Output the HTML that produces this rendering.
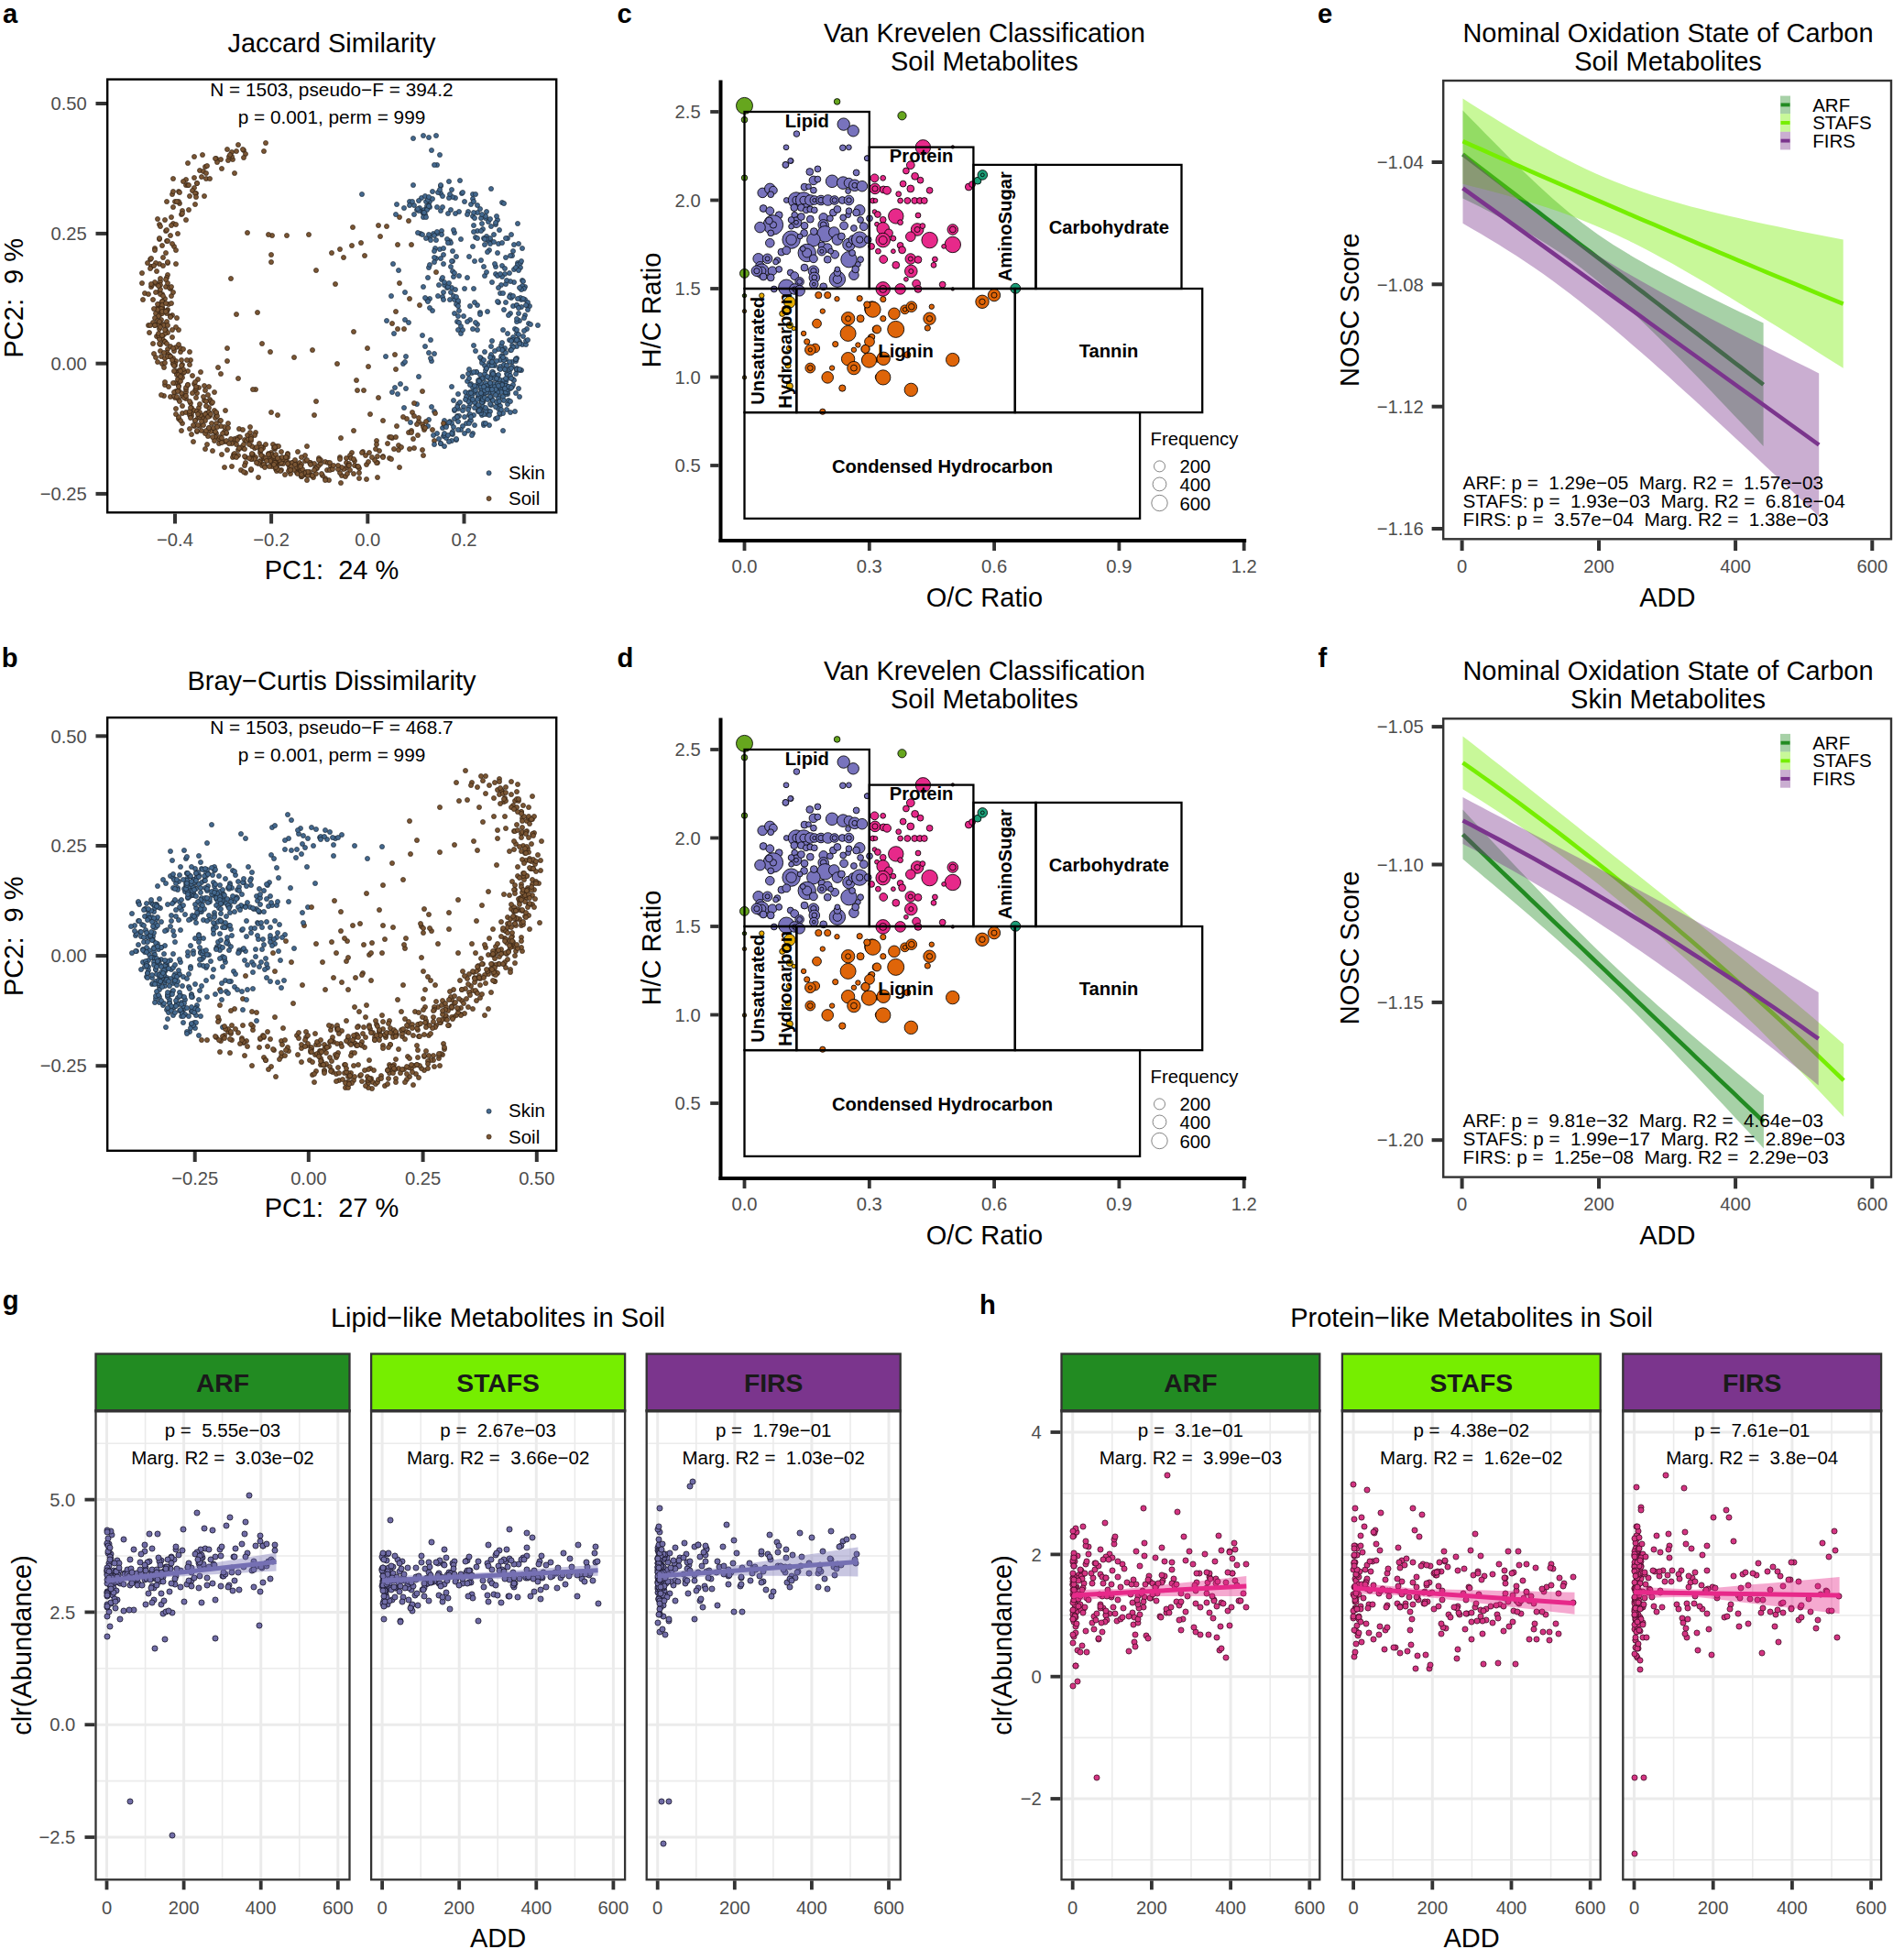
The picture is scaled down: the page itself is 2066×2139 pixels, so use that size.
<!DOCTYPE html>
<html><head><meta charset="utf-8"><title>Figure</title>
<style>
html,body{margin:0;padding:0;background:#fff;}
svg{display:block;}
text{font-family:"Liberation Sans", Arial, Helvetica, sans-serif;white-space:pre;}
.pc circle{r:2.55px;stroke-width:.6px}
.s{fill:#44698f;stroke:#14202c}
.o{fill:#7a5634;stroke:#2a1a0c}
.fg circle{r:3.05px;stroke-width:.85px}
</style></head>
<body>
<svg xmlns="http://www.w3.org/2000/svg" width="2066" height="2139" viewBox="0 0 2066 2139">
<rect x="0" y="0" width="2066" height="2139" fill="#fff"/>
<text x="362.0" y="56.5" font-size="29" text-anchor="middle" fill="#000">Jaccard Similarity</text>
<g class="pc"><circle class="s" cx="505" cy="465"/><circle class="s" cx="559" cy="422"/><circle class="o" cx="261" cy="477"/><circle class="o" cx="375" cy="281"/><circle class="o" cx="400" cy="507"/><circle class="o" cx="308" cy="505"/><circle class="s" cx="500" cy="360"/><circle class="s" cx="479" cy="311"/><circle class="s" cx="560" cy="274"/><circle class="s" cx="538" cy="390"/><circle class="s" cx="524" cy="341"/><circle class="o" cx="241" cy="408"/><circle class="o" cx="296" cy="494"/><circle class="s" cx="462" cy="233"/><circle class="s" cx="540" cy="423"/><circle class="o" cx="377" cy="511"/><circle class="o" cx="284" cy="494"/><circle class="s" cx="496" cy="448"/><circle class="s" cx="527" cy="439"/><circle class="o" cx="267" cy="480"/><circle class="s" cx="469" cy="220"/><circle class="o" cx="312" cy="502"/><circle class="o" cx="199" cy="398"/><circle class="o" cx="288" cy="500"/><circle class="o" cx="373" cy="519"/><circle class="o" cx="212" cy="171"/><circle class="o" cx="229" cy="436"/><circle class="o" cx="205" cy="405"/><circle class="o" cx="192" cy="406"/><circle class="o" cx="223" cy="437"/><circle class="o" cx="230" cy="438"/><circle class="s" cx="535" cy="418"/><circle class="o" cx="215" cy="200"/><circle class="o" cx="215" cy="200"/><circle class="s" cx="550" cy="426"/><circle class="s" cx="496" cy="254"/><circle class="s" cx="548" cy="388"/><circle class="s" cx="477" cy="255"/><circle class="o" cx="179" cy="432"/><circle class="o" cx="249" cy="175"/><circle class="s" cx="567" cy="373"/><circle class="o" cx="342" cy="521"/><circle class="o" cx="275" cy="501"/><circle class="s" cx="565" cy="370"/><circle class="s" cx="512" cy="453"/><circle class="o" cx="309" cy="506"/><circle class="s" cx="551" cy="380"/><circle class="s" cx="500" cy="330"/><circle class="o" cx="412" cy="505"/><circle class="s" cx="564" cy="364"/><circle class="s" cx="554" cy="441"/><circle class="o" cx="199" cy="230"/><circle class="s" cx="550" cy="338"/><circle class="s" cx="500" cy="446"/><circle class="o" cx="172" cy="339"/><circle class="s" cx="521" cy="252"/><circle class="s" cx="553" cy="408"/><circle class="o" cx="422" cy="247"/><circle class="s" cx="544" cy="442"/><circle class="s" cx="525" cy="425"/><circle class="o" cx="338" cy="515"/><circle class="s" cx="556" cy="406"/><circle class="s" cx="442" cy="319"/><circle class="o" cx="208" cy="393"/><circle class="o" cx="191" cy="434"/><circle class="s" cx="527" cy="250"/><circle class="s" cx="549" cy="360"/><circle class="s" cx="525" cy="284"/><circle class="s" cx="566" cy="372"/><circle class="s" cx="519" cy="259"/><circle class="o" cx="301" cy="512"/><circle class="s" cx="549" cy="382"/><circle class="o" cx="191" cy="399"/><circle class="o" cx="361" cy="509"/><circle class="o" cx="236" cy="462"/><circle class="o" cx="325" cy="512"/><circle class="o" cx="199" cy="432"/><circle class="s" cx="538" cy="421"/><circle class="o" cx="195" cy="416"/><circle class="s" cx="520" cy="442"/><circle class="s" cx="546" cy="452"/><circle class="o" cx="278" cy="489"/><circle class="o" cx="346" cy="511"/><circle class="s" cx="442" cy="349"/><circle class="o" cx="359" cy="524"/><circle class="s" cx="455" cy="229"/><circle class="o" cx="313" cy="257"/><circle class="o" cx="170" cy="342"/><circle class="s" cx="564" cy="391"/><circle class="s" cx="568" cy="292"/><circle class="s" cx="545" cy="433"/><circle class="o" cx="224" cy="490"/><circle class="o" cx="340" cy="519"/><circle class="o" cx="296" cy="278"/><circle class="s" cx="545" cy="402"/><circle class="o" cx="432" cy="403"/><circle class="s" cx="528" cy="260"/><circle class="o" cx="181" cy="360"/><circle class="o" cx="386" cy="362"/><circle class="o" cx="185" cy="388"/><circle class="o" cx="435" cy="491"/><circle class="o" cx="256" cy="482"/><circle class="o" cx="178" cy="366"/><circle class="s" cx="497" cy="216"/><circle class="s" cx="536" cy="247"/><circle class="o" cx="180" cy="420"/><circle class="o" cx="345" cy="438"/><circle class="s" cx="578" cy="334"/><circle class="s" cx="481" cy="484"/><circle class="o" cx="413" cy="246"/><circle class="o" cx="375" cy="512"/><circle class="s" cx="530" cy="418"/><circle class="o" cx="167" cy="375"/><circle class="s" cx="537" cy="436"/><circle class="s" cx="558" cy="256"/><circle class="o" cx="186" cy="433"/><circle class="s" cx="484" cy="476"/><circle class="o" cx="302" cy="514"/><circle class="o" cx="178" cy="354"/><circle class="s" cx="528" cy="429"/><circle class="s" cx="459" cy="255"/><circle class="o" cx="174" cy="318"/><circle class="o" cx="188" cy="212"/><circle class="s" cx="542" cy="425"/><circle class="s" cx="541" cy="299"/><circle class="o" cx="236" cy="454"/><circle class="s" cx="540" cy="399"/><circle class="s" cx="559" cy="395"/><circle class="o" cx="183" cy="381"/><circle class="o" cx="301" cy="501"/><circle class="o" cx="203" cy="240"/><circle class="o" cx="284" cy="491"/><circle class="s" cx="548" cy="416"/><circle class="s" cx="440" cy="397"/><circle class="o" cx="182" cy="220"/><circle class="s" cx="469" cy="226"/><circle class="o" cx="231" cy="462"/><circle class="s" cx="487" cy="478"/><circle class="o" cx="288" cy="500"/><circle class="o" cx="418" cy="498"/><circle class="o" cx="255" cy="496"/><circle class="s" cx="535" cy="434"/><circle class="s" cx="498" cy="332"/><circle class="o" cx="461" cy="463"/><circle class="s" cx="505" cy="411"/><circle class="o" cx="174" cy="359"/><circle class="o" cx="272" cy="480"/><circle class="o" cx="298" cy="485"/><circle class="o" cx="425" cy="500"/><circle class="o" cx="389" cy="415"/><circle class="o" cx="174" cy="288"/><circle class="s" cx="547" cy="389"/><circle class="s" cx="496" cy="342"/><circle class="o" cx="174" cy="245"/><circle class="o" cx="297" cy="509"/><circle class="o" cx="178" cy="371"/><circle class="o" cx="209" cy="445"/><circle class="o" cx="246" cy="482"/><circle class="o" cx="335" cy="524"/><circle class="o" cx="335" cy="487"/><circle class="o" cx="344" cy="511"/><circle class="s" cx="541" cy="428"/><circle class="o" cx="195" cy="457"/><circle class="s" cx="518" cy="285"/><circle class="s" cx="501" cy="231"/><circle class="o" cx="297" cy="257"/><circle class="s" cx="565" cy="244"/><circle class="s" cx="472" cy="217"/><circle class="o" cx="200" cy="407"/><circle class="o" cx="212" cy="205"/><circle class="o" cx="343" cy="453"/><circle class="s" cx="537" cy="308"/><circle class="o" cx="248" cy="163"/><circle class="s" cx="566" cy="266"/><circle class="o" cx="311" cy="518"/><circle class="s" cx="560" cy="368"/><circle class="s" cx="431" cy="423"/><circle class="o" cx="279" cy="499"/><circle class="o" cx="231" cy="470"/><circle class="o" cx="182" cy="351"/><circle class="s" cx="529" cy="301"/><circle class="o" cx="180" cy="373"/><circle class="o" cx="198" cy="234"/><circle class="o" cx="436" cy="237"/><circle class="o" cx="258" cy="165"/><circle class="o" cx="215" cy="429"/><circle class="o" cx="323" cy="506"/><circle class="o" cx="197" cy="384"/><circle class="o" cx="241" cy="174"/><circle class="s" cx="526" cy="438"/><circle class="s" cx="559" cy="377"/><circle class="s" cx="573" cy="327"/><circle class="s" cx="535" cy="262"/><circle class="s" cx="529" cy="399"/><circle class="s" cx="527" cy="438"/><circle class="o" cx="457" cy="460"/><circle class="o" cx="300" cy="490"/><circle class="o" cx="183" cy="363"/><circle class="s" cx="512" cy="444"/><circle class="o" cx="233" cy="468"/><circle class="o" cx="413" cy="434"/><circle class="s" cx="569" cy="335"/><circle class="s" cx="531" cy="452"/><circle class="o" cx="446" cy="472"/><circle class="o" cx="176" cy="349"/><circle class="o" cx="236" cy="451"/><circle class="s" cx="560" cy="334"/><circle class="s" cx="528" cy="464"/><circle class="o" cx="378" cy="505"/><circle class="s" cx="516" cy="217"/><circle class="o" cx="247" cy="473"/><circle class="s" cx="487" cy="464"/><circle class="o" cx="171" cy="310"/><circle class="o" cx="192" cy="446"/><circle class="o" cx="183" cy="338"/><circle class="o" cx="198" cy="429"/><circle class="s" cx="561" cy="294"/><circle class="s" cx="529" cy="408"/><circle class="s" cx="575" cy="359"/><circle class="o" cx="302" cy="507"/><circle class="s" cx="500" cy="441"/><circle class="o" cx="274" cy="513"/><circle class="s" cx="533" cy="263"/><circle class="o" cx="209" cy="454"/><circle class="o" cx="213" cy="426"/><circle class="o" cx="203" cy="202"/><circle class="s" cx="545" cy="443"/><circle class="s" cx="526" cy="425"/><circle class="s" cx="504" cy="211"/><circle class="s" cx="530" cy="238"/><circle class="o" cx="243" cy="482"/><circle class="o" cx="165" cy="291"/><circle class="s" cx="427" cy="323"/><circle class="s" cx="557" cy="342"/><circle class="s" cx="537" cy="408"/><circle class="o" cx="199" cy="451"/><circle class="o" cx="180" cy="326"/><circle class="s" cx="471" cy="164"/><circle class="s" cx="482" cy="305"/><circle class="s" cx="460" cy="230"/><circle class="o" cx="181" cy="313"/><circle class="o" cx="156" cy="327"/><circle class="o" cx="191" cy="220"/><circle class="s" cx="535" cy="266"/><circle class="o" cx="212" cy="448"/><circle class="o" cx="287" cy="488"/><circle class="s" cx="481" cy="211"/><circle class="s" cx="503" cy="261"/><circle class="s" cx="513" cy="349"/><circle class="o" cx="362" cy="512"/><circle class="s" cx="543" cy="414"/><circle class="o" cx="386" cy="470"/><circle class="s" cx="509" cy="462"/><circle class="s" cx="548" cy="427"/><circle class="s" cx="430" cy="364"/><circle class="s" cx="478" cy="210"/><circle class="o" cx="192" cy="394"/><circle class="o" cx="261" cy="468"/><circle class="s" cx="518" cy="439"/><circle class="o" cx="330" cy="517"/><circle class="s" cx="534" cy="421"/><circle class="o" cx="381" cy="506"/><circle class="s" cx="517" cy="429"/><circle class="o" cx="392" cy="522"/><circle class="o" cx="458" cy="333"/><circle class="o" cx="215" cy="471"/><circle class="s" cx="499" cy="454"/><circle class="s" cx="546" cy="443"/><circle class="o" cx="295" cy="500"/><circle class="s" cx="537" cy="411"/><circle class="s" cx="554" cy="409"/><circle class="o" cx="190" cy="269"/><circle class="o" cx="172" cy="336"/><circle class="s" cx="481" cy="203"/><circle class="s" cx="532" cy="340"/><circle class="o" cx="224" cy="182"/><circle class="o" cx="196" cy="222"/><circle class="s" cx="451" cy="202"/><circle class="o" cx="411" cy="481"/><circle class="o" cx="220" cy="470"/><circle class="s" cx="544" cy="266"/><circle class="o" cx="357" cy="513"/><circle class="s" cx="544" cy="446"/><circle class="o" cx="345" cy="511"/><circle class="s" cx="521" cy="354"/><circle class="s" cx="564" cy="402"/><circle class="o" cx="245" cy="471"/><circle class="o" cx="386" cy="517"/><circle class="o" cx="183" cy="287"/><circle class="o" cx="180" cy="373"/><circle class="o" cx="203" cy="435"/><circle class="o" cx="214" cy="211"/><circle class="s" cx="564" cy="333"/><circle class="o" cx="355" cy="522"/><circle class="s" cx="495" cy="302"/><circle class="s" cx="527" cy="444"/><circle class="s" cx="494" cy="274"/><circle class="o" cx="182" cy="385"/><circle class="o" cx="177" cy="397"/><circle class="o" cx="177" cy="336"/><circle class="o" cx="266" cy="164"/><circle class="o" cx="302" cy="503"/><circle class="o" cx="211" cy="482"/><circle class="o" cx="192" cy="379"/><circle class="s" cx="516" cy="473"/><circle class="o" cx="227" cy="476"/><circle class="s" cx="477" cy="180"/><circle class="s" cx="552" cy="310"/><circle class="s" cx="554" cy="430"/><circle class="o" cx="177" cy="329"/><circle class="s" cx="552" cy="417"/><circle class="o" cx="423" cy="484"/><circle class="o" cx="449" cy="470"/><circle class="o" cx="265" cy="469"/><circle class="s" cx="531" cy="402"/><circle class="o" cx="329" cy="520"/><circle class="o" cx="167" cy="352"/><circle class="s" cx="521" cy="360"/><circle class="s" cx="544" cy="330"/><circle class="o" cx="402" cy="504"/><circle class="s" cx="506" cy="444"/><circle class="s" cx="468" cy="224"/><circle class="o" cx="287" cy="489"/><circle class="s" cx="537" cy="419"/><circle class="o" cx="348" cy="508"/><circle class="o" cx="240" cy="459"/><circle class="s" cx="552" cy="430"/><circle class="o" cx="450" cy="450"/><circle class="o" cx="245" cy="466"/><circle class="o" cx="339" cy="505"/><circle class="o" cx="387" cy="503"/><circle class="s" cx="551" cy="403"/><circle class="s" cx="534" cy="434"/><circle class="s" cx="525" cy="391"/><circle class="o" cx="400" cy="523"/><circle class="s" cx="422" cy="350"/><circle class="s" cx="517" cy="377"/><circle class="s" cx="513" cy="428"/><circle class="s" cx="503" cy="364"/><circle class="s" cx="468" cy="458"/><circle class="s" cx="541" cy="457"/><circle class="o" cx="372" cy="527"/><circle class="o" cx="192" cy="427"/><circle class="o" cx="392" cy="516"/><circle class="o" cx="268" cy="505"/><circle class="o" cx="219" cy="406"/><circle class="s" cx="555" cy="344"/><circle class="o" cx="223" cy="453"/><circle class="o" cx="238" cy="401"/><circle class="s" cx="455" cy="441"/><circle class="s" cx="549" cy="415"/><circle class="s" cx="558" cy="325"/><circle class="o" cx="307" cy="513"/><circle class="s" cx="565" cy="350"/><circle class="o" cx="177" cy="329"/><circle class="s" cx="542" cy="410"/><circle class="o" cx="224" cy="426"/><circle class="s" cx="498" cy="480"/><circle class="o" cx="228" cy="445"/><circle class="o" cx="175" cy="343"/><circle class="o" cx="212" cy="465"/><circle class="s" cx="532" cy="448"/><circle class="s" cx="528" cy="291"/><circle class="o" cx="216" cy="414"/><circle class="s" cx="511" cy="470"/><circle class="o" cx="373" cy="510"/><circle class="o" cx="207" cy="468"/><circle class="o" cx="427" cy="501"/><circle class="s" cx="556" cy="403"/><circle class="o" cx="399" cy="497"/><circle class="s" cx="573" cy="344"/><circle class="o" cx="279" cy="425"/><circle class="o" cx="269" cy="481"/><circle class="o" cx="276" cy="496"/><circle class="o" cx="275" cy="487"/><circle class="s" cx="452" cy="234"/><circle class="s" cx="522" cy="433"/><circle class="s" cx="467" cy="465"/><circle class="s" cx="493" cy="314"/><circle class="s" cx="531" cy="258"/><circle class="o" cx="279" cy="472"/><circle class="o" cx="306" cy="514"/><circle class="s" cx="505" cy="448"/><circle class="s" cx="549" cy="391"/><circle class="o" cx="212" cy="419"/><circle class="o" cx="333" cy="518"/><circle class="s" cx="557" cy="322"/><circle class="o" cx="203" cy="450"/><circle class="s" cx="546" cy="393"/><circle class="s" cx="395" cy="212"/><circle class="s" cx="524" cy="414"/><circle class="o" cx="184" cy="332"/><circle class="o" cx="263" cy="513"/><circle class="o" cx="368" cy="397"/><circle class="o" cx="425" cy="477"/><circle class="o" cx="182" cy="339"/><circle class="s" cx="519" cy="422"/><circle class="o" cx="428" cy="478"/><circle class="s" cx="570" cy="376"/><circle class="s" cx="492" cy="291"/><circle class="s" cx="478" cy="323"/><circle class="s" cx="534" cy="413"/><circle class="o" cx="271" cy="479"/><circle class="o" cx="169" cy="308"/><circle class="s" cx="549" cy="422"/><circle class="o" cx="209" cy="451"/><circle class="s" cx="468" cy="150"/><circle class="o" cx="173" cy="345"/><circle class="s" cx="483" cy="324"/><circle class="s" cx="494" cy="285"/><circle class="o" cx="412" cy="498"/><circle class="s" cx="472" cy="339"/><circle class="s" cx="494" cy="215"/><circle class="o" cx="190" cy="432"/><circle class="o" cx="176" cy="389"/><circle class="s" cx="513" cy="459"/><circle class="s" cx="507" cy="315"/><circle class="o" cx="228" cy="450"/><circle class="s" cx="531" cy="231"/><circle class="o" cx="414" cy="492"/><circle class="s" cx="546" cy="320"/><circle class="o" cx="235" cy="456"/><circle class="s" cx="493" cy="481"/><circle class="s" cx="554" cy="428"/><circle class="o" cx="333" cy="517"/><circle class="o" cx="319" cy="505"/><circle class="o" cx="180" cy="240"/><circle class="o" cx="221" cy="456"/><circle class="s" cx="473" cy="255"/><circle class="s" cx="539" cy="419"/><circle class="o" cx="394" cy="265"/><circle class="o" cx="254" cy="499"/><circle class="s" cx="543" cy="427"/><circle class="o" cx="192" cy="405"/><circle class="o" cx="329" cy="520"/><circle class="o" cx="183" cy="300"/><circle class="s" cx="515" cy="433"/><circle class="s" cx="517" cy="253"/><circle class="o" cx="265" cy="489"/><circle class="s" cx="497" cy="316"/><circle class="o" cx="177" cy="340"/><circle class="s" cx="529" cy="384"/><circle class="o" cx="306" cy="500"/><circle class="o" cx="170" cy="319"/><circle class="o" cx="194" cy="407"/><circle class="s" cx="516" cy="423"/><circle class="s" cx="447" cy="220"/><circle class="s" cx="514" cy="223"/><circle class="o" cx="184" cy="387"/><circle class="s" cx="534" cy="396"/><circle class="o" cx="333" cy="497"/><circle class="o" cx="398" cy="279"/><circle class="s" cx="474" cy="386"/><circle class="o" cx="210" cy="208"/><circle class="s" cx="547" cy="377"/><circle class="o" cx="461" cy="427"/><circle class="o" cx="256" cy="495"/><circle class="s" cx="521" cy="333"/><circle class="o" cx="296" cy="496"/><circle class="s" cx="526" cy="438"/><circle class="o" cx="278" cy="501"/><circle class="o" cx="290" cy="485"/><circle class="s" cx="536" cy="422"/><circle class="o" cx="195" cy="220"/><circle class="s" cx="557" cy="410"/><circle class="o" cx="270" cy="475"/><circle class="s" cx="552" cy="330"/><circle class="o" cx="191" cy="418"/><circle class="s" cx="475" cy="271"/><circle class="s" cx="520" cy="406"/><circle class="o" cx="284" cy="503"/><circle class="s" cx="485" cy="311"/><circle class="s" cx="464" cy="234"/><circle class="s" cx="463" cy="229"/><circle class="s" cx="525" cy="431"/><circle class="s" cx="512" cy="403"/><circle class="o" cx="325" cy="493"/><circle class="s" cx="536" cy="433"/><circle class="s" cx="435" cy="295"/><circle class="o" cx="328" cy="514"/><circle class="o" cx="188" cy="266"/><circle class="s" cx="516" cy="236"/><circle class="s" cx="448" cy="461"/><circle class="s" cx="575" cy="333"/><circle class="o" cx="216" cy="456"/><circle class="s" cx="500" cy="430"/><circle class="s" cx="488" cy="314"/><circle class="o" cx="208" cy="440"/><circle class="o" cx="295" cy="384"/><circle class="s" cx="566" cy="365"/><circle class="o" cx="404" cy="452"/><circle class="s" cx="559" cy="279"/><circle class="s" cx="466" cy="225"/><circle class="s" cx="565" cy="287"/><circle class="o" cx="195" cy="360"/><circle class="s" cx="564" cy="333"/><circle class="o" cx="256" cy="479"/><circle class="s" cx="538" cy="437"/><circle class="o" cx="164" cy="283"/><circle class="s" cx="458" cy="227"/><circle class="o" cx="248" cy="380"/><circle class="s" cx="570" cy="306"/><circle class="o" cx="236" cy="473"/><circle class="s" cx="535" cy="260"/><circle class="o" cx="260" cy="491"/><circle class="o" cx="427" cy="477"/><circle class="o" cx="431" cy="387"/><circle class="o" cx="201" cy="406"/><circle class="s" cx="552" cy="421"/><circle class="o" cx="278" cy="475"/><circle class="s" cx="441" cy="445"/><circle class="s" cx="546" cy="400"/><circle class="o" cx="240" cy="483"/><circle class="o" cx="316" cy="508"/><circle class="s" cx="526" cy="439"/><circle class="s" cx="536" cy="397"/><circle class="s" cx="561" cy="267"/><circle class="s" cx="551" cy="299"/><circle class="o" cx="274" cy="481"/><circle class="s" cx="474" cy="449"/><circle class="s" cx="492" cy="319"/><circle class="o" cx="306" cy="506"/><circle class="s" cx="548" cy="290"/><circle class="o" cx="298" cy="506"/><circle class="o" cx="194" cy="414"/><circle class="o" cx="189" cy="244"/><circle class="s" cx="587" cy="355"/><circle class="s" cx="522" cy="448"/><circle class="o" cx="249" cy="467"/><circle class="s" cx="538" cy="406"/><circle class="o" cx="235" cy="477"/><circle class="o" cx="245" cy="510"/><circle class="o" cx="302" cy="487"/><circle class="o" cx="270" cy="254"/><circle class="o" cx="402" cy="400"/><circle class="o" cx="180" cy="391"/><circle class="o" cx="248" cy="394"/><circle class="s" cx="562" cy="449"/><circle class="o" cx="315" cy="505"/><circle class="s" cx="552" cy="281"/><circle class="o" cx="254" cy="174"/><circle class="o" cx="173" cy="353"/><circle class="o" cx="293" cy="495"/><circle class="o" cx="231" cy="440"/><circle class="s" cx="524" cy="434"/><circle class="o" cx="197" cy="380"/><circle class="s" cx="570" cy="271"/><circle class="s" cx="512" cy="435"/><circle class="o" cx="175" cy="334"/><circle class="o" cx="205" cy="178"/><circle class="s" cx="505" cy="360"/><circle class="s" cx="483" cy="214"/><circle class="o" cx="382" cy="513"/><circle class="s" cx="528" cy="413"/><circle class="s" cx="534" cy="399"/><circle class="o" cx="213" cy="211"/><circle class="s" cx="527" cy="436"/><circle class="s" cx="531" cy="261"/><circle class="o" cx="171" cy="367"/><circle class="o" cx="179" cy="355"/><circle class="s" cx="561" cy="308"/><circle class="o" cx="193" cy="409"/><circle class="o" cx="224" cy="453"/><circle class="o" cx="195" cy="409"/><circle class="o" cx="296" cy="502"/><circle class="s" cx="565" cy="289"/><circle class="o" cx="302" cy="510"/><circle class="o" cx="239" cy="479"/><circle class="s" cx="564" cy="378"/><circle class="s" cx="515" cy="407"/><circle class="s" cx="533" cy="424"/><circle class="o" cx="195" cy="436"/><circle class="o" cx="165" cy="291"/><circle class="s" cx="552" cy="392"/><circle class="s" cx="542" cy="414"/><circle class="o" cx="303" cy="512"/><circle class="o" cx="173" cy="332"/><circle class="o" cx="294" cy="509"/><circle class="o" cx="172" cy="395"/><circle class="o" cx="352" cy="519"/><circle class="s" cx="562" cy="359"/><circle class="o" cx="457" cy="456"/><circle class="s" cx="485" cy="459"/><circle class="o" cx="401" cy="380"/><circle class="o" cx="201" cy="434"/><circle class="s" cx="502" cy="197"/><circle class="o" cx="317" cy="512"/><circle class="s" cx="564" cy="404"/><circle class="o" cx="189" cy="397"/><circle class="s" cx="550" cy="393"/><circle class="o" cx="263" cy="488"/><circle class="o" cx="177" cy="336"/><circle class="o" cx="299" cy="498"/><circle class="s" cx="511" cy="231"/><circle class="o" cx="433" cy="465"/><circle class="s" cx="469" cy="336"/><circle class="o" cx="351" cy="517"/><circle class="o" cx="258" cy="485"/><circle class="s" cx="530" cy="429"/><circle class="o" cx="186" cy="257"/><circle class="o" cx="165" cy="282"/><circle class="s" cx="496" cy="457"/><circle class="o" cx="214" cy="434"/><circle class="o" cx="247" cy="481"/><circle class="o" cx="265" cy="163"/><circle class="s" cx="548" cy="374"/><circle class="s" cx="505" cy="210"/><circle class="o" cx="268" cy="516"/><circle class="o" cx="256" cy="189"/><circle class="s" cx="536" cy="378"/><circle class="s" cx="484" cy="278"/><circle class="s" cx="464" cy="378"/><circle class="s" cx="534" cy="428"/><circle class="o" cx="203" cy="196"/><circle class="s" cx="476" cy="282"/><circle class="o" cx="321" cy="513"/><circle class="o" cx="287" cy="498"/><circle class="o" cx="180" cy="396"/><circle class="o" cx="223" cy="214"/><circle class="s" cx="542" cy="422"/><circle class="o" cx="213" cy="417"/><circle class="o" cx="207" cy="384"/><circle class="o" cx="218" cy="186"/><circle class="o" cx="314" cy="499"/><circle class="o" cx="162" cy="355"/><circle class="o" cx="180" cy="417"/><circle class="o" cx="362" cy="276"/><circle class="s" cx="577" cy="353"/><circle class="s" cx="556" cy="371"/><circle class="s" cx="543" cy="456"/><circle class="o" cx="336" cy="519"/><circle class="o" cx="303" cy="453"/><circle class="o" cx="177" cy="268"/><circle class="o" cx="286" cy="375"/><circle class="o" cx="171" cy="296"/><circle class="s" cx="535" cy="418"/><circle class="s" cx="536" cy="411"/><circle class="s" cx="566" cy="342"/><circle class="o" cx="350" cy="506"/><circle class="o" cx="285" cy="488"/><circle class="s" cx="442" cy="395"/><circle class="o" cx="169" cy="271"/><circle class="s" cx="483" cy="467"/><circle class="o" cx="185" cy="389"/><circle class="s" cx="500" cy="334"/><circle class="s" cx="421" cy="389"/><circle class="s" cx="502" cy="439"/><circle class="o" cx="384" cy="494"/><circle class="s" cx="543" cy="240"/><circle class="o" cx="189" cy="418"/><circle class="s" cx="551" cy="428"/><circle class="o" cx="207" cy="398"/><circle class="o" cx="240" cy="477"/><circle class="s" cx="528" cy="462"/><circle class="s" cx="547" cy="311"/><circle class="s" cx="503" cy="469"/><circle class="o" cx="218" cy="465"/><circle class="o" cx="334" cy="515"/><circle class="s" cx="539" cy="264"/><circle class="s" cx="469" cy="326"/><circle class="o" cx="203" cy="428"/><circle class="s" cx="477" cy="473"/><circle class="o" cx="397" cy="426"/><circle class="o" cx="446" cy="241"/><circle class="o" cx="225" cy="195"/><circle class="o" cx="327" cy="516"/><circle class="s" cx="521" cy="232"/><circle class="o" cx="275" cy="496"/><circle class="o" cx="229" cy="195"/><circle class="o" cx="304" cy="503"/><circle class="o" cx="252" cy="304"/><circle class="o" cx="155" cy="309"/><circle class="o" cx="355" cy="504"/><circle class="o" cx="189" cy="209"/><circle class="o" cx="301" cy="505"/><circle class="s" cx="549" cy="433"/><circle class="o" cx="372" cy="478"/><circle class="o" cx="175" cy="376"/><circle class="o" cx="179" cy="401"/><circle class="s" cx="524" cy="228"/><circle class="o" cx="169" cy="355"/><circle class="o" cx="360" cy="513"/><circle class="o" cx="475" cy="451"/><circle class="o" cx="222" cy="464"/><circle class="o" cx="336" cy="515"/><circle class="o" cx="333" cy="503"/><circle class="o" cx="430" cy="490"/><circle class="o" cx="188" cy="368"/><circle class="o" cx="217" cy="445"/><circle class="s" cx="503" cy="356"/><circle class="o" cx="253" cy="484"/><circle class="o" cx="186" cy="378"/><circle class="o" cx="217" cy="423"/><circle class="o" cx="232" cy="439"/><circle class="s" cx="531" cy="421"/><circle class="o" cx="296" cy="286"/><circle class="o" cx="199" cy="443"/><circle class="o" cx="192" cy="288"/><circle class="s" cx="507" cy="220"/><circle class="s" cx="496" cy="327"/><circle class="o" cx="428" cy="353"/><circle class="o" cx="174" cy="369"/><circle class="o" cx="246" cy="448"/><circle class="s" cx="466" cy="327"/><circle class="o" cx="222" cy="187"/><circle class="s" cx="531" cy="297"/><circle class="s" cx="563" cy="429"/><circle class="s" cx="466" cy="228"/><circle class="o" cx="411" cy="505"/><circle class="o" cx="216" cy="464"/><circle class="o" cx="203" cy="425"/><circle class="o" cx="274" cy="501"/><circle class="o" cx="206" cy="229"/><circle class="s" cx="563" cy="394"/><circle class="s" cx="539" cy="413"/><circle class="o" cx="330" cy="519"/><circle class="s" cx="548" cy="419"/><circle class="o" cx="239" cy="484"/><circle class="o" cx="192" cy="357"/><circle class="s" cx="545" cy="414"/><circle class="o" cx="188" cy="344"/><circle class="s" cx="557" cy="307"/><circle class="o" cx="241" cy="459"/><circle class="o" cx="307" cy="505"/><circle class="s" cx="482" cy="252"/><circle class="o" cx="184" cy="422"/><circle class="o" cx="260" cy="413"/><circle class="o" cx="324" cy="516"/><circle class="s" cx="506" cy="345"/><circle class="s" cx="474" cy="286"/><circle class="o" cx="266" cy="515"/><circle class="s" cx="485" cy="464"/><circle class="o" cx="203" cy="432"/><circle class="o" cx="341" cy="519"/><circle class="o" cx="449" cy="472"/><circle class="o" cx="289" cy="508"/><circle class="o" cx="273" cy="472"/><circle class="s" cx="530" cy="236"/><circle class="s" cx="537" cy="391"/><circle class="s" cx="543" cy="301"/><circle class="o" cx="285" cy="497"/><circle class="s" cx="526" cy="393"/><circle class="o" cx="274" cy="477"/><circle class="s" cx="484" cy="288"/><circle class="o" cx="182" cy="375"/><circle class="s" cx="520" cy="406"/><circle class="o" cx="463" cy="469"/><circle class="s" cx="554" cy="260"/><circle class="o" cx="345" cy="517"/><circle class="s" cx="556" cy="395"/><circle class="s" cx="548" cy="265"/><circle class="s" cx="546" cy="403"/><circle class="o" cx="232" cy="492"/><circle class="o" cx="241" cy="465"/><circle class="s" cx="433" cy="223"/><circle class="o" cx="173" cy="355"/><circle class="o" cx="175" cy="357"/><circle class="s" cx="513" cy="440"/><circle class="s" cx="549" cy="470"/><circle class="s" cx="522" cy="434"/><circle class="o" cx="197" cy="416"/><circle class="s" cx="542" cy="429"/><circle class="o" cx="305" cy="502"/><circle class="o" cx="296" cy="504"/><circle class="s" cx="535" cy="433"/><circle class="o" cx="441" cy="359"/><circle class="s" cx="447" cy="224"/><circle class="o" cx="418" cy="499"/><circle class="s" cx="480" cy="207"/><circle class="o" cx="295" cy="503"/><circle class="s" cx="529" cy="267"/><circle class="s" cx="494" cy="471"/><circle class="o" cx="200" cy="198"/><circle class="o" cx="371" cy="516"/><circle class="s" cx="542" cy="236"/><circle class="o" cx="225" cy="451"/><circle class="o" cx="343" cy="506"/><circle class="s" cx="541" cy="291"/><circle class="s" cx="474" cy="281"/><circle class="s" cx="539" cy="398"/><circle class="s" cx="543" cy="276"/><circle class="s" cx="546" cy="424"/><circle class="o" cx="175" cy="307"/><circle class="s" cx="514" cy="419"/><circle class="o" cx="261" cy="489"/><circle class="o" cx="444" cy="457"/><circle class="s" cx="564" cy="360"/><circle class="s" cx="481" cy="230"/><circle class="o" cx="214" cy="424"/><circle class="s" cx="443" cy="424"/><circle class="s" cx="482" cy="256"/><circle class="s" cx="552" cy="385"/><circle class="s" cx="563" cy="392"/><circle class="s" cx="499" cy="351"/><circle class="s" cx="477" cy="226"/><circle class="s" cx="556" cy="298"/><circle class="o" cx="237" cy="454"/><circle class="s" cx="540" cy="410"/><circle class="s" cx="510" cy="234"/><circle class="s" cx="467" cy="329"/><circle class="o" cx="199" cy="412"/><circle class="o" cx="189" cy="226"/><circle class="s" cx="549" cy="320"/><circle class="s" cx="529" cy="434"/><circle class="s" cx="568" cy="287"/><circle class="o" cx="177" cy="342"/><circle class="o" cx="189" cy="195"/><circle class="o" cx="461" cy="491"/><circle class="o" cx="158" cy="320"/><circle class="s" cx="525" cy="252"/><circle class="s" cx="548" cy="382"/><circle class="o" cx="276" cy="425"/><circle class="s" cx="526" cy="413"/><circle class="o" cx="195" cy="421"/><circle class="o" cx="182" cy="342"/><circle class="o" cx="192" cy="245"/><circle class="s" cx="567" cy="375"/><circle class="s" cx="547" cy="428"/><circle class="o" cx="181" cy="276"/><circle class="o" cx="436" cy="309"/><circle class="o" cx="177" cy="337"/><circle class="s" cx="560" cy="371"/><circle class="o" cx="285" cy="505"/><circle class="o" cx="371" cy="499"/><circle class="s" cx="491" cy="263"/><circle class="o" cx="242" cy="483"/><circle class="s" cx="522" cy="418"/><circle class="s" cx="485" cy="475"/><circle class="s" cx="429" cy="288"/><circle class="o" cx="385" cy="248"/><circle class="s" cx="521" cy="260"/><circle class="o" cx="195" cy="209"/><circle class="s" cx="574" cy="376"/><circle class="s" cx="517" cy="315"/><circle class="o" cx="338" cy="505"/><circle class="o" cx="409" cy="502"/><circle class="o" cx="229" cy="454"/><circle class="o" cx="226" cy="181"/><circle class="o" cx="411" cy="485"/><circle class="s" cx="495" cy="251"/><circle class="o" cx="435" cy="486"/><circle class="o" cx="224" cy="459"/><circle class="s" cx="537" cy="399"/><circle class="o" cx="242" cy="184"/><circle class="s" cx="489" cy="313"/><circle class="o" cx="228" cy="422"/><circle class="o" cx="434" cy="267"/><circle class="o" cx="234" cy="481"/><circle class="s" cx="557" cy="382"/><circle class="s" cx="517" cy="453"/><circle class="s" cx="554" cy="364"/><circle class="s" cx="471" cy="444"/><circle class="s" cx="500" cy="328"/><circle class="s" cx="513" cy="452"/><circle class="s" cx="452" cy="224"/><circle class="o" cx="387" cy="508"/><circle class="s" cx="492" cy="229"/><circle class="s" cx="466" cy="229"/><circle class="s" cx="548" cy="302"/><circle class="o" cx="234" cy="471"/><circle class="s" cx="495" cy="323"/><circle class="s" cx="470" cy="371"/><circle class="o" cx="329" cy="499"/><circle class="o" cx="259" cy="478"/><circle class="s" cx="524" cy="420"/><circle class="o" cx="180" cy="364"/><circle class="o" cx="286" cy="508"/><circle class="o" cx="236" cy="173"/><circle class="s" cx="533" cy="242"/><circle class="s" cx="540" cy="422"/><circle class="s" cx="534" cy="464"/><circle class="s" cx="471" cy="394"/><circle class="s" cx="457" cy="230"/><circle class="o" cx="358" cy="505"/><circle class="s" cx="516" cy="212"/><circle class="s" cx="511" cy="408"/><circle class="s" cx="532" cy="436"/><circle class="o" cx="324" cy="510"/><circle class="s" cx="518" cy="445"/><circle class="s" cx="462" cy="232"/><circle class="s" cx="537" cy="395"/><circle class="o" cx="196" cy="404"/><circle class="o" cx="230" cy="471"/><circle class="o" cx="177" cy="333"/><circle class="o" cx="169" cy="347"/><circle class="o" cx="235" cy="471"/><circle class="o" cx="315" cy="507"/><circle class="o" cx="205" cy="420"/><circle class="o" cx="432" cy="340"/><circle class="s" cx="573" cy="313"/><circle class="o" cx="213" cy="459"/><circle class="s" cx="559" cy="400"/><circle class="s" cx="576" cy="338"/><circle class="s" cx="523" cy="415"/><circle class="o" cx="155" cy="298"/><circle class="s" cx="530" cy="404"/><circle class="o" cx="163" cy="363"/><circle class="s" cx="526" cy="453"/><circle class="s" cx="518" cy="238"/><circle class="s" cx="546" cy="299"/><circle class="s" cx="470" cy="391"/><circle class="s" cx="552" cy="260"/><circle class="s" cx="534" cy="273"/><circle class="s" cx="526" cy="244"/><circle class="s" cx="543" cy="411"/><circle class="s" cx="517" cy="427"/><circle class="o" cx="203" cy="423"/><circle class="s" cx="544" cy="381"/><circle class="o" cx="190" cy="383"/><circle class="s" cx="483" cy="303"/><circle class="s" cx="535" cy="425"/><circle class="s" cx="530" cy="449"/><circle class="s" cx="451" cy="151"/><circle class="s" cx="530" cy="445"/><circle class="o" cx="260" cy="158"/><circle class="o" cx="275" cy="495"/><circle class="s" cx="564" cy="403"/><circle class="o" cx="396" cy="493"/><circle class="s" cx="541" cy="444"/><circle class="o" cx="225" cy="443"/><circle class="s" cx="525" cy="238"/><circle class="s" cx="569" cy="327"/><circle class="s" cx="576" cy="330"/><circle class="o" cx="317" cy="517"/><circle class="o" cx="228" cy="450"/><circle class="o" cx="207" cy="438"/><circle class="o" cx="214" cy="215"/><circle class="s" cx="510" cy="416"/><circle class="s" cx="521" cy="224"/><circle class="o" cx="472" cy="469"/><circle class="o" cx="225" cy="189"/><circle class="s" cx="514" cy="459"/><circle class="s" cx="518" cy="464"/><circle class="o" cx="247" cy="472"/><circle class="o" cx="174" cy="370"/><circle class="o" cx="438" cy="488"/><circle class="o" cx="213" cy="223"/><circle class="o" cx="390" cy="426"/><circle class="o" cx="220" cy="460"/><circle class="o" cx="191" cy="397"/><circle class="o" cx="250" cy="484"/><circle class="s" cx="428" cy="428"/><circle class="s" cx="560" cy="420"/><circle class="o" cx="209" cy="474"/><circle class="o" cx="173" cy="366"/><circle class="s" cx="490" cy="216"/><circle class="s" cx="525" cy="422"/><circle class="s" cx="552" cy="428"/><circle class="o" cx="390" cy="509"/><circle class="s" cx="531" cy="428"/><circle class="o" cx="339" cy="507"/><circle class="s" cx="499" cy="444"/><circle class="s" cx="553" cy="414"/><circle class="s" cx="468" cy="292"/><circle class="o" cx="169" cy="273"/><circle class="o" cx="164" cy="355"/><circle class="s" cx="543" cy="428"/><circle class="s" cx="530" cy="462"/><circle class="o" cx="174" cy="261"/><circle class="o" cx="183" cy="309"/><circle class="s" cx="544" cy="314"/><circle class="s" cx="569" cy="285"/><circle class="o" cx="290" cy="500"/><circle class="o" cx="182" cy="263"/><circle class="s" cx="491" cy="460"/><circle class="o" cx="183" cy="286"/><circle class="o" cx="227" cy="470"/><circle class="s" cx="516" cy="269"/><circle class="o" cx="187" cy="323"/><circle class="s" cx="560" cy="379"/><circle class="o" cx="432" cy="477"/><circle class="o" cx="207" cy="453"/><circle class="s" cx="520" cy="422"/><circle class="o" cx="218" cy="455"/><circle class="s" cx="570" cy="312"/><circle class="o" cx="177" cy="321"/><circle class="o" cx="288" cy="507"/><circle class="s" cx="554" cy="425"/><circle class="o" cx="182" cy="303"/><circle class="s" cx="567" cy="433"/><circle class="s" cx="465" cy="220"/><circle class="s" cx="536" cy="387"/><circle class="o" cx="289" cy="510"/><circle class="o" cx="314" cy="495"/><circle class="s" cx="524" cy="390"/><circle class="s" cx="558" cy="382"/><circle class="s" cx="528" cy="452"/><circle class="o" cx="316" cy="511"/><circle class="s" cx="549" cy="451"/><circle class="s" cx="501" cy="352"/><circle class="o" cx="283" cy="504"/><circle class="s" cx="507" cy="455"/><circle class="s" cx="569" cy="404"/><circle class="s" cx="572" cy="315"/><circle class="o" cx="451" cy="479"/><circle class="s" cx="567" cy="350"/><circle class="s" cx="460" cy="216"/><circle class="s" cx="461" cy="366"/><circle class="o" cx="211" cy="464"/><circle class="s" cx="532" cy="275"/><circle class="s" cx="535" cy="449"/><circle class="s" cx="446" cy="352"/><circle class="s" cx="468" cy="225"/><circle class="o" cx="434" cy="359"/><circle class="s" cx="517" cy="220"/><circle class="s" cx="490" cy="198"/><circle class="s" cx="558" cy="402"/><circle class="o" cx="325" cy="517"/><circle class="s" cx="544" cy="409"/><circle class="s" cx="530" cy="424"/><circle class="o" cx="196" cy="210"/><circle class="s" cx="501" cy="339"/><circle class="o" cx="436" cy="510"/><circle class="s" cx="574" cy="333"/><circle class="o" cx="327" cy="505"/><circle class="s" cx="542" cy="394"/><circle class="o" cx="172" cy="350"/><circle class="o" cx="392" cy="511"/><circle class="o" cx="329" cy="507"/><circle class="s" cx="480" cy="272"/><circle class="s" cx="500" cy="345"/><circle class="o" cx="299" cy="489"/><circle class="s" cx="571" cy="367"/><circle class="s" cx="542" cy="413"/><circle class="s" cx="538" cy="428"/><circle class="s" cx="511" cy="438"/><circle class="s" cx="476" cy="262"/><circle class="o" cx="170" cy="287"/><circle class="s" cx="510" cy="351"/><circle class="o" cx="440" cy="455"/><circle class="o" cx="378" cy="500"/><circle class="o" cx="187" cy="331"/><circle class="o" cx="170" cy="390"/><circle class="o" cx="260" cy="497"/><circle class="s" cx="500" cy="469"/><circle class="s" cx="566" cy="336"/><circle class="o" cx="288" cy="165"/><circle class="s" cx="472" cy="209"/><circle class="o" cx="369" cy="512"/><circle class="o" cx="176" cy="431"/><circle class="o" cx="173" cy="364"/><circle class="s" cx="571" cy="307"/><circle class="s" cx="493" cy="462"/><circle class="o" cx="319" cy="505"/><circle class="o" cx="237" cy="177"/><circle class="o" cx="233" cy="467"/><circle class="s" cx="540" cy="288"/><circle class="s" cx="544" cy="435"/><circle class="s" cx="557" cy="279"/><circle class="o" cx="456" cy="475"/><circle class="o" cx="213" cy="459"/><circle class="s" cx="552" cy="413"/><circle class="s" cx="563" cy="392"/><circle class="s" cx="469" cy="259"/><circle class="o" cx="249" cy="462"/><circle class="s" cx="525" cy="451"/><circle class="s" cx="456" cy="254"/><circle class="s" cx="551" cy="293"/><circle class="o" cx="175" cy="247"/><circle class="s" cx="470" cy="262"/><circle class="s" cx="519" cy="352"/><circle class="s" cx="556" cy="324"/><circle class="o" cx="186" cy="389"/><circle class="o" cx="348" cy="500"/><circle class="o" cx="380" cy="508"/><circle class="o" cx="172" cy="332"/><circle class="s" cx="443" cy="389"/><circle class="s" cx="558" cy="372"/><circle class="s" cx="548" cy="221"/><circle class="s" cx="563" cy="292"/><circle class="s" cx="550" cy="398"/><circle class="s" cx="560" cy="414"/><circle class="s" cx="568" cy="325"/><circle class="o" cx="314" cy="496"/><circle class="o" cx="452" cy="454"/><circle class="s" cx="524" cy="343"/><circle class="s" cx="468" cy="385"/><circle class="o" cx="285" cy="491"/><circle class="o" cx="343" cy="513"/><circle class="s" cx="555" cy="437"/><circle class="s" cx="498" cy="280"/><circle class="s" cx="494" cy="474"/><circle class="o" cx="282" cy="506"/><circle class="o" cx="193" cy="433"/><circle class="o" cx="205" cy="202"/><circle class="o" cx="293" cy="256"/><circle class="s" cx="495" cy="466"/><circle class="o" cx="462" cy="497"/><circle class="o" cx="327" cy="510"/><circle class="o" cx="350" cy="502"/><circle class="o" cx="253" cy="171"/><circle class="o" cx="328" cy="514"/><circle class="o" cx="224" cy="473"/><circle class="o" cx="406" cy="499"/><circle class="o" cx="175" cy="321"/><circle class="o" cx="253" cy="509"/><circle class="o" cx="186" cy="345"/><circle class="s" cx="463" cy="232"/><circle class="s" cx="541" cy="425"/><circle class="s" cx="529" cy="261"/><circle class="o" cx="212" cy="194"/><circle class="s" cx="519" cy="426"/><circle class="s" cx="480" cy="169"/><circle class="s" cx="481" cy="202"/><circle class="o" cx="200" cy="403"/><circle class="o" cx="226" cy="485"/><circle class="o" cx="332" cy="516"/><circle class="o" cx="181" cy="252"/><circle class="s" cx="563" cy="372"/><circle class="o" cx="418" cy="459"/><circle class="s" cx="524" cy="446"/><circle class="s" cx="462" cy="313"/><circle class="o" cx="273" cy="466"/><circle class="s" cx="508" cy="428"/><circle class="s" cx="509" cy="433"/><circle class="s" cx="492" cy="265"/><circle class="s" cx="462" cy="237"/><circle class="s" cx="465" cy="260"/><circle class="o" cx="228" cy="467"/><circle class="o" cx="195" cy="426"/><circle class="o" cx="186" cy="346"/><circle class="o" cx="274" cy="512"/><circle class="s" cx="498" cy="479"/><circle class="s" cx="481" cy="282"/><circle class="s" cx="536" cy="442"/><circle class="o" cx="382" cy="497"/><circle class="o" cx="309" cy="501"/><circle class="o" cx="307" cy="493"/><circle class="o" cx="162" cy="321"/><circle class="s" cx="519" cy="383"/><circle class="o" cx="186" cy="315"/><circle class="o" cx="175" cy="383"/><circle class="o" cx="266" cy="485"/><circle class="s" cx="465" cy="237"/><circle class="o" cx="224" cy="452"/><circle class="s" cx="474" cy="257"/><circle class="s" cx="536" cy="206"/><circle class="o" cx="183" cy="263"/><circle class="s" cx="545" cy="451"/><circle class="o" cx="204" cy="393"/><circle class="s" cx="469" cy="289"/><circle class="s" cx="441" cy="227"/><circle class="o" cx="335" cy="502"/><circle class="s" cx="474" cy="274"/><circle class="s" cx="507" cy="473"/><circle class="o" cx="218" cy="441"/><circle class="s" cx="501" cy="454"/><circle class="s" cx="493" cy="422"/><circle class="s" cx="432" cy="234"/><circle class="o" cx="282" cy="521"/><circle class="s" cx="525" cy="448"/><circle class="o" cx="242" cy="478"/><circle class="s" cx="485" cy="473"/><circle class="s" cx="517" cy="406"/><circle class="s" cx="522" cy="415"/><circle class="o" cx="189" cy="391"/><circle class="o" cx="301" cy="496"/><circle class="o" cx="462" cy="466"/><circle class="o" cx="198" cy="393"/><circle class="o" cx="189" cy="380"/><circle class="o" cx="189" cy="397"/><circle class="o" cx="207" cy="451"/><circle class="o" cx="174" cy="375"/><circle class="o" cx="252" cy="479"/><circle class="o" cx="198" cy="399"/><circle class="s" cx="495" cy="437"/><circle class="s" cx="484" cy="327"/><circle class="o" cx="258" cy="343"/><circle class="o" cx="227" cy="455"/><circle class="o" cx="165" cy="313"/><circle class="o" cx="355" cy="524"/><circle class="o" cx="268" cy="499"/><circle class="o" cx="315" cy="514"/><circle class="o" cx="268" cy="168"/><circle class="o" cx="308" cy="499"/><circle class="s" cx="488" cy="261"/><circle class="o" cx="281" cy="341"/><circle class="o" cx="195" cy="376"/><circle class="o" cx="452" cy="489"/><circle class="o" cx="291" cy="503"/><circle class="o" cx="296" cy="450"/><circle class="s" cx="467" cy="303"/><circle class="o" cx="215" cy="449"/><circle class="o" cx="256" cy="498"/><circle class="o" cx="465" cy="460"/><circle class="o" cx="322" cy="502"/><circle class="o" cx="391" cy="509"/><circle class="o" cx="318" cy="509"/><circle class="s" cx="468" cy="256"/><circle class="o" cx="272" cy="500"/><circle class="s" cx="493" cy="473"/><circle class="o" cx="215" cy="470"/><circle class="o" cx="223" cy="421"/><circle class="o" cx="258" cy="499"/><circle class="o" cx="280" cy="505"/><circle class="s" cx="521" cy="436"/><circle class="s" cx="526" cy="234"/><circle class="o" cx="337" cy="256"/><circle class="o" cx="178" cy="290"/><circle class="o" cx="474" cy="481"/><circle class="o" cx="174" cy="260"/><circle class="o" cx="410" cy="490"/><circle class="s" cx="491" cy="327"/><circle class="o" cx="219" cy="453"/><circle class="s" cx="555" cy="422"/><circle class="o" cx="176" cy="337"/><circle class="o" cx="172" cy="239"/><circle class="s" cx="462" cy="148"/><circle class="o" cx="383" cy="500"/><circle class="s" cx="545" cy="422"/><circle class="s" cx="557" cy="424"/><circle class="o" cx="412" cy="521"/><circle class="o" cx="447" cy="326"/><circle class="o" cx="329" cy="515"/><circle class="o" cx="175" cy="316"/><circle class="o" cx="172" cy="338"/><circle class="o" cx="195" cy="422"/><circle class="s" cx="569" cy="316"/><circle class="o" cx="303" cy="500"/><circle class="s" cx="499" cy="455"/><circle class="o" cx="183" cy="389"/><circle class="s" cx="522" cy="430"/><circle class="s" cx="512" cy="429"/><circle class="s" cx="566" cy="295"/><circle class="s" cx="494" cy="296"/><circle class="s" cx="564" cy="351"/><circle class="o" cx="366" cy="310"/><circle class="s" cx="548" cy="420"/><circle class="o" cx="267" cy="498"/><circle class="s" cx="571" cy="326"/><circle class="s" cx="549" cy="390"/><circle class="s" cx="525" cy="429"/><circle class="o" cx="415" cy="258"/><circle class="o" cx="197" cy="405"/><circle class="o" cx="190" cy="405"/><circle class="s" cx="543" cy="419"/><circle class="s" cx="550" cy="437"/><circle class="s" cx="574" cy="372"/><circle class="s" cx="563" cy="408"/><circle class="o" cx="177" cy="340"/><circle class="s" cx="508" cy="436"/><circle class="o" cx="301" cy="510"/><circle class="o" cx="312" cy="499"/><circle class="o" cx="190" cy="428"/><circle class="s" cx="561" cy="415"/><circle class="o" cx="274" cy="479"/><circle class="s" cx="560" cy="323"/><circle class="s" cx="500" cy="460"/><circle class="o" cx="190" cy="399"/><circle class="o" cx="253" cy="166"/><circle class="s" cx="537" cy="406"/><circle class="o" cx="321" cy="390"/><circle class="o" cx="304" cy="487"/><circle class="s" cx="493" cy="285"/><circle class="o" cx="300" cy="505"/><circle class="o" cx="168" cy="337"/><circle class="o" cx="221" cy="169"/><circle class="o" cx="200" cy="381"/><circle class="s" cx="567" cy="404"/><circle class="o" cx="317" cy="513"/><circle class="o" cx="192" cy="273"/><circle class="o" cx="484" cy="462"/><circle class="o" cx="188" cy="360"/><circle class="o" cx="167" cy="327"/><circle class="o" cx="363" cy="512"/><circle class="o" cx="183" cy="355"/><circle class="s" cx="522" cy="442"/><circle class="o" cx="166" cy="311"/><circle class="s" cx="537" cy="372"/><circle class="s" cx="487" cy="466"/><circle class="o" cx="161" cy="287"/><circle class="o" cx="168" cy="290"/><circle class="o" cx="360" cy="505"/><circle class="s" cx="483" cy="226"/><circle class="o" cx="180" cy="360"/><circle class="s" cx="529" cy="426"/><circle class="o" cx="187" cy="246"/><circle class="s" cx="473" cy="475"/><circle class="s" cx="555" cy="422"/><circle class="o" cx="214" cy="422"/><circle class="s" cx="538" cy="408"/><circle class="o" cx="300" cy="488"/><circle class="o" cx="377" cy="520"/><circle class="o" cx="234" cy="428"/><circle class="s" cx="491" cy="212"/><circle class="o" cx="193" cy="220"/><circle class="o" cx="262" cy="477"/><circle class="s" cx="519" cy="212"/><circle class="o" cx="371" cy="272"/><circle class="o" cx="199" cy="462"/><circle class="o" cx="250" cy="171"/><circle class="o" cx="178" cy="323"/><circle class="s" cx="531" cy="402"/><circle class="o" cx="267" cy="490"/><circle class="s" cx="541" cy="245"/><circle class="s" cx="526" cy="396"/><circle class="s" cx="437" cy="419"/><circle class="o" cx="207" cy="449"/><circle class="o" cx="293" cy="496"/><circle class="s" cx="547" cy="447"/><circle class="o" cx="330" cy="512"/><circle class="o" cx="181" cy="305"/><circle class="s" cx="484" cy="319"/><circle class="s" cx="501" cy="301"/><circle class="o" cx="210" cy="429"/><circle class="o" cx="328" cy="509"/><circle class="s" cx="511" cy="447"/><circle class="s" cx="535" cy="390"/><circle class="o" cx="243" cy="473"/><circle class="s" cx="490" cy="309"/><circle class="o" cx="251" cy="169"/><circle class="o" cx="210" cy="410"/><circle class="o" cx="174" cy="351"/><circle class="s" cx="537" cy="425"/><circle class="o" cx="208" cy="445"/><circle class="o" cx="234" cy="448"/><circle class="s" cx="477" cy="253"/><circle class="s" cx="479" cy="479"/><circle class="o" cx="272" cy="485"/><circle class="s" cx="564" cy="371"/><circle class="s" cx="510" cy="303"/><circle class="o" cx="169" cy="355"/><circle class="o" cx="225" cy="470"/><circle class="s" cx="567" cy="403"/><circle class="s" cx="517" cy="246"/><circle class="o" cx="236" cy="450"/><circle class="o" cx="381" cy="508"/><circle class="s" cx="489" cy="265"/><circle class="o" cx="205" cy="420"/><circle class="s" cx="461" cy="256"/><circle class="s" cx="525" cy="418"/><circle class="s" cx="434" cy="430"/><circle class="o" cx="197" cy="459"/><circle class="s" cx="553" cy="306"/><circle class="o" cx="182" cy="251"/><circle class="s" cx="564" cy="348"/><circle class="o" cx="345" cy="295"/><circle class="o" cx="283" cy="484"/><circle class="o" cx="314" cy="506"/><circle class="o" cx="178" cy="281"/><circle class="s" cx="532" cy="425"/><circle class="o" cx="227" cy="431"/><circle class="o" cx="329" cy="518"/><circle class="s" cx="518" cy="421"/><circle class="s" cx="545" cy="251"/><circle class="o" cx="386" cy="501"/><circle class="o" cx="242" cy="496"/><circle class="o" cx="371" cy="501"/><circle class="s" cx="550" cy="222"/><circle class="s" cx="572" cy="361"/><circle class="s" cx="542" cy="439"/><circle class="o" cx="299" cy="507"/><circle class="s" cx="490" cy="461"/><circle class="s" cx="485" cy="308"/><circle class="o" cx="196" cy="438"/><circle class="s" cx="567" cy="314"/><circle class="s" cx="553" cy="399"/><circle class="s" cx="489" cy="475"/><circle class="s" cx="481" cy="484"/><circle class="s" cx="522" cy="449"/><circle class="s" cx="543" cy="329"/><circle class="o" cx="207" cy="214"/><circle class="s" cx="528" cy="393"/><circle class="o" cx="222" cy="433"/><circle class="s" cx="498" cy="324"/><circle class="o" cx="206" cy="202"/><circle class="o" cx="267" cy="508"/><circle class="o" cx="198" cy="470"/><circle class="o" cx="185" cy="314"/><circle class="s" cx="541" cy="431"/><circle class="s" cx="497" cy="233"/><circle class="o" cx="195" cy="455"/><circle class="s" cx="535" cy="239"/><circle class="s" cx="524" cy="447"/><circle class="o" cx="395" cy="494"/><circle class="o" cx="280" cy="488"/><circle class="s" cx="572" cy="347"/><circle class="o" cx="194" cy="255"/><circle class="s" cx="545" cy="438"/><circle class="o" cx="403" cy="494"/><circle class="o" cx="186" cy="389"/><circle class="o" cx="235" cy="173"/><circle class="o" cx="230" cy="452"/><circle class="o" cx="447" cy="490"/><circle class="s" cx="512" cy="413"/><circle class="s" cx="516" cy="359"/><circle class="s" cx="528" cy="422"/><circle class="o" cx="188" cy="393"/><circle class="s" cx="514" cy="429"/><circle class="s" cx="576" cy="371"/><circle class="o" cx="369" cy="508"/><circle class="s" cx="464" cy="214"/><circle class="o" cx="266" cy="172"/><circle class="o" cx="208" cy="456"/><circle class="o" cx="179" cy="385"/><circle class="o" cx="379" cy="517"/><circle class="o" cx="322" cy="507"/><circle class="s" cx="467" cy="218"/><circle class="o" cx="228" cy="467"/><circle class="o" cx="175" cy="311"/><circle class="s" cx="456" cy="228"/><circle class="s" cx="534" cy="453"/><circle class="s" cx="539" cy="256"/><circle class="s" cx="540" cy="383"/><circle class="o" cx="290" cy="156"/><circle class="o" cx="197" cy="411"/><circle class="s" cx="553" cy="447"/><circle class="s" cx="485" cy="487"/><circle class="o" cx="237" cy="466"/><circle class="s" cx="496" cy="447"/><circle class="o" cx="199" cy="233"/><circle class="s" cx="523" cy="448"/><circle class="s" cx="565" cy="326"/><circle class="s" cx="457" cy="411"/><circle class="o" cx="449" cy="267"/><circle class="o" cx="181" cy="340"/><circle class="s" cx="474" cy="180"/><circle class="o" cx="177" cy="366"/><circle class="o" cx="189" cy="319"/><circle class="s" cx="474" cy="485"/><circle class="s" cx="464" cy="325"/><circle class="s" cx="517" cy="232"/><circle class="s" cx="557" cy="438"/><circle class="s" cx="496" cy="298"/><circle class="o" cx="341" cy="382"/><circle class="o" cx="187" cy="313"/><circle class="o" cx="232" cy="477"/><circle class="s" cx="468" cy="215"/><circle class="s" cx="512" cy="462"/><circle class="o" cx="165" cy="310"/><circle class="s" cx="558" cy="423"/><circle class="o" cx="452" cy="440"/><circle class="o" cx="476" cy="297"/><circle class="s" cx="557" cy="450"/><circle class="o" cx="312" cy="499"/><circle class="o" cx="218" cy="450"/><circle class="o" cx="193" cy="347"/><circle class="s" cx="524" cy="409"/><circle class="s" cx="490" cy="482"/><circle class="s" cx="515" cy="475"/><circle class="s" cx="535" cy="413"/><circle class="s" cx="535" cy="441"/><circle class="s" cx="513" cy="420"/><circle class="s" cx="551" cy="403"/><circle class="s" cx="450" cy="220"/><circle class="s" cx="476" cy="148"/><circle class="s" cx="484" cy="271"/><circle class="s" cx="513" cy="334"/><circle class="o" cx="187" cy="237"/><circle class="o" cx="464" cy="467"/><circle class="o" cx="364" cy="508"/><circle class="s" cx="512" cy="280"/><circle class="s" cx="579" cy="354"/><circle class="s" cx="523" cy="416"/><circle class="o" cx="168" cy="386"/><circle class="s" cx="516" cy="436"/><circle class="s" cx="551" cy="424"/><circle class="o" cx="348" cy="502"/><circle class="s" cx="532" cy="411"/><circle class="s" cx="457" cy="219"/><circle class="o" cx="384" cy="268"/><circle class="o" cx="164" cy="293"/><circle class="s" cx="541" cy="243"/><circle class="o" cx="181" cy="331"/><circle class="o" cx="192" cy="452"/><circle class="s" cx="514" cy="455"/><circle class="o" cx="455" cy="463"/><circle class="o" cx="216" cy="452"/><circle class="s" cx="518" cy="330"/><circle class="s" cx="566" cy="424"/><circle class="s" cx="489" cy="233"/><circle class="o" cx="220" cy="193"/><circle class="s" cx="558" cy="413"/><circle class="o" cx="175" cy="304"/><circle class="s" cx="493" cy="207"/><circle class="o" cx="173" cy="312"/><circle class="o" cx="248" cy="491"/><circle class="o" cx="225" cy="438"/><circle class="o" cx="259" cy="480"/><circle class="s" cx="544" cy="421"/><circle class="o" cx="194" cy="427"/></g>
<text x="362.0" y="104.8" font-size="20.8" text-anchor="middle" fill="#000">N = 1503, pseudo−F = 394.2</text>
<text x="362.0" y="134.9" font-size="20.8" text-anchor="middle" fill="#000">p = 0.001, perm = 999</text>
<circle cx="533.6" cy="516.2" r="2.55" fill="#44698f" stroke="#14202c" stroke-width="0.6"/>
<circle cx="533.6" cy="544.1" r="2.55" fill="#7a5634" stroke="#2a1a0c" stroke-width="0.6"/>
<text x="555.0" y="522.8" font-size="20.5" text-anchor="start" fill="#000">Skin</text>
<text x="555.0" y="551.4" font-size="20.5" text-anchor="start" fill="#000">Soil</text>
<rect x="117.2" y="86.6" width="490.0" height="472.7" fill="none" stroke="#000" stroke-width="2.4"/>
<line x1="104.5" y1="113.0" x2="116.0" y2="113.0" stroke="#333333" stroke-width="4"/>
<text x="94.8" y="120.2" font-size="20.2" text-anchor="end" fill="#4d4d4d">0.50</text>
<line x1="104.5" y1="254.9" x2="116.0" y2="254.9" stroke="#333333" stroke-width="4"/>
<text x="94.8" y="262.1" font-size="20.2" text-anchor="end" fill="#4d4d4d">0.25</text>
<line x1="104.5" y1="396.7" x2="116.0" y2="396.7" stroke="#333333" stroke-width="4"/>
<text x="94.8" y="403.9" font-size="20.2" text-anchor="end" fill="#4d4d4d">0.00</text>
<line x1="104.5" y1="538.9" x2="116.0" y2="538.9" stroke="#333333" stroke-width="4"/>
<text x="94.8" y="546.1" font-size="20.2" text-anchor="end" fill="#4d4d4d">−0.25</text>
<line x1="191.0" y1="560.5" x2="191.0" y2="571.5" stroke="#333333" stroke-width="4"/>
<text x="191.0" y="596.0" font-size="20.2" text-anchor="middle" fill="#4d4d4d">−0.4</text>
<line x1="296.1" y1="560.5" x2="296.1" y2="571.5" stroke="#333333" stroke-width="4"/>
<text x="296.1" y="596.0" font-size="20.2" text-anchor="middle" fill="#4d4d4d">−0.2</text>
<line x1="401.3" y1="560.5" x2="401.3" y2="571.5" stroke="#333333" stroke-width="4"/>
<text x="401.3" y="596.0" font-size="20.2" text-anchor="middle" fill="#4d4d4d">0.0</text>
<line x1="506.5" y1="560.5" x2="506.5" y2="571.5" stroke="#333333" stroke-width="4"/>
<text x="506.5" y="596.0" font-size="20.2" text-anchor="middle" fill="#4d4d4d">0.2</text>
<text x="362.0" y="631.8" font-size="29" text-anchor="middle" fill="#000">PC1:  24 %</text>
<text x="24.8" y="325.2" font-size="29" text-anchor="middle" fill="#000" transform="rotate(-90 24.8 325.2)">PC2:  9 %</text>
<text x="362.0" y="753.0" font-size="29" text-anchor="middle" fill="#000">Bray−Curtis Dissimilarity</text>
<g class="pc"><circle class="s" cx="220" cy="963"/><circle class="o" cx="257" cy="1123"/><circle class="s" cx="205" cy="980"/><circle class="s" cx="243" cy="981"/><circle class="o" cx="554" cy="1008"/><circle class="o" cx="421" cy="1132"/><circle class="o" cx="464" cy="1099"/><circle class="o" cx="539" cy="1042"/><circle class="s" cx="256" cy="995"/><circle class="o" cx="490" cy="1014"/><circle class="o" cx="425" cy="1171"/><circle class="o" cx="533" cy="1063"/><circle class="o" cx="562" cy="1008"/><circle class="o" cx="565" cy="856"/><circle class="o" cx="493" cy="1091"/><circle class="o" cx="465" cy="1121"/><circle class="o" cx="478" cy="1099"/><circle class="o" cx="578" cy="1014"/><circle class="s" cx="247" cy="1082"/><circle class="s" cx="243" cy="975"/><circle class="o" cx="339" cy="1148"/><circle class="s" cx="274" cy="959"/><circle class="o" cx="548" cy="1040"/><circle class="s" cx="234" cy="996"/><circle class="s" cx="207" cy="1126"/><circle class="o" cx="423" cy="1168"/><circle class="o" cx="414" cy="993"/><circle class="o" cx="569" cy="1023"/><circle class="o" cx="561" cy="907"/><circle class="s" cx="170" cy="1090"/><circle class="o" cx="454" cy="1172"/><circle class="s" cx="193" cy="1095"/><circle class="o" cx="579" cy="948"/><circle class="s" cx="181" cy="1051"/><circle class="s" cx="210" cy="1088"/><circle class="o" cx="401" cy="1180"/><circle class="o" cx="402" cy="1182"/><circle class="o" cx="442" cy="1035"/><circle class="o" cx="520" cy="1083"/><circle class="o" cx="360" cy="1164"/><circle class="s" cx="173" cy="1052"/><circle class="s" cx="311" cy="927"/><circle class="o" cx="432" cy="1156"/><circle class="o" cx="475" cy="1075"/><circle class="s" cx="182" cy="1102"/><circle class="s" cx="207" cy="965"/><circle class="s" cx="251" cy="964"/><circle class="s" cx="182" cy="1053"/><circle class="o" cx="540" cy="1071"/><circle class="o" cx="397" cy="1031"/><circle class="o" cx="520" cy="1092"/><circle class="o" cx="554" cy="1001"/><circle class="s" cx="220" cy="995"/><circle class="s" cx="349" cy="914"/><circle class="s" cx="265" cy="1102"/><circle class="o" cx="367" cy="1040"/><circle class="o" cx="368" cy="1122"/><circle class="s" cx="252" cy="1071"/><circle class="o" cx="395" cy="1137"/><circle class="s" cx="211" cy="960"/><circle class="s" cx="158" cy="992"/><circle class="s" cx="196" cy="1103"/><circle class="s" cx="191" cy="1069"/><circle class="s" cx="176" cy="1047"/><circle class="o" cx="249" cy="1126"/><circle class="o" cx="418" cy="1123"/><circle class="o" cx="372" cy="995"/><circle class="s" cx="217" cy="1130"/><circle class="s" cx="350" cy="913"/><circle class="o" cx="541" cy="1062"/><circle class="o" cx="473" cy="1152"/><circle class="s" cx="274" cy="1013"/><circle class="s" cx="156" cy="1050"/><circle class="o" cx="490" cy="1119"/><circle class="o" cx="576" cy="969"/><circle class="s" cx="259" cy="971"/><circle class="o" cx="516" cy="1081"/><circle class="o" cx="539" cy="1063"/><circle class="s" cx="165" cy="985"/><circle class="s" cx="194" cy="1089"/><circle class="o" cx="367" cy="1172"/><circle class="s" cx="207" cy="956"/><circle class="o" cx="543" cy="862"/><circle class="o" cx="295" cy="1134"/><circle class="s" cx="189" cy="969"/><circle class="s" cx="212" cy="977"/><circle class="o" cx="336" cy="1141"/><circle class="s" cx="243" cy="1055"/><circle class="s" cx="295" cy="978"/><circle class="s" cx="247" cy="1000"/><circle class="o" cx="393" cy="1174"/><circle class="o" cx="460" cy="1011"/><circle class="s" cx="209" cy="1085"/><circle class="o" cx="545" cy="850"/><circle class="o" cx="446" cy="1115"/><circle class="o" cx="576" cy="971"/><circle class="o" cx="577" cy="914"/><circle class="o" cx="420" cy="1129"/><circle class="s" cx="201" cy="1101"/><circle class="o" cx="465" cy="1147"/><circle class="s" cx="193" cy="1095"/><circle class="o" cx="541" cy="1033"/><circle class="o" cx="411" cy="1118"/><circle class="s" cx="242" cy="1006"/><circle class="o" cx="345" cy="1030"/><circle class="o" cx="547" cy="1006"/><circle class="o" cx="449" cy="1166"/><circle class="o" cx="550" cy="1052"/><circle class="o" cx="564" cy="900"/><circle class="s" cx="218" cy="995"/><circle class="o" cx="324" cy="1130"/><circle class="o" cx="451" cy="1184"/><circle class="s" cx="256" cy="984"/><circle class="s" cx="336" cy="915"/><circle class="s" cx="240" cy="973"/><circle class="o" cx="326" cy="1133"/><circle class="s" cx="209" cy="1104"/><circle class="s" cx="252" cy="982"/><circle class="o" cx="580" cy="948"/><circle class="o" cx="429" cy="1168"/><circle class="o" cx="551" cy="891"/><circle class="s" cx="360" cy="908"/><circle class="s" cx="357" cy="916"/><circle class="o" cx="541" cy="1061"/><circle class="s" cx="203" cy="967"/><circle class="o" cx="485" cy="1145"/><circle class="s" cx="210" cy="977"/><circle class="o" cx="552" cy="859"/><circle class="o" cx="510" cy="873"/><circle class="s" cx="211" cy="975"/><circle class="s" cx="202" cy="973"/><circle class="o" cx="496" cy="922"/><circle class="o" cx="447" cy="1175"/><circle class="s" cx="229" cy="1003"/><circle class="o" cx="350" cy="1162"/><circle class="s" cx="198" cy="1109"/><circle class="s" cx="194" cy="969"/><circle class="s" cx="212" cy="1105"/><circle class="s" cx="237" cy="1033"/><circle class="s" cx="242" cy="986"/><circle class="o" cx="569" cy="910"/><circle class="o" cx="583" cy="909"/><circle class="o" cx="574" cy="979"/><circle class="s" cx="264" cy="989"/><circle class="o" cx="575" cy="980"/><circle class="o" cx="539" cy="871"/><circle class="o" cx="571" cy="923"/><circle class="o" cx="530" cy="1034"/><circle class="o" cx="417" cy="1040"/><circle class="s" cx="198" cy="1103"/><circle class="o" cx="462" cy="1060"/><circle class="o" cx="420" cy="1025"/><circle class="s" cx="219" cy="1039"/><circle class="s" cx="170" cy="1058"/><circle class="o" cx="473" cy="1110"/><circle class="o" cx="239" cy="1113"/><circle class="o" cx="470" cy="1070"/><circle class="s" cx="233" cy="1013"/><circle class="s" cx="302" cy="988"/><circle class="o" cx="512" cy="1063"/><circle class="o" cx="574" cy="939"/><circle class="s" cx="174" cy="1077"/><circle class="o" cx="399" cy="1110"/><circle class="s" cx="268" cy="1038"/><circle class="o" cx="520" cy="1068"/><circle class="s" cx="208" cy="1003"/><circle class="o" cx="312" cy="1027"/><circle class="o" cx="562" cy="874"/><circle class="o" cx="573" cy="1000"/><circle class="o" cx="473" cy="1157"/><circle class="s" cx="185" cy="1094"/><circle class="s" cx="219" cy="1040"/><circle class="s" cx="222" cy="983"/><circle class="s" cx="166" cy="1074"/><circle class="s" cx="281" cy="983"/><circle class="o" cx="485" cy="1112"/><circle class="o" cx="481" cy="1116"/><circle class="s" cx="166" cy="1001"/><circle class="o" cx="236" cy="1132"/><circle class="o" cx="326" cy="1127"/><circle class="s" cx="245" cy="983"/><circle class="s" cx="199" cy="1105"/><circle class="s" cx="226" cy="920"/><circle class="s" cx="169" cy="1094"/><circle class="s" cx="295" cy="1024"/><circle class="s" cx="225" cy="1056"/><circle class="s" cx="214" cy="1108"/><circle class="o" cx="307" cy="1136"/><circle class="o" cx="578" cy="937"/><circle class="s" cx="252" cy="984"/><circle class="o" cx="563" cy="1010"/><circle class="o" cx="456" cy="1124"/><circle class="s" cx="149" cy="1038"/><circle class="o" cx="551" cy="1024"/><circle class="s" cx="159" cy="1015"/><circle class="o" cx="572" cy="960"/><circle class="o" cx="567" cy="993"/><circle class="s" cx="183" cy="1112"/><circle class="o" cx="534" cy="857"/><circle class="o" cx="495" cy="1080"/><circle class="o" cx="569" cy="1027"/><circle class="o" cx="457" cy="1118"/><circle class="o" cx="457" cy="1131"/><circle class="o" cx="500" cy="982"/><circle class="s" cx="321" cy="1035"/><circle class="s" cx="205" cy="963"/><circle class="o" cx="426" cy="1122"/><circle class="o" cx="420" cy="1185"/><circle class="o" cx="591" cy="918"/><circle class="o" cx="523" cy="1065"/><circle class="s" cx="302" cy="1023"/><circle class="s" cx="210" cy="999"/><circle class="s" cx="236" cy="1012"/><circle class="o" cx="288" cy="1154"/><circle class="o" cx="370" cy="1171"/><circle class="s" cx="209" cy="1086"/><circle class="o" cx="482" cy="1097"/><circle class="o" cx="483" cy="1151"/><circle class="o" cx="512" cy="1083"/><circle class="o" cx="474" cy="1164"/><circle class="s" cx="187" cy="1005"/><circle class="s" cx="220" cy="980"/><circle class="s" cx="283" cy="995"/><circle class="s" cx="283" cy="970"/><circle class="o" cx="345" cy="1140"/><circle class="s" cx="311" cy="1020"/><circle class="s" cx="173" cy="1036"/><circle class="s" cx="255" cy="1060"/><circle class="o" cx="340" cy="1145"/><circle class="o" cx="552" cy="1016"/><circle class="o" cx="550" cy="976"/><circle class="o" cx="455" cy="917"/><circle class="o" cx="518" cy="1067"/><circle class="o" cx="581" cy="965"/><circle class="s" cx="198" cy="989"/><circle class="o" cx="575" cy="896"/><circle class="o" cx="467" cy="1066"/><circle class="o" cx="369" cy="1149"/><circle class="s" cx="204" cy="1126"/><circle class="s" cx="179" cy="1041"/><circle class="s" cx="161" cy="993"/><circle class="s" cx="151" cy="1005"/><circle class="s" cx="217" cy="993"/><circle class="o" cx="468" cy="1130"/><circle class="s" cx="275" cy="1050"/><circle class="s" cx="210" cy="962"/><circle class="o" cx="290" cy="1157"/><circle class="s" cx="200" cy="1116"/><circle class="o" cx="362" cy="1158"/><circle class="o" cx="577" cy="987"/><circle class="s" cx="269" cy="1022"/><circle class="s" cx="144" cy="997"/><circle class="o" cx="588" cy="964"/><circle class="o" cx="445" cy="1153"/><circle class="s" cx="188" cy="1082"/><circle class="o" cx="407" cy="1127"/><circle class="s" cx="213" cy="948"/><circle class="o" cx="430" cy="1124"/><circle class="o" cx="251" cy="1149"/><circle class="s" cx="217" cy="955"/><circle class="s" cx="158" cy="1039"/><circle class="s" cx="213" cy="969"/><circle class="o" cx="256" cy="1101"/><circle class="s" cx="163" cy="1037"/><circle class="o" cx="480" cy="1116"/><circle class="s" cx="165" cy="1020"/><circle class="o" cx="470" cy="1128"/><circle class="o" cx="296" cy="1164"/><circle class="o" cx="387" cy="1099"/><circle class="s" cx="345" cy="905"/><circle class="o" cx="433" cy="1129"/><circle class="o" cx="577" cy="893"/><circle class="o" cx="308" cy="1140"/><circle class="o" cx="575" cy="956"/><circle class="o" cx="387" cy="1132"/><circle class="s" cx="233" cy="977"/><circle class="s" cx="187" cy="999"/><circle class="s" cx="263" cy="910"/><circle class="s" cx="285" cy="1050"/><circle class="s" cx="160" cy="1034"/><circle class="s" cx="189" cy="1041"/><circle class="o" cx="553" cy="1041"/><circle class="s" cx="226" cy="1088"/><circle class="s" cx="157" cy="1028"/><circle class="s" cx="249" cy="969"/><circle class="s" cx="178" cy="1097"/><circle class="s" cx="171" cy="1003"/><circle class="o" cx="522" cy="1054"/><circle class="o" cx="562" cy="971"/><circle class="s" cx="330" cy="921"/><circle class="o" cx="487" cy="1109"/><circle class="s" cx="211" cy="963"/><circle class="o" cx="265" cy="1119"/><circle class="o" cx="555" cy="1038"/><circle class="o" cx="376" cy="1171"/><circle class="o" cx="463" cy="1168"/><circle class="o" cx="548" cy="863"/><circle class="o" cx="484" cy="1139"/><circle class="s" cx="223" cy="992"/><circle class="o" cx="444" cy="1172"/><circle class="o" cx="404" cy="1123"/><circle class="s" cx="260" cy="962"/><circle class="o" cx="376" cy="1162"/><circle class="s" cx="310" cy="1070"/><circle class="o" cx="329" cy="1144"/><circle class="s" cx="213" cy="1002"/><circle class="o" cx="502" cy="1070"/><circle class="s" cx="185" cy="1091"/><circle class="s" cx="295" cy="1028"/><circle class="o" cx="400" cy="1097"/><circle class="s" cx="174" cy="981"/><circle class="o" cx="444" cy="1126"/><circle class="s" cx="214" cy="991"/><circle class="o" cx="455" cy="1162"/><circle class="o" cx="418" cy="1115"/><circle class="o" cx="450" cy="1118"/><circle class="s" cx="242" cy="1073"/><circle class="s" cx="250" cy="945"/><circle class="o" cx="307" cy="1153"/><circle class="o" cx="551" cy="1050"/><circle class="o" cx="560" cy="1033"/><circle class="s" cx="168" cy="1039"/><circle class="o" cx="517" cy="918"/><circle class="o" cx="385" cy="1010"/><circle class="o" cx="486" cy="1108"/><circle class="s" cx="179" cy="1064"/><circle class="o" cx="589" cy="1007"/><circle class="o" cx="503" cy="1107"/><circle class="o" cx="550" cy="875"/><circle class="s" cx="294" cy="963"/><circle class="s" cx="186" cy="956"/><circle class="s" cx="169" cy="1042"/><circle class="o" cx="545" cy="853"/><circle class="o" cx="403" cy="1042"/><circle class="s" cx="261" cy="1037"/><circle class="o" cx="493" cy="1098"/><circle class="s" cx="291" cy="1067"/><circle class="o" cx="568" cy="980"/><circle class="s" cx="206" cy="969"/><circle class="s" cx="148" cy="1038"/><circle class="s" cx="195" cy="1064"/><circle class="o" cx="406" cy="1029"/><circle class="s" cx="342" cy="923"/><circle class="o" cx="504" cy="1092"/><circle class="o" cx="562" cy="1043"/><circle class="s" cx="206" cy="1004"/><circle class="o" cx="315" cy="1147"/><circle class="o" cx="578" cy="899"/><circle class="s" cx="219" cy="982"/><circle class="s" cx="199" cy="1106"/><circle class="o" cx="569" cy="929"/><circle class="o" cx="394" cy="1173"/><circle class="s" cx="218" cy="1053"/><circle class="o" cx="455" cy="1122"/><circle class="o" cx="414" cy="1127"/><circle class="o" cx="575" cy="956"/><circle class="o" cx="409" cy="1132"/><circle class="s" cx="295" cy="1071"/><circle class="s" cx="191" cy="1063"/><circle class="s" cx="186" cy="1048"/><circle class="o" cx="487" cy="1099"/><circle class="o" cx="380" cy="1175"/><circle class="s" cx="228" cy="1042"/><circle class="o" cx="547" cy="862"/><circle class="o" cx="535" cy="1059"/><circle class="o" cx="561" cy="995"/><circle class="o" cx="334" cy="1126"/><circle class="s" cx="183" cy="1086"/><circle class="o" cx="351" cy="1158"/><circle class="o" cx="527" cy="852"/><circle class="o" cx="386" cy="1179"/><circle class="o" cx="561" cy="971"/><circle class="s" cx="189" cy="1073"/><circle class="o" cx="435" cy="1166"/><circle class="s" cx="269" cy="1005"/><circle class="o" cx="564" cy="992"/><circle class="o" cx="511" cy="1099"/><circle class="s" cx="213" cy="1074"/><circle class="o" cx="275" cy="1163"/><circle class="s" cx="201" cy="928"/><circle class="s" cx="189" cy="1081"/><circle class="o" cx="415" cy="1130"/><circle class="o" cx="471" cy="1016"/><circle class="s" cx="153" cy="1017"/><circle class="o" cx="501" cy="1090"/><circle class="o" cx="384" cy="1149"/><circle class="s" cx="215" cy="1097"/><circle class="o" cx="520" cy="1005"/><circle class="o" cx="359" cy="1142"/><circle class="s" cx="197" cy="1050"/><circle class="s" cx="280" cy="1114"/><circle class="o" cx="453" cy="1104"/><circle class="o" cx="465" cy="1116"/><circle class="o" cx="405" cy="1040"/><circle class="o" cx="443" cy="1024"/><circle class="s" cx="198" cy="1087"/><circle class="o" cx="571" cy="879"/><circle class="o" cx="570" cy="893"/><circle class="o" cx="559" cy="962"/><circle class="o" cx="552" cy="904"/><circle class="s" cx="240" cy="1033"/><circle class="o" cx="300" cy="1110"/><circle class="o" cx="503" cy="1100"/><circle class="s" cx="168" cy="1012"/><circle class="s" cx="168" cy="995"/><circle class="o" cx="352" cy="1162"/><circle class="s" cx="252" cy="1014"/><circle class="o" cx="334" cy="1132"/><circle class="o" cx="522" cy="1058"/><circle class="s" cx="315" cy="915"/><circle class="s" cx="246" cy="1012"/><circle class="s" cx="174" cy="1088"/><circle class="o" cx="360" cy="1154"/><circle class="o" cx="240" cy="1080"/><circle class="o" cx="571" cy="972"/><circle class="s" cx="250" cy="1010"/><circle class="s" cx="154" cy="1022"/><circle class="s" cx="162" cy="1048"/><circle class="s" cx="167" cy="1022"/><circle class="o" cx="468" cy="1152"/><circle class="s" cx="154" cy="1017"/><circle class="s" cx="195" cy="962"/><circle class="s" cx="191" cy="1072"/><circle class="s" cx="197" cy="946"/><circle class="s" cx="203" cy="937"/><circle class="s" cx="198" cy="993"/><circle class="s" cx="162" cy="1021"/><circle class="s" cx="159" cy="992"/><circle class="o" cx="451" cy="1130"/><circle class="s" cx="190" cy="984"/><circle class="o" cx="544" cy="1052"/><circle class="s" cx="366" cy="915"/><circle class="o" cx="418" cy="1141"/><circle class="s" cx="300" cy="1030"/><circle class="o" cx="467" cy="1166"/><circle class="o" cx="378" cy="1049"/><circle class="s" cx="176" cy="1066"/><circle class="o" cx="425" cy="1114"/><circle class="o" cx="405" cy="1177"/><circle class="o" cx="560" cy="879"/><circle class="o" cx="569" cy="1010"/><circle class="s" cx="166" cy="1025"/><circle class="o" cx="407" cy="1181"/><circle class="o" cx="373" cy="1125"/><circle class="o" cx="581" cy="869"/><circle class="o" cx="456" cy="1154"/><circle class="s" cx="198" cy="1094"/><circle class="s" cx="215" cy="998"/><circle class="o" cx="542" cy="1038"/><circle class="o" cx="554" cy="1047"/><circle class="s" cx="267" cy="1048"/><circle class="o" cx="498" cy="1108"/><circle class="o" cx="569" cy="886"/><circle class="o" cx="354" cy="1145"/><circle class="s" cx="227" cy="953"/><circle class="s" cx="257" cy="1063"/><circle class="o" cx="543" cy="1062"/><circle class="s" cx="172" cy="1072"/><circle class="s" cx="196" cy="1063"/><circle class="o" cx="397" cy="1121"/><circle class="o" cx="370" cy="1128"/><circle class="s" cx="235" cy="971"/><circle class="o" cx="476" cy="1119"/><circle class="s" cx="204" cy="959"/><circle class="s" cx="192" cy="964"/><circle class="s" cx="240" cy="966"/><circle class="o" cx="441" cy="1031"/><circle class="s" cx="252" cy="1033"/><circle class="o" cx="305" cy="1156"/><circle class="o" cx="570" cy="1038"/><circle class="s" cx="234" cy="999"/><circle class="o" cx="564" cy="881"/><circle class="s" cx="210" cy="1119"/><circle class="s" cx="228" cy="999"/><circle class="o" cx="293" cy="1167"/><circle class="o" cx="441" cy="1167"/><circle class="o" cx="570" cy="896"/><circle class="s" cx="209" cy="974"/><circle class="o" cx="534" cy="1024"/><circle class="s" cx="233" cy="963"/><circle class="o" cx="546" cy="860"/><circle class="o" cx="540" cy="854"/><circle class="o" cx="398" cy="1143"/><circle class="o" cx="536" cy="1057"/><circle class="s" cx="265" cy="1036"/><circle class="o" cx="403" cy="1119"/><circle class="o" cx="470" cy="1157"/><circle class="o" cx="460" cy="1166"/><circle class="o" cx="372" cy="1139"/><circle class="s" cx="299" cy="937"/><circle class="s" cx="148" cy="1021"/><circle class="o" cx="539" cy="891"/><circle class="s" cx="280" cy="978"/><circle class="s" cx="226" cy="1042"/><circle class="o" cx="364" cy="1137"/><circle class="o" cx="533" cy="973"/><circle class="o" cx="492" cy="1088"/><circle class="o" cx="415" cy="1130"/><circle class="o" cx="416" cy="1174"/><circle class="o" cx="292" cy="1142"/><circle class="o" cx="288" cy="1132"/><circle class="s" cx="166" cy="1067"/><circle class="o" cx="514" cy="1076"/><circle class="s" cx="182" cy="1055"/><circle class="s" cx="249" cy="989"/><circle class="o" cx="395" cy="1141"/><circle class="s" cx="297" cy="988"/><circle class="s" cx="283" cy="995"/><circle class="o" cx="518" cy="1072"/><circle class="s" cx="229" cy="984"/><circle class="o" cx="549" cy="1015"/><circle class="s" cx="209" cy="977"/><circle class="s" cx="241" cy="985"/><circle class="o" cx="448" cy="932"/><circle class="s" cx="160" cy="1066"/><circle class="o" cx="417" cy="1108"/><circle class="o" cx="382" cy="1175"/><circle class="s" cx="234" cy="1008"/><circle class="o" cx="465" cy="1114"/><circle class="s" cx="282" cy="1025"/><circle class="o" cx="527" cy="1052"/><circle class="o" cx="444" cy="1178"/><circle class="o" cx="450" cy="1170"/><circle class="s" cx="211" cy="1038"/><circle class="o" cx="352" cy="1050"/><circle class="o" cx="354" cy="1140"/><circle class="o" cx="590" cy="939"/><circle class="o" cx="558" cy="881"/><circle class="o" cx="504" cy="1080"/><circle class="o" cx="563" cy="1038"/><circle class="o" cx="456" cy="1146"/><circle class="s" cx="190" cy="1065"/><circle class="o" cx="558" cy="992"/><circle class="o" cx="429" cy="1012"/><circle class="s" cx="288" cy="995"/><circle class="s" cx="196" cy="984"/><circle class="o" cx="410" cy="1183"/><circle class="s" cx="227" cy="985"/><circle class="s" cx="180" cy="1054"/><circle class="o" cx="464" cy="1080"/><circle class="o" cx="564" cy="864"/><circle class="o" cx="380" cy="1133"/><circle class="o" cx="482" cy="1113"/><circle class="s" cx="213" cy="1122"/><circle class="s" cx="168" cy="1034"/><circle class="s" cx="220" cy="948"/><circle class="s" cx="225" cy="956"/><circle class="o" cx="362" cy="1028"/><circle class="o" cx="445" cy="1120"/><circle class="s" cx="218" cy="1034"/><circle class="o" cx="382" cy="1172"/><circle class="s" cx="186" cy="1085"/><circle class="s" cx="170" cy="1071"/><circle class="o" cx="220" cy="1135"/><circle class="o" cx="493" cy="1100"/><circle class="s" cx="180" cy="1032"/><circle class="s" cx="234" cy="1001"/><circle class="o" cx="567" cy="1003"/><circle class="o" cx="380" cy="1131"/><circle class="s" cx="280" cy="992"/><circle class="s" cx="249" cy="1030"/><circle class="s" cx="209" cy="965"/><circle class="o" cx="495" cy="1110"/><circle class="s" cx="336" cy="990"/><circle class="o" cx="540" cy="1071"/><circle class="s" cx="203" cy="964"/><circle class="o" cx="580" cy="921"/><circle class="s" cx="212" cy="960"/><circle class="o" cx="540" cy="1046"/><circle class="s" cx="246" cy="1070"/><circle class="s" cx="213" cy="1024"/><circle class="s" cx="290" cy="1046"/><circle class="o" cx="570" cy="979"/><circle class="o" cx="349" cy="1147"/><circle class="s" cx="236" cy="977"/><circle class="o" cx="330" cy="1075"/><circle class="s" cx="207" cy="978"/><circle class="s" cx="184" cy="1101"/><circle class="s" cx="237" cy="977"/><circle class="o" cx="383" cy="1171"/><circle class="s" cx="305" cy="1009"/><circle class="o" cx="581" cy="910"/><circle class="o" cx="525" cy="1046"/><circle class="o" cx="481" cy="1150"/><circle class="s" cx="174" cy="1075"/><circle class="s" cx="162" cy="1059"/><circle class="s" cx="246" cy="959"/><circle class="o" cx="446" cy="1165"/><circle class="o" cx="368" cy="1122"/><circle class="o" cx="562" cy="907"/><circle class="o" cx="386" cy="1138"/><circle class="s" cx="234" cy="950"/><circle class="o" cx="541" cy="1039"/><circle class="s" cx="257" cy="955"/><circle class="s" cx="162" cy="1055"/><circle class="s" cx="239" cy="956"/><circle class="o" cx="320" cy="1095"/><circle class="o" cx="240" cy="1097"/><circle class="o" cx="403" cy="1121"/><circle class="o" cx="581" cy="987"/><circle class="s" cx="222" cy="1054"/><circle class="s" cx="213" cy="963"/><circle class="o" cx="408" cy="1168"/><circle class="o" cx="389" cy="1129"/><circle class="s" cx="215" cy="957"/><circle class="s" cx="167" cy="1073"/><circle class="o" cx="463" cy="992"/><circle class="o" cx="432" cy="1127"/><circle class="s" cx="233" cy="1058"/><circle class="s" cx="167" cy="1045"/><circle class="s" cx="219" cy="941"/><circle class="s" cx="196" cy="1047"/><circle class="o" cx="583" cy="971"/><circle class="o" cx="356" cy="1143"/><circle class="s" cx="190" cy="1099"/><circle class="o" cx="501" cy="874"/><circle class="s" cx="296" cy="933"/><circle class="s" cx="254" cy="950"/><circle class="s" cx="227" cy="967"/><circle class="o" cx="381" cy="1138"/><circle class="o" cx="569" cy="914"/><circle class="o" cx="584" cy="943"/><circle class="o" cx="356" cy="1149"/><circle class="s" cx="212" cy="1000"/><circle class="o" cx="480" cy="881"/><circle class="o" cx="570" cy="938"/><circle class="s" cx="277" cy="1053"/><circle class="o" cx="529" cy="1108"/><circle class="o" cx="570" cy="994"/><circle class="o" cx="541" cy="1040"/><circle class="s" cx="276" cy="1061"/><circle class="s" cx="263" cy="988"/><circle class="o" cx="578" cy="987"/><circle class="s" cx="317" cy="969"/><circle class="s" cx="211" cy="1118"/><circle class="o" cx="467" cy="1158"/><circle class="s" cx="258" cy="979"/><circle class="o" cx="396" cy="1062"/><circle class="o" cx="508" cy="1079"/><circle class="o" cx="507" cy="1106"/><circle class="o" cx="368" cy="1139"/><circle class="s" cx="174" cy="1094"/><circle class="s" cx="188" cy="1085"/><circle class="s" cx="175" cy="991"/><circle class="s" cx="243" cy="1121"/><circle class="s" cx="243" cy="1044"/><circle class="o" cx="249" cy="1123"/><circle class="s" cx="160" cy="986"/><circle class="o" cx="435" cy="1145"/><circle class="o" cx="380" cy="1045"/><circle class="s" cx="207" cy="956"/><circle class="o" cx="558" cy="853"/><circle class="o" cx="569" cy="1034"/><circle class="o" cx="344" cy="1151"/><circle class="s" cx="202" cy="1091"/><circle class="s" cx="236" cy="981"/><circle class="o" cx="392" cy="1104"/><circle class="s" cx="163" cy="1042"/><circle class="s" cx="354" cy="913"/><circle class="s" cx="303" cy="1072"/><circle class="o" cx="561" cy="927"/><circle class="s" cx="185" cy="1095"/><circle class="o" cx="429" cy="1129"/><circle class="s" cx="205" cy="1043"/><circle class="s" cx="295" cy="1012"/><circle class="s" cx="304" cy="958"/><circle class="o" cx="437" cy="1171"/><circle class="s" cx="236" cy="980"/><circle class="s" cx="208" cy="974"/><circle class="s" cx="276" cy="1079"/><circle class="o" cx="571" cy="1009"/><circle class="s" cx="225" cy="952"/><circle class="o" cx="409" cy="1135"/><circle class="o" cx="563" cy="921"/><circle class="s" cx="225" cy="1070"/><circle class="o" cx="388" cy="1139"/><circle class="s" cx="246" cy="1050"/><circle class="s" cx="245" cy="1047"/><circle class="s" cx="171" cy="987"/><circle class="o" cx="438" cy="1104"/><circle class="s" cx="238" cy="984"/><circle class="o" cx="462" cy="1018"/><circle class="s" cx="175" cy="1053"/><circle class="s" cx="243" cy="971"/><circle class="s" cx="167" cy="1026"/><circle class="s" cx="364" cy="922"/><circle class="s" cx="340" cy="903"/><circle class="s" cx="231" cy="976"/><circle class="o" cx="411" cy="1130"/><circle class="s" cx="172" cy="1001"/><circle class="s" cx="208" cy="1032"/><circle class="o" cx="545" cy="867"/><circle class="s" cx="251" cy="996"/><circle class="s" cx="287" cy="1025"/><circle class="s" cx="284" cy="980"/><circle class="o" cx="424" cy="1167"/><circle class="o" cx="377" cy="1162"/><circle class="s" cx="159" cy="1049"/><circle class="o" cx="447" cy="896"/><circle class="s" cx="240" cy="1046"/><circle class="s" cx="180" cy="1060"/><circle class="s" cx="158" cy="1000"/><circle class="o" cx="403" cy="1157"/><circle class="s" cx="240" cy="1019"/><circle class="s" cx="209" cy="1103"/><circle class="o" cx="570" cy="908"/><circle class="s" cx="172" cy="1030"/><circle class="o" cx="565" cy="956"/><circle class="s" cx="182" cy="1067"/><circle class="o" cx="483" cy="1092"/><circle class="o" cx="538" cy="1070"/><circle class="o" cx="462" cy="1013"/><circle class="s" cx="212" cy="963"/><circle class="s" cx="208" cy="956"/><circle class="o" cx="395" cy="1064"/><circle class="o" cx="570" cy="903"/><circle class="o" cx="421" cy="1130"/><circle class="s" cx="176" cy="1034"/><circle class="s" cx="240" cy="1037"/><circle class="s" cx="189" cy="958"/><circle class="s" cx="209" cy="1118"/><circle class="s" cx="214" cy="1100"/><circle class="o" cx="410" cy="1114"/><circle class="s" cx="256" cy="951"/><circle class="s" cx="151" cy="1031"/><circle class="s" cx="204" cy="953"/><circle class="o" cx="561" cy="990"/><circle class="s" cx="273" cy="990"/><circle class="s" cx="174" cy="1066"/><circle class="o" cx="553" cy="1029"/><circle class="s" cx="315" cy="984"/><circle class="o" cx="557" cy="1003"/><circle class="o" cx="355" cy="1162"/><circle class="o" cx="532" cy="1060"/><circle class="o" cx="275" cy="1104"/><circle class="s" cx="202" cy="1107"/><circle class="s" cx="260" cy="990"/><circle class="s" cx="176" cy="1006"/><circle class="o" cx="538" cy="1042"/><circle class="o" cx="546" cy="877"/><circle class="s" cx="191" cy="982"/><circle class="s" cx="233" cy="1015"/><circle class="s" cx="223" cy="956"/><circle class="s" cx="227" cy="954"/><circle class="s" cx="173" cy="1048"/><circle class="s" cx="261" cy="968"/><circle class="o" cx="385" cy="1135"/><circle class="s" cx="156" cy="1036"/><circle class="o" cx="345" cy="1169"/><circle class="s" cx="170" cy="1012"/><circle class="s" cx="161" cy="1023"/><circle class="s" cx="256" cy="1077"/><circle class="o" cx="557" cy="1058"/><circle class="o" cx="566" cy="874"/><circle class="o" cx="552" cy="1016"/><circle class="o" cx="557" cy="1032"/><circle class="s" cx="206" cy="979"/><circle class="o" cx="479" cy="1113"/><circle class="s" cx="242" cy="983"/><circle class="s" cx="238" cy="1028"/><circle class="s" cx="318" cy="895"/><circle class="s" cx="401" cy="937"/><circle class="o" cx="580" cy="940"/><circle class="s" cx="182" cy="1050"/><circle class="o" cx="462" cy="1090"/><circle class="o" cx="577" cy="930"/><circle class="o" cx="485" cy="1143"/><circle class="o" cx="269" cy="1136"/><circle class="s" cx="262" cy="993"/><circle class="o" cx="552" cy="1056"/><circle class="s" cx="292" cy="1056"/><circle class="o" cx="391" cy="1120"/><circle class="o" cx="318" cy="1050"/><circle class="s" cx="222" cy="1004"/><circle class="s" cx="179" cy="1071"/><circle class="o" cx="519" cy="1081"/><circle class="o" cx="404" cy="1166"/><circle class="s" cx="232" cy="1066"/><circle class="o" cx="489" cy="1119"/><circle class="s" cx="274" cy="966"/><circle class="s" cx="234" cy="946"/><circle class="o" cx="425" cy="1162"/><circle class="s" cx="155" cy="1009"/><circle class="o" cx="387" cy="1175"/><circle class="o" cx="541" cy="1064"/><circle class="s" cx="281" cy="1007"/><circle class="s" cx="217" cy="1020"/><circle class="s" cx="176" cy="1071"/><circle class="o" cx="569" cy="965"/><circle class="o" cx="572" cy="976"/><circle class="s" cx="182" cy="1015"/><circle class="o" cx="240" cy="1148"/><circle class="o" cx="543" cy="915"/><circle class="s" cx="149" cy="1019"/><circle class="s" cx="174" cy="1080"/><circle class="o" cx="332" cy="1010"/><circle class="o" cx="506" cy="1095"/><circle class="s" cx="286" cy="1012"/><circle class="o" cx="362" cy="1136"/><circle class="o" cx="348" cy="1140"/><circle class="s" cx="204" cy="953"/><circle class="o" cx="434" cy="1091"/><circle class="s" cx="165" cy="1045"/><circle class="o" cx="379" cy="1181"/><circle class="o" cx="412" cy="1181"/><circle class="o" cx="260" cy="1127"/><circle class="s" cx="181" cy="964"/><circle class="o" cx="266" cy="1138"/><circle class="o" cx="526" cy="1052"/><circle class="s" cx="212" cy="1116"/><circle class="o" cx="542" cy="944"/><circle class="s" cx="216" cy="984"/><circle class="o" cx="373" cy="1142"/><circle class="s" cx="157" cy="993"/><circle class="s" cx="178" cy="1070"/><circle class="o" cx="517" cy="1061"/><circle class="o" cx="252" cy="1128"/><circle class="o" cx="370" cy="1179"/><circle class="s" cx="234" cy="967"/><circle class="s" cx="261" cy="1039"/><circle class="o" cx="474" cy="1099"/><circle class="o" cx="267" cy="1152"/><circle class="o" cx="552" cy="1040"/><circle class="s" cx="181" cy="1058"/><circle class="o" cx="383" cy="1152"/><circle class="o" cx="551" cy="871"/><circle class="o" cx="558" cy="867"/><circle class="s" cx="210" cy="1104"/><circle class="o" cx="503" cy="1108"/><circle class="s" cx="197" cy="1015"/><circle class="o" cx="393" cy="1008"/><circle class="s" cx="189" cy="1108"/><circle class="o" cx="541" cy="1053"/><circle class="o" cx="439" cy="1167"/><circle class="s" cx="183" cy="1088"/><circle class="o" cx="510" cy="1068"/><circle class="s" cx="344" cy="964"/><circle class="s" cx="167" cy="987"/><circle class="o" cx="340" cy="1143"/><circle class="s" cx="193" cy="1066"/><circle class="o" cx="402" cy="1167"/><circle class="s" cx="166" cy="1064"/><circle class="o" cx="253" cy="1135"/><circle class="s" cx="284" cy="976"/><circle class="s" cx="161" cy="1028"/><circle class="o" cx="549" cy="866"/><circle class="o" cx="577" cy="999"/><circle class="o" cx="398" cy="1168"/><circle class="s" cx="329" cy="932"/><circle class="o" cx="361" cy="1124"/><circle class="o" cx="457" cy="1105"/><circle class="o" cx="574" cy="1001"/><circle class="s" cx="242" cy="1091"/><circle class="o" cx="569" cy="886"/><circle class="s" cx="244" cy="976"/><circle class="s" cx="170" cy="987"/><circle class="s" cx="364" cy="934"/><circle class="o" cx="536" cy="1083"/><circle class="s" cx="251" cy="989"/><circle class="s" cx="226" cy="1005"/><circle class="o" cx="564" cy="1003"/><circle class="s" cx="221" cy="1041"/><circle class="o" cx="368" cy="1124"/><circle class="s" cx="260" cy="1040"/><circle class="s" cx="185" cy="1076"/><circle class="s" cx="250" cy="1037"/><circle class="o" cx="439" cy="1125"/><circle class="s" cx="243" cy="1034"/><circle class="s" cx="170" cy="1087"/><circle class="o" cx="552" cy="865"/><circle class="o" cx="386" cy="1163"/><circle class="s" cx="247" cy="986"/><circle class="s" cx="173" cy="1073"/><circle class="s" cx="217" cy="965"/><circle class="o" cx="420" cy="1129"/><circle class="s" cx="192" cy="1000"/><circle class="o" cx="456" cy="1118"/><circle class="s" cx="232" cy="955"/><circle class="o" cx="457" cy="1176"/><circle class="s" cx="282" cy="994"/><circle class="o" cx="426" cy="1140"/><circle class="s" cx="251" cy="966"/><circle class="s" cx="160" cy="1054"/><circle class="s" cx="253" cy="1021"/><circle class="s" cx="162" cy="998"/><circle class="s" cx="173" cy="1070"/><circle class="s" cx="206" cy="1077"/><circle class="s" cx="236" cy="1035"/><circle class="o" cx="379" cy="1027"/><circle class="s" cx="170" cy="1058"/><circle class="s" cx="303" cy="984"/><circle class="o" cx="540" cy="1039"/><circle class="s" cx="161" cy="1062"/><circle class="s" cx="176" cy="1034"/><circle class="o" cx="268" cy="1065"/><circle class="o" cx="549" cy="1013"/><circle class="s" cx="335" cy="946"/><circle class="o" cx="555" cy="1039"/><circle class="s" cx="214" cy="970"/><circle class="o" cx="479" cy="1155"/><circle class="o" cx="245" cy="1130"/><circle class="o" cx="424" cy="1117"/><circle class="o" cx="545" cy="1052"/><circle class="o" cx="311" cy="1135"/><circle class="s" cx="288" cy="972"/><circle class="s" cx="224" cy="969"/><circle class="s" cx="253" cy="969"/><circle class="o" cx="504" cy="1080"/><circle class="o" cx="414" cy="1125"/><circle class="s" cx="156" cy="1037"/><circle class="s" cx="311" cy="917"/><circle class="o" cx="374" cy="1178"/><circle class="s" cx="288" cy="1031"/><circle class="s" cx="194" cy="971"/><circle class="o" cx="543" cy="1030"/><circle class="o" cx="364" cy="1067"/><circle class="s" cx="215" cy="958"/><circle class="o" cx="480" cy="1163"/><circle class="o" cx="346" cy="1150"/><circle class="o" cx="567" cy="924"/><circle class="s" cx="249" cy="1084"/><circle class="o" cx="557" cy="1034"/><circle class="o" cx="238" cy="1115"/><circle class="o" cx="390" cy="1130"/><circle class="o" cx="571" cy="956"/><circle class="s" cx="196" cy="955"/><circle class="s" cx="170" cy="1008"/><circle class="o" cx="513" cy="1086"/><circle class="s" cx="248" cy="1027"/><circle class="s" cx="169" cy="991"/><circle class="o" cx="521" cy="1055"/><circle class="s" cx="221" cy="949"/><circle class="s" cx="297" cy="903"/><circle class="o" cx="511" cy="1074"/><circle class="s" cx="249" cy="988"/><circle class="o" cx="450" cy="1122"/><circle class="o" cx="325" cy="1151"/><circle class="s" cx="277" cy="992"/><circle class="o" cx="354" cy="1168"/><circle class="o" cx="575" cy="907"/><circle class="s" cx="173" cy="1086"/><circle class="o" cx="567" cy="958"/><circle class="s" cx="195" cy="1096"/><circle class="s" cx="205" cy="953"/><circle class="o" cx="418" cy="1144"/><circle class="s" cx="226" cy="949"/><circle class="s" cx="275" cy="952"/><circle class="o" cx="432" cy="1130"/><circle class="o" cx="284" cy="1134"/><circle class="s" cx="296" cy="985"/><circle class="s" cx="241" cy="1082"/><circle class="o" cx="552" cy="874"/><circle class="o" cx="292" cy="1126"/><circle class="o" cx="391" cy="1162"/><circle class="o" cx="378" cy="1136"/><circle class="s" cx="270" cy="1053"/><circle class="o" cx="440" cy="1075"/><circle class="s" cx="208" cy="972"/><circle class="s" cx="314" cy="889"/><circle class="o" cx="571" cy="974"/><circle class="o" cx="587" cy="933"/><circle class="s" cx="254" cy="978"/><circle class="o" cx="428" cy="942"/><circle class="o" cx="463" cy="1153"/><circle class="s" cx="235" cy="1085"/><circle class="o" cx="276" cy="1124"/><circle class="o" cx="580" cy="971"/><circle class="o" cx="447" cy="1155"/><circle class="s" cx="195" cy="1004"/><circle class="o" cx="537" cy="1052"/><circle class="s" cx="226" cy="972"/><circle class="o" cx="527" cy="897"/><circle class="s" cx="183" cy="987"/><circle class="s" cx="187" cy="1058"/><circle class="o" cx="283" cy="1143"/><circle class="s" cx="200" cy="1109"/><circle class="s" cx="183" cy="1049"/><circle class="s" cx="222" cy="1038"/><circle class="o" cx="290" cy="1157"/><circle class="s" cx="173" cy="1048"/><circle class="o" cx="560" cy="1028"/><circle class="s" cx="235" cy="949"/><circle class="s" cx="289" cy="1058"/><circle class="o" cx="567" cy="984"/><circle class="s" cx="180" cy="1076"/><circle class="o" cx="339" cy="1146"/><circle class="o" cx="566" cy="981"/><circle class="s" cx="204" cy="935"/><circle class="o" cx="581" cy="894"/><circle class="o" cx="530" cy="866"/><circle class="s" cx="204" cy="1128"/><circle class="o" cx="442" cy="1112"/><circle class="o" cx="458" cy="1163"/><circle class="s" cx="180" cy="1048"/><circle class="o" cx="562" cy="1001"/><circle class="o" cx="459" cy="1008"/><circle class="o" cx="387" cy="1149"/><circle class="s" cx="217" cy="1091"/><circle class="s" cx="271" cy="946"/><circle class="o" cx="576" cy="990"/><circle class="o" cx="550" cy="872"/><circle class="o" cx="475" cy="1121"/><circle class="s" cx="248" cy="1023"/><circle class="s" cx="222" cy="1045"/><circle class="s" cx="160" cy="1039"/><circle class="o" cx="458" cy="1131"/><circle class="o" cx="389" cy="1141"/><circle class="s" cx="264" cy="1082"/><circle class="o" cx="455" cy="1141"/><circle class="o" cx="472" cy="1122"/><circle class="s" cx="219" cy="1109"/><circle class="o" cx="276" cy="1120"/><circle class="o" cx="574" cy="996"/><circle class="s" cx="264" cy="1015"/><circle class="o" cx="567" cy="987"/><circle class="s" cx="279" cy="1044"/><circle class="s" cx="191" cy="970"/><circle class="s" cx="184" cy="1105"/><circle class="o" cx="418" cy="1010"/><circle class="s" cx="198" cy="982"/><circle class="o" cx="299" cy="1146"/><circle class="s" cx="189" cy="1016"/><circle class="o" cx="578" cy="986"/><circle class="s" cx="331" cy="1007"/><circle class="o" cx="336" cy="1139"/><circle class="o" cx="562" cy="966"/><circle class="s" cx="165" cy="1019"/><circle class="o" cx="429" cy="1171"/><circle class="s" cx="179" cy="1064"/><circle class="s" cx="266" cy="1035"/><circle class="s" cx="168" cy="1018"/><circle class="o" cx="301" cy="1175"/><circle class="s" cx="219" cy="992"/><circle class="o" cx="235" cy="1131"/><circle class="s" cx="170" cy="1029"/><circle class="s" cx="169" cy="1046"/><circle class="o" cx="515" cy="854"/><circle class="s" cx="220" cy="1047"/><circle class="o" cx="460" cy="1045"/><circle class="s" cx="240" cy="979"/><circle class="s" cx="259" cy="1080"/><circle class="s" cx="201" cy="1088"/><circle class="s" cx="200" cy="1098"/><circle class="s" cx="189" cy="1056"/><circle class="o" cx="266" cy="1137"/><circle class="s" cx="331" cy="912"/><circle class="s" cx="279" cy="1036"/><circle class="s" cx="214" cy="961"/><circle class="o" cx="561" cy="918"/><circle class="o" cx="376" cy="1024"/><circle class="o" cx="574" cy="977"/><circle class="s" cx="300" cy="901"/><circle class="o" cx="432" cy="1177"/><circle class="o" cx="539" cy="1061"/><circle class="o" cx="526" cy="988"/><circle class="o" cx="464" cy="1116"/><circle class="o" cx="356" cy="1161"/><circle class="s" cx="270" cy="1080"/><circle class="s" cx="302" cy="947"/><circle class="o" cx="590" cy="950"/><circle class="o" cx="314" cy="1143"/><circle class="o" cx="363" cy="1170"/><circle class="s" cx="213" cy="1101"/><circle class="s" cx="180" cy="1072"/><circle class="o" cx="464" cy="1111"/><circle class="s" cx="223" cy="961"/><circle class="o" cx="569" cy="968"/><circle class="s" cx="214" cy="953"/><circle class="o" cx="329" cy="1140"/><circle class="o" cx="378" cy="1114"/><circle class="s" cx="243" cy="1012"/><circle class="o" cx="264" cy="1133"/><circle class="o" cx="399" cy="1132"/><circle class="o" cx="439" cy="1131"/><circle class="s" cx="291" cy="981"/><circle class="s" cx="165" cy="994"/><circle class="s" cx="324" cy="927"/><circle class="o" cx="349" cy="1150"/><circle class="o" cx="381" cy="1181"/><circle class="o" cx="401" cy="1175"/><circle class="s" cx="183" cy="1086"/><circle class="s" cx="171" cy="1063"/><circle class="o" cx="505" cy="1060"/><circle class="s" cx="250" cy="991"/><circle class="o" cx="572" cy="891"/><circle class="o" cx="538" cy="1038"/><circle class="s" cx="268" cy="989"/><circle class="s" cx="197" cy="1102"/><circle class="s" cx="328" cy="904"/><circle class="o" cx="533" cy="1101"/><circle class="o" cx="402" cy="1179"/><circle class="o" cx="559" cy="1022"/><circle class="o" cx="507" cy="1065"/><circle class="o" cx="452" cy="1163"/><circle class="o" cx="312" cy="1146"/><circle class="s" cx="172" cy="967"/><circle class="o" cx="469" cy="1013"/><circle class="o" cx="391" cy="1132"/><circle class="s" cx="193" cy="1075"/><circle class="s" cx="229" cy="981"/><circle class="o" cx="463" cy="1152"/><circle class="o" cx="479" cy="1152"/><circle class="s" cx="168" cy="1002"/><circle class="o" cx="545" cy="1044"/><circle class="o" cx="404" cy="1178"/><circle class="s" cx="251" cy="1010"/><circle class="o" cx="520" cy="1060"/><circle class="o" cx="367" cy="1180"/><circle class="o" cx="572" cy="972"/><circle class="o" cx="530" cy="847"/><circle class="o" cx="350" cy="1147"/><circle class="s" cx="166" cy="1026"/><circle class="s" cx="190" cy="1099"/><circle class="s" cx="200" cy="1066"/><circle class="s" cx="308" cy="1023"/><circle class="s" cx="297" cy="1032"/><circle class="s" cx="175" cy="1071"/><circle class="s" cx="236" cy="988"/><circle class="o" cx="573" cy="931"/><circle class="s" cx="219" cy="987"/><circle class="s" cx="247" cy="1029"/><circle class="o" cx="474" cy="1102"/><circle class="o" cx="573" cy="977"/><circle class="s" cx="194" cy="1071"/><circle class="s" cx="239" cy="991"/><circle class="s" cx="186" cy="929"/><circle class="s" cx="240" cy="982"/><circle class="o" cx="280" cy="1105"/><circle class="s" cx="205" cy="979"/><circle class="o" cx="524" cy="1068"/><circle class="o" cx="529" cy="1064"/><circle class="s" cx="245" cy="1045"/><circle class="s" cx="300" cy="1005"/><circle class="o" cx="226" cy="1135"/><circle class="o" cx="500" cy="1040"/><circle class="o" cx="406" cy="1188"/><circle class="s" cx="178" cy="960"/><circle class="o" cx="439" cy="1128"/><circle class="s" cx="176" cy="1061"/><circle class="o" cx="521" cy="1084"/><circle class="o" cx="368" cy="1119"/><circle class="o" cx="473" cy="1115"/><circle class="s" cx="201" cy="1095"/><circle class="o" cx="241" cy="1136"/><circle class="s" cx="162" cy="992"/><circle class="o" cx="564" cy="1002"/><circle class="s" cx="248" cy="981"/><circle class="s" cx="147" cy="1010"/><circle class="s" cx="180" cy="1016"/><circle class="s" cx="417" cy="924"/><circle class="s" cx="184" cy="1057"/><circle class="s" cx="293" cy="989"/><circle class="o" cx="336" cy="1130"/><circle class="o" cx="353" cy="1162"/><circle class="s" cx="250" cy="970"/><circle class="o" cx="515" cy="1030"/><circle class="s" cx="176" cy="1055"/><circle class="o" cx="564" cy="872"/><circle class="s" cx="218" cy="1047"/><circle class="s" cx="373" cy="911"/><circle class="o" cx="369" cy="1123"/><circle class="o" cx="426" cy="1164"/><circle class="o" cx="468" cy="998"/><circle class="s" cx="179" cy="1059"/><circle class="o" cx="405" cy="1070"/><circle class="o" cx="565" cy="906"/><circle class="o" cx="338" cy="1157"/><circle class="o" cx="563" cy="1033"/><circle class="o" cx="574" cy="908"/><circle class="o" cx="576" cy="926"/><circle class="s" cx="204" cy="1100"/><circle class="o" cx="540" cy="1056"/><circle class="s" cx="187" cy="1103"/><circle class="o" cx="351" cy="1148"/><circle class="o" cx="380" cy="1080"/><circle class="s" cx="266" cy="963"/><circle class="s" cx="147" cy="1016"/><circle class="s" cx="265" cy="963"/><circle class="o" cx="426" cy="1140"/><circle class="o" cx="350" cy="1155"/><circle class="o" cx="393" cy="1140"/><circle class="s" cx="278" cy="1013"/><circle class="o" cx="430" cy="1162"/><circle class="s" cx="214" cy="1116"/><circle class="s" cx="245" cy="1012"/><circle class="o" cx="390" cy="1141"/><circle class="o" cx="432" cy="1126"/><circle class="o" cx="490" cy="1091"/><circle class="o" cx="533" cy="1042"/><circle class="o" cx="412" cy="1120"/><circle class="s" cx="162" cy="1002"/><circle class="s" cx="144" cy="1040"/><circle class="o" cx="500" cy="1105"/><circle class="o" cx="442" cy="1181"/><circle class="o" cx="402" cy="1187"/><circle class="s" cx="224" cy="980"/><circle class="s" cx="167" cy="1011"/><circle class="s" cx="214" cy="1007"/><circle class="s" cx="265" cy="1014"/><circle class="s" cx="183" cy="1083"/><circle class="o" cx="561" cy="994"/><circle class="s" cx="268" cy="915"/><circle class="o" cx="252" cy="1103"/><circle class="s" cx="231" cy="973"/><circle class="o" cx="424" cy="1177"/><circle class="s" cx="355" cy="906"/><circle class="o" cx="554" cy="1018"/><circle class="s" cx="160" cy="1018"/><circle class="s" cx="266" cy="959"/><circle class="s" cx="224" cy="948"/><circle class="o" cx="462" cy="1102"/><circle class="s" cx="282" cy="1008"/><circle class="o" cx="480" cy="930"/><circle class="s" cx="217" cy="934"/><circle class="s" cx="158" cy="1055"/><circle class="o" cx="311" cy="1152"/><circle class="s" cx="304" cy="1038"/><circle class="o" cx="380" cy="1171"/><circle class="s" cx="211" cy="973"/><circle class="o" cx="537" cy="1042"/><circle class="o" cx="519" cy="1040"/><circle class="s" cx="237" cy="975"/><circle class="o" cx="344" cy="1128"/><circle class="s" cx="191" cy="1028"/><circle class="o" cx="556" cy="1026"/><circle class="s" cx="208" cy="1122"/><circle class="s" cx="369" cy="914"/><circle class="o" cx="581" cy="977"/><circle class="s" cx="225" cy="1037"/><circle class="s" cx="206" cy="1109"/><circle class="o" cx="346" cy="1137"/><circle class="s" cx="212" cy="1105"/><circle class="o" cx="479" cy="1150"/><circle class="o" cx="565" cy="886"/><circle class="s" cx="182" cy="1069"/><circle class="s" cx="206" cy="1063"/><circle class="o" cx="547" cy="1022"/><circle class="o" cx="413" cy="1178"/><circle class="s" cx="205" cy="974"/><circle class="s" cx="174" cy="1064"/><circle class="o" cx="333" cy="1142"/><circle class="s" cx="226" cy="970"/><circle class="o" cx="571" cy="953"/><circle class="s" cx="181" cy="1121"/><circle class="s" cx="211" cy="969"/><circle class="o" cx="496" cy="1095"/><circle class="o" cx="429" cy="1164"/><circle class="o" cx="251" cy="1134"/><circle class="s" cx="269" cy="967"/><circle class="s" cx="202" cy="998"/><circle class="o" cx="573" cy="984"/><circle class="s" cx="207" cy="1079"/><circle class="o" cx="565" cy="946"/><circle class="s" cx="163" cy="1002"/><circle class="o" cx="362" cy="1120"/><circle class="s" cx="201" cy="970"/><circle class="o" cx="341" cy="1159"/><circle class="o" cx="556" cy="929"/><circle class="s" cx="330" cy="996"/><circle class="o" cx="341" cy="1173"/><circle class="o" cx="570" cy="993"/><circle class="s" cx="270" cy="985"/><circle class="s" cx="210" cy="972"/><circle class="o" cx="524" cy="1089"/><circle class="s" cx="209" cy="962"/><circle class="o" cx="284" cy="1133"/><circle class="s" cx="216" cy="952"/><circle class="s" cx="188" cy="986"/><circle class="o" cx="476" cy="1093"/><circle class="s" cx="209" cy="1088"/><circle class="s" cx="169" cy="988"/><circle class="s" cx="173" cy="990"/><circle class="o" cx="274" cy="1118"/><circle class="s" cx="226" cy="1054"/><circle class="o" cx="488" cy="1113"/><circle class="o" cx="562" cy="975"/><circle class="s" cx="196" cy="1083"/><circle class="s" cx="179" cy="1095"/><circle class="o" cx="514" cy="857"/><circle class="o" cx="493" cy="1110"/><circle class="o" cx="253" cy="1119"/><circle class="s" cx="333" cy="925"/><circle class="o" cx="262" cy="1139"/><circle class="o" cx="424" cy="1143"/><circle class="o" cx="498" cy="854"/><circle class="s" cx="211" cy="1041"/><circle class="s" cx="177" cy="1077"/><circle class="o" cx="396" cy="1128"/><circle class="o" cx="558" cy="1023"/><circle class="s" cx="350" cy="916"/><circle class="o" cx="558" cy="987"/><circle class="o" cx="582" cy="948"/><circle class="s" cx="151" cy="985"/><circle class="s" cx="208" cy="1055"/><circle class="s" cx="161" cy="1067"/><circle class="o" cx="561" cy="1002"/><circle class="s" cx="240" cy="1004"/><circle class="o" cx="552" cy="1025"/><circle class="s" cx="186" cy="1068"/><circle class="o" cx="287" cy="1130"/><circle class="o" cx="549" cy="1052"/><circle class="o" cx="429" cy="1132"/><circle class="o" cx="363" cy="1132"/><circle class="s" cx="154" cy="1058"/><circle class="s" cx="195" cy="1059"/><circle class="s" cx="164" cy="1022"/><circle class="s" cx="181" cy="1070"/><circle class="o" cx="563" cy="994"/><circle class="s" cx="192" cy="1092"/><circle class="s" cx="203" cy="970"/><circle class="o" cx="489" cy="1103"/><circle class="s" cx="286" cy="1036"/><circle class="s" cx="204" cy="961"/><circle class="s" cx="264" cy="976"/><circle class="s" cx="189" cy="954"/><circle class="o" cx="403" cy="1177"/><circle class="o" cx="500" cy="1101"/><circle class="o" cx="577" cy="881"/><circle class="s" cx="191" cy="1070"/><circle class="o" cx="554" cy="1012"/><circle class="o" cx="461" cy="1110"/><circle class="s" cx="261" cy="972"/><circle class="s" cx="176" cy="1065"/><circle class="s" cx="213" cy="987"/><circle class="s" cx="291" cy="1052"/><circle class="o" cx="577" cy="976"/><circle class="s" cx="171" cy="1082"/><circle class="s" cx="190" cy="960"/><circle class="o" cx="348" cy="1153"/><circle class="o" cx="516" cy="1060"/><circle class="s" cx="218" cy="1024"/><circle class="s" cx="198" cy="1096"/><circle class="s" cx="217" cy="957"/><circle class="o" cx="508" cy="841"/><circle class="s" cx="199" cy="1076"/><circle class="o" cx="455" cy="1162"/><circle class="o" cx="575" cy="924"/><circle class="s" cx="151" cy="984"/><circle class="o" cx="309" cy="1122"/><circle class="s" cx="214" cy="978"/><circle class="o" cx="405" cy="1127"/><circle class="o" cx="556" cy="977"/><circle class="o" cx="390" cy="1121"/><circle class="o" cx="559" cy="1018"/><circle class="s" cx="233" cy="1019"/><circle class="s" cx="218" cy="1081"/><circle class="s" cx="192" cy="993"/><circle class="o" cx="574" cy="931"/><circle class="o" cx="243" cy="1131"/><circle class="s" cx="200" cy="988"/><circle class="s" cx="285" cy="1007"/><circle class="s" cx="236" cy="1036"/><circle class="s" cx="307" cy="1078"/><circle class="s" cx="171" cy="1046"/><circle class="s" cx="219" cy="974"/><circle class="o" cx="438" cy="1124"/><circle class="o" cx="547" cy="1041"/><circle class="s" cx="233" cy="1007"/><circle class="o" cx="583" cy="891"/><circle class="o" cx="298" cy="1145"/><circle class="o" cx="581" cy="960"/><circle class="o" cx="360" cy="1137"/><circle class="o" cx="566" cy="872"/><circle class="o" cx="288" cy="1131"/><circle class="s" cx="182" cy="1069"/><circle class="o" cx="467" cy="1161"/><circle class="s" cx="363" cy="914"/><circle class="o" cx="582" cy="912"/><circle class="o" cx="528" cy="1067"/><circle class="o" cx="378" cy="1170"/><circle class="o" cx="365" cy="983"/><circle class="o" cx="377" cy="1187"/><circle class="o" cx="579" cy="894"/><circle class="s" cx="168" cy="1050"/><circle class="s" cx="274" cy="1018"/><circle class="o" cx="558" cy="1012"/><circle class="s" cx="241" cy="986"/><circle class="o" cx="530" cy="1073"/><circle class="s" cx="245" cy="977"/><circle class="o" cx="384" cy="1182"/><circle class="s" cx="205" cy="976"/><circle class="o" cx="414" cy="1124"/><circle class="o" cx="572" cy="942"/><circle class="o" cx="395" cy="1180"/><circle class="s" cx="196" cy="990"/><circle class="s" cx="259" cy="980"/><circle class="o" cx="265" cy="1090"/><circle class="o" cx="380" cy="1187"/><circle class="o" cx="343" cy="1181"/><circle class="s" cx="212" cy="971"/><circle class="s" cx="184" cy="1071"/><circle class="s" cx="217" cy="1021"/><circle class="o" cx="383" cy="1140"/><circle class="s" cx="187" cy="1098"/><circle class="o" cx="382" cy="1174"/><circle class="o" cx="431" cy="1167"/><circle class="s" cx="168" cy="1053"/><circle class="o" cx="430" cy="1166"/><circle class="o" cx="367" cy="1154"/><circle class="s" cx="238" cy="1006"/><circle class="s" cx="161" cy="1062"/><circle class="o" cx="493" cy="1099"/><circle class="s" cx="214" cy="953"/><circle class="o" cx="459" cy="1117"/><circle class="o" cx="562" cy="1008"/><circle class="o" cx="538" cy="1041"/><circle class="s" cx="387" cy="923"/><circle class="o" cx="509" cy="1090"/><circle class="s" cx="246" cy="1007"/><circle class="s" cx="211" cy="1119"/><circle class="s" cx="191" cy="1053"/><circle class="s" cx="224" cy="961"/><circle class="o" cx="372" cy="1016"/><circle class="o" cx="516" cy="1101"/><circle class="o" cx="538" cy="1014"/><circle class="o" cx="556" cy="1032"/><circle class="o" cx="298" cy="1040"/><circle class="s" cx="241" cy="997"/><circle class="o" cx="569" cy="1007"/><circle class="o" cx="418" cy="966"/><circle class="s" cx="221" cy="988"/><circle class="s" cx="143" cy="1011"/><circle class="s" cx="231" cy="947"/><circle class="o" cx="409" cy="1135"/><circle class="o" cx="362" cy="1168"/><circle class="s" cx="326" cy="910"/><circle class="o" cx="536" cy="1052"/><circle class="s" cx="168" cy="1035"/><circle class="s" cx="196" cy="1087"/><circle class="o" cx="486" cy="1102"/><circle class="o" cx="570" cy="974"/><circle class="o" cx="377" cy="1182"/><circle class="s" cx="230" cy="1049"/><circle class="o" cx="270" cy="1142"/><circle class="o" cx="307" cy="1149"/><circle class="o" cx="333" cy="1135"/><circle class="o" cx="494" cy="1112"/><circle class="o" cx="386" cy="1130"/><circle class="s" cx="209" cy="1099"/><circle class="o" cx="449" cy="1162"/><circle class="s" cx="306" cy="1048"/><circle class="s" cx="283" cy="1055"/><circle class="o" cx="440" cy="1123"/><circle class="o" cx="378" cy="1166"/><circle class="o" cx="239" cy="1135"/><circle class="o" cx="568" cy="981"/><circle class="o" cx="565" cy="1035"/><circle class="s" cx="216" cy="1102"/><circle class="o" cx="574" cy="910"/><circle class="o" cx="582" cy="938"/><circle class="o" cx="423" cy="1183"/><circle class="o" cx="446" cy="1127"/><circle class="o" cx="531" cy="1058"/><circle class="o" cx="264" cy="1135"/><circle class="o" cx="463" cy="1129"/><circle class="o" cx="422" cy="1127"/><circle class="o" cx="357" cy="1143"/><circle class="o" cx="560" cy="1000"/><circle class="s" cx="157" cy="1023"/><circle class="o" cx="246" cy="1123"/><circle class="s" cx="190" cy="1021"/><circle class="o" cx="252" cy="1126"/><circle class="o" cx="583" cy="990"/><circle class="s" cx="171" cy="989"/><circle class="s" cx="209" cy="1117"/><circle class="s" cx="292" cy="966"/><circle class="o" cx="578" cy="947"/><circle class="s" cx="172" cy="1010"/><circle class="s" cx="215" cy="996"/><circle class="o" cx="571" cy="971"/><circle class="o" cx="478" cy="1030"/><circle class="s" cx="325" cy="906"/><circle class="s" cx="160" cy="1052"/><circle class="o" cx="366" cy="1151"/><circle class="o" cx="585" cy="940"/><circle class="s" cx="222" cy="1024"/><circle class="o" cx="399" cy="1185"/><circle class="s" cx="175" cy="1071"/><circle class="s" cx="268" cy="990"/><circle class="o" cx="585" cy="962"/><circle class="o" cx="388" cy="1067"/><circle class="s" cx="250" cy="1071"/><circle class="o" cx="483" cy="1107"/><circle class="o" cx="426" cy="1127"/><circle class="o" cx="525" cy="847"/><circle class="s" cx="193" cy="960"/><circle class="o" cx="496" cy="1087"/><circle class="o" cx="575" cy="972"/><circle class="o" cx="584" cy="981"/><circle class="o" cx="361" cy="1169"/><circle class="o" cx="585" cy="951"/><circle class="s" cx="204" cy="966"/><circle class="s" cx="176" cy="1092"/><circle class="o" cx="414" cy="1135"/><circle class="s" cx="241" cy="1005"/><circle class="o" cx="573" cy="926"/><circle class="o" cx="569" cy="982"/><circle class="o" cx="497" cy="1094"/><circle class="s" cx="152" cy="987"/><circle class="s" cx="219" cy="969"/><circle class="o" cx="491" cy="1082"/><circle class="o" cx="329" cy="1159"/><circle class="s" cx="241" cy="992"/><circle class="s" cx="295" cy="1021"/><circle class="o" cx="571" cy="1006"/><circle class="o" cx="483" cy="1103"/><circle class="o" cx="556" cy="1008"/><circle class="o" cx="432" cy="1131"/><circle class="s" cx="281" cy="1021"/><circle class="o" cx="582" cy="948"/><circle class="o" cx="563" cy="994"/><circle class="o" cx="354" cy="1169"/><circle class="o" cx="523" cy="1067"/><circle class="s" cx="220" cy="1076"/><circle class="o" cx="343" cy="1172"/><circle class="s" cx="318" cy="928"/><circle class="s" cx="161" cy="1004"/><circle class="s" cx="164" cy="1021"/><circle class="s" cx="323" cy="936"/><circle class="o" cx="557" cy="1061"/><circle class="o" cx="543" cy="906"/><circle class="s" cx="160" cy="1054"/><circle class="o" cx="572" cy="953"/><circle class="s" cx="183" cy="1100"/><circle class="s" cx="178" cy="1062"/><circle class="o" cx="561" cy="883"/><circle class="o" cx="537" cy="1058"/><circle class="s" cx="191" cy="1105"/><circle class="o" cx="373" cy="1072"/><circle class="s" cx="205" cy="1039"/><circle class="s" cx="241" cy="1026"/><circle class="o" cx="400" cy="975"/><circle class="o" cx="524" cy="1075"/><circle class="s" cx="226" cy="980"/><circle class="s" cx="171" cy="1055"/><circle class="o" cx="469" cy="1119"/><circle class="o" cx="423" cy="1168"/><circle class="o" cx="564" cy="1031"/><circle class="s" cx="235" cy="965"/><circle class="s" cx="234" cy="974"/><circle class="o" cx="529" cy="1031"/><circle class="s" cx="303" cy="1018"/><circle class="s" cx="186" cy="1011"/><circle class="o" cx="578" cy="980"/><circle class="o" cx="578" cy="939"/><circle class="s" cx="169" cy="1074"/><circle class="s" cx="299" cy="1025"/><circle class="o" cx="369" cy="1165"/><circle class="s" cx="188" cy="939"/><circle class="o" cx="444" cy="1119"/><circle class="o" cx="368" cy="1152"/><circle class="o" cx="432" cy="1181"/><circle class="o" cx="580" cy="968"/><circle class="o" cx="547" cy="1036"/><circle class="s" cx="165" cy="1017"/><circle class="o" cx="442" cy="1134"/><circle class="s" cx="291" cy="1006"/><circle class="o" cx="381" cy="1183"/><circle class="s" cx="192" cy="1098"/><circle class="o" cx="473" cy="1103"/><circle class="s" cx="204" cy="964"/><circle class="s" cx="284" cy="987"/><circle class="s" cx="208" cy="1057"/><circle class="o" cx="444" cy="1164"/><circle class="o" cx="416" cy="1177"/><circle class="s" cx="165" cy="982"/><circle class="o" cx="523" cy="881"/><circle class="o" cx="300" cy="1060"/><circle class="o" cx="340" cy="990"/><circle class="o" cx="559" cy="1027"/><circle class="s" cx="157" cy="1010"/><circle class="o" cx="359" cy="1119"/><circle class="s" cx="276" cy="991"/><circle class="s" cx="273" cy="961"/><circle class="s" cx="269" cy="1091"/><circle class="o" cx="577" cy="891"/><circle class="s" cx="258" cy="981"/><circle class="o" cx="350" cy="1135"/><circle class="o" cx="551" cy="1027"/><circle class="o" cx="355" cy="1080"/><circle class="s" cx="152" cy="1005"/><circle class="o" cx="245" cy="1133"/><circle class="o" cx="340" cy="1148"/><circle class="o" cx="569" cy="888"/><circle class="o" cx="526" cy="1085"/><circle class="s" cx="172" cy="1033"/><circle class="s" cx="291" cy="965"/><circle class="o" cx="354" cy="1171"/><circle class="o" cx="580" cy="894"/><circle class="o" cx="486" cy="1095"/><circle class="o" cx="499" cy="1100"/><circle class="o" cx="238" cy="1110"/><circle class="s" cx="166" cy="1006"/><circle class="o" cx="518" cy="1068"/><circle class="s" cx="217" cy="1028"/><circle class="s" cx="200" cy="960"/><circle class="o" cx="440" cy="960"/><circle class="s" cx="204" cy="1068"/><circle class="o" cx="585" cy="964"/><circle class="o" cx="245" cy="1120"/><circle class="o" cx="521" cy="928"/><circle class="o" cx="544" cy="1037"/><circle class="o" cx="562" cy="1051"/><circle class="o" cx="350" cy="1158"/><circle class="s" cx="172" cy="1050"/><circle class="s" cx="231" cy="900"/><circle class="s" cx="209" cy="946"/><circle class="s" cx="172" cy="1049"/><circle class="o" cx="490" cy="996"/><circle class="o" cx="361" cy="1136"/><circle class="s" cx="250" cy="968"/><circle class="o" cx="521" cy="859"/></g>
<text x="362.0" y="801.3" font-size="20.8" text-anchor="middle" fill="#000">N = 1503, pseudo−F = 468.7</text>
<text x="362.0" y="831.4" font-size="20.8" text-anchor="middle" fill="#000">p = 0.001, perm = 999</text>
<circle cx="533.6" cy="1212.7" r="2.55" fill="#44698f" stroke="#14202c" stroke-width="0.6"/>
<circle cx="533.6" cy="1240.6" r="2.55" fill="#7a5634" stroke="#2a1a0c" stroke-width="0.6"/>
<text x="555.0" y="1219.3" font-size="20.5" text-anchor="start" fill="#000">Skin</text>
<text x="555.0" y="1247.9" font-size="20.5" text-anchor="start" fill="#000">Soil</text>
<rect x="117.2" y="783.1" width="490.0" height="472.7" fill="none" stroke="#000" stroke-width="2.4"/>
<line x1="104.5" y1="803.3" x2="116.0" y2="803.3" stroke="#333333" stroke-width="4"/>
<text x="94.8" y="810.5" font-size="20.2" text-anchor="end" fill="#4d4d4d">0.50</text>
<line x1="104.5" y1="923.0" x2="116.0" y2="923.0" stroke="#333333" stroke-width="4"/>
<text x="94.8" y="930.2" font-size="20.2" text-anchor="end" fill="#4d4d4d">0.25</text>
<line x1="104.5" y1="1043.1" x2="116.0" y2="1043.1" stroke="#333333" stroke-width="4"/>
<text x="94.8" y="1050.3" font-size="20.2" text-anchor="end" fill="#4d4d4d">0.00</text>
<line x1="104.5" y1="1163.2" x2="116.0" y2="1163.2" stroke="#333333" stroke-width="4"/>
<text x="94.8" y="1170.4" font-size="20.2" text-anchor="end" fill="#4d4d4d">−0.25</text>
<line x1="212.7" y1="1257.0" x2="212.7" y2="1268.0" stroke="#333333" stroke-width="4"/>
<text x="212.7" y="1292.5" font-size="20.2" text-anchor="middle" fill="#4d4d4d">−0.25</text>
<line x1="336.8" y1="1257.0" x2="336.8" y2="1268.0" stroke="#333333" stroke-width="4"/>
<text x="336.8" y="1292.5" font-size="20.2" text-anchor="middle" fill="#4d4d4d">0.00</text>
<line x1="461.6" y1="1257.0" x2="461.6" y2="1268.0" stroke="#333333" stroke-width="4"/>
<text x="461.6" y="1292.5" font-size="20.2" text-anchor="middle" fill="#4d4d4d">0.25</text>
<line x1="585.8" y1="1257.0" x2="585.8" y2="1268.0" stroke="#333333" stroke-width="4"/>
<text x="585.8" y="1292.5" font-size="20.2" text-anchor="middle" fill="#4d4d4d">0.50</text>
<text x="362.0" y="1328.3" font-size="29" text-anchor="middle" fill="#000">PC1:  27 %</text>
<text x="24.8" y="1021.7" font-size="29" text-anchor="middle" fill="#000" transform="rotate(-90 24.8 1021.7)">PC2:  9 %</text>
<g transform="translate(0,0)">
<text x="1074.4" y="45.5" font-size="29" text-anchor="middle" fill="#000">Van Krevelen Classification</text>
<text x="1074.4" y="76.5" font-size="29" text-anchor="middle" fill="#000">Soil Metabolites</text>
<g stroke="#000" stroke-width="0.85"><circle cx="920.7" cy="135.6" r="6.7" fill="#7873bd"/><circle cx="931.2" cy="142.8" r="6.2" fill="#7873bd"/><circle cx="869.4" cy="146.1" r="3.3" fill="#7873bd"/><circle cx="858.0" cy="160.8" r="2.9" fill="#7873bd"/><circle cx="919.8" cy="161.3" r="3.3" fill="#7873bd"/><circle cx="926.4" cy="160.8" r="2.9" fill="#7873bd"/><circle cx="946.4" cy="172.7" r="2.9" fill="#7873bd"/><circle cx="857.5" cy="179.9" r="3.3" fill="#7873bd"/><circle cx="863.2" cy="175.6" r="2.9" fill="#7873bd"/><circle cx="857.4" cy="179.9" r="3.4" fill="#7873bd"/><circle cx="862.7" cy="175.4" r="2.9" fill="#7873bd"/><circle cx="883.8" cy="187.5" r="3.9" fill="#7873bd"/><circle cx="892.4" cy="184.4" r="3.4" fill="#7873bd"/><circle cx="934.6" cy="188.4" r="3.4" fill="#7873bd"/><circle cx="946.3" cy="172.7" r="2.9" fill="#7873bd"/><circle cx="887.9" cy="196.9" r="4.8" fill="#7873bd"/><circle cx="892.4" cy="195.6" r="3.4" fill="#7873bd"/><circle cx="908.1" cy="197.8" r="6.8" fill="#7873bd"/><circle cx="920.2" cy="199.6" r="6.8" fill="#7873bd"/><circle cx="926.5" cy="199.6" r="5.3" fill="#7873bd"/><circle cx="932.8" cy="202.3" r="6.3" fill="#7873bd"/><circle cx="932.8" cy="202.3" r="2.9" fill="#7873bd"/><circle cx="940.9" cy="203.2" r="5.8" fill="#7873bd"/><circle cx="925.6" cy="208.6" r="2.9" fill="#7873bd"/><circle cx="832.2" cy="210.4" r="5.3" fill="#7873bd"/><circle cx="840.3" cy="205.9" r="5.8" fill="#7873bd"/><circle cx="843.9" cy="207.7" r="4.4" fill="#7873bd"/><circle cx="841.2" cy="212.2" r="3.4" fill="#7873bd"/><circle cx="878.0" cy="204.1" r="3.9" fill="#7873bd"/><circle cx="882.5" cy="203.7" r="2.9" fill="#7873bd"/><circle cx="887.9" cy="207.7" r="3.4" fill="#7873bd"/><circle cx="858.3" cy="218.5" r="2.9" fill="#7873bd"/><circle cx="869.0" cy="218.5" r="8.7" fill="#7873bd"/><circle cx="869.0" cy="218.5" r="4.1" fill="#7873bd"/><circle cx="877.1" cy="218.5" r="8.7" fill="#7873bd"/><circle cx="877.1" cy="218.5" r="4.2" fill="#7873bd"/><circle cx="884.3" cy="218.5" r="5.8" fill="#7873bd"/><circle cx="888.8" cy="218.5" r="4.8" fill="#7873bd"/><circle cx="888.8" cy="218.5" r="2.0" fill="#7873bd"/><circle cx="896.0" cy="218.5" r="5.3" fill="#7873bd"/><circle cx="896.0" cy="218.5" r="3.1" fill="#7873bd"/><circle cx="903.6" cy="218.5" r="5.8" fill="#7873bd"/><circle cx="910.8" cy="218.5" r="4.8" fill="#7873bd"/><circle cx="910.8" cy="218.5" r="2.7" fill="#7873bd"/><circle cx="919.3" cy="218.5" r="3.9" fill="#7873bd"/><circle cx="926.5" cy="218.5" r="5.3" fill="#7873bd"/><circle cx="926.5" cy="218.5" r="2.7" fill="#7873bd"/><circle cx="866.8" cy="226.6" r="3.9" fill="#7873bd"/><circle cx="874.4" cy="226.6" r="3.9" fill="#7873bd"/><circle cx="879.8" cy="229.3" r="3.4" fill="#7873bd"/><circle cx="884.3" cy="228.4" r="3.4" fill="#7873bd"/><circle cx="888.8" cy="229.3" r="3.4" fill="#7873bd"/><circle cx="833.1" cy="227.5" r="3.9" fill="#7873bd"/><circle cx="840.3" cy="230.2" r="4.4" fill="#7873bd"/><circle cx="850.2" cy="234.7" r="3.9" fill="#7873bd"/><circle cx="843.9" cy="245.4" r="10.7" fill="#7873bd"/><circle cx="843.9" cy="245.4" r="3.7" fill="#7873bd"/><circle cx="839.4" cy="240.9" r="3.9" fill="#7873bd"/><circle cx="829.5" cy="248.1" r="5.8" fill="#7873bd"/><circle cx="841.2" cy="254.4" r="3.4" fill="#7873bd"/><circle cx="867.2" cy="234.7" r="3.4" fill="#7873bd"/><circle cx="869.0" cy="242.7" r="5.8" fill="#7873bd"/><circle cx="869.0" cy="242.7" r="2.4" fill="#7873bd"/><circle cx="863.6" cy="240.0" r="3.4" fill="#7873bd"/><circle cx="863.6" cy="247.2" r="2.9" fill="#7873bd"/><circle cx="874.4" cy="236.5" r="3.9" fill="#7873bd"/><circle cx="878.0" cy="246.3" r="3.9" fill="#7873bd"/><circle cx="884.3" cy="239.2" r="3.9" fill="#7873bd"/><circle cx="909.4" cy="232.0" r="3.9" fill="#7873bd"/><circle cx="913.9" cy="228.4" r="3.9" fill="#7873bd"/><circle cx="898.7" cy="237.4" r="4.8" fill="#7873bd"/><circle cx="905.9" cy="238.3" r="3.4" fill="#7873bd"/><circle cx="920.2" cy="237.4" r="3.4" fill="#7873bd"/><circle cx="925.6" cy="234.7" r="2.9" fill="#7873bd"/><circle cx="926.5" cy="230.2" r="3.4" fill="#7873bd"/><circle cx="938.2" cy="229.3" r="5.8" fill="#7873bd"/><circle cx="934.6" cy="232.0" r="3.9" fill="#7873bd"/><circle cx="939.1" cy="240.0" r="3.4" fill="#7873bd"/><circle cx="942.7" cy="247.2" r="4.4" fill="#7873bd"/><circle cx="949.0" cy="238.3" r="3.4" fill="#7873bd"/><circle cx="898.7" cy="245.4" r="5.8" fill="#7873bd"/><circle cx="898.7" cy="245.4" r="3.4" fill="#7873bd"/><circle cx="900.5" cy="255.3" r="8.7" fill="#7873bd"/><circle cx="910.3" cy="253.5" r="5.8" fill="#7873bd"/><circle cx="921.1" cy="246.3" r="4.4" fill="#7873bd"/><circle cx="931.9" cy="249.0" r="3.4" fill="#7873bd"/><circle cx="863.6" cy="261.6" r="9.7" fill="#7873bd"/><circle cx="863.6" cy="261.6" r="5.7" fill="#7873bd"/><circle cx="887.9" cy="261.6" r="7.3" fill="#7873bd"/><circle cx="888.3" cy="252.6" r="3.9" fill="#7873bd"/><circle cx="877.6" cy="254.4" r="3.9" fill="#7873bd"/><circle cx="873.1" cy="258.0" r="2.9" fill="#7873bd"/><circle cx="896.9" cy="267.9" r="3.9" fill="#7873bd"/><circle cx="903.2" cy="270.6" r="4.8" fill="#7873bd"/><circle cx="913.9" cy="261.6" r="5.8" fill="#7873bd"/><circle cx="918.4" cy="258.0" r="3.9" fill="#7873bd"/><circle cx="926.5" cy="267.0" r="6.8" fill="#7873bd"/><circle cx="926.5" cy="267.0" r="3.0" fill="#7873bd"/><circle cx="931.0" cy="261.6" r="4.8" fill="#7873bd"/><circle cx="931.0" cy="261.6" r="1.9" fill="#7873bd"/><circle cx="938.2" cy="261.6" r="8.7" fill="#7873bd"/><circle cx="938.2" cy="261.6" r="3.7" fill="#7873bd"/><circle cx="947.2" cy="261.6" r="3.9" fill="#7873bd"/><circle cx="840.3" cy="265.2" r="4.8" fill="#7873bd"/><circle cx="852.9" cy="275.1" r="3.9" fill="#7873bd"/><circle cx="858.3" cy="273.3" r="4.4" fill="#7873bd"/><circle cx="880.7" cy="276.0" r="9.7" fill="#7873bd"/><circle cx="880.7" cy="276.0" r="5.0" fill="#7873bd"/><circle cx="876.2" cy="271.5" r="2.9" fill="#7873bd"/><circle cx="887.9" cy="282.3" r="4.4" fill="#7873bd"/><circle cx="896.9" cy="274.2" r="4.8" fill="#7873bd"/><circle cx="896.9" cy="274.2" r="2.1" fill="#7873bd"/><circle cx="903.2" cy="283.2" r="3.9" fill="#7873bd"/><circle cx="911.2" cy="277.8" r="4.4" fill="#7873bd"/><circle cx="906.7" cy="274.2" r="2.9" fill="#7873bd"/><circle cx="926.5" cy="283.2" r="8.7" fill="#7873bd"/><circle cx="930.1" cy="276.0" r="3.4" fill="#7873bd"/><circle cx="939.1" cy="283.2" r="3.4" fill="#7873bd"/><circle cx="936.4" cy="288.5" r="2.9" fill="#7873bd"/><circle cx="827.7" cy="282.3" r="5.8" fill="#7873bd"/><circle cx="837.6" cy="282.3" r="5.3" fill="#7873bd"/><circle cx="837.6" cy="282.3" r="2.5" fill="#7873bd"/><circle cx="829.5" cy="290.3" r="4.8" fill="#7873bd"/><circle cx="831.3" cy="295.7" r="7.8" fill="#7873bd"/><circle cx="831.3" cy="295.7" r="4.6" fill="#7873bd"/><circle cx="825.9" cy="295.7" r="5.8" fill="#7873bd"/><circle cx="825.9" cy="295.7" r="3.1" fill="#7873bd"/><circle cx="833.1" cy="302.0" r="3.9" fill="#7873bd"/><circle cx="843.0" cy="295.7" r="4.8" fill="#7873bd"/><circle cx="850.2" cy="293.9" r="3.4" fill="#7873bd"/><circle cx="841.2" cy="302.9" r="3.9" fill="#7873bd"/><circle cx="848.4" cy="284.1" r="3.4" fill="#7873bd"/><circle cx="846.6" cy="285.9" r="2.9" fill="#7873bd"/><circle cx="878.0" cy="292.1" r="3.9" fill="#7873bd"/><circle cx="887.9" cy="295.7" r="5.8" fill="#7873bd"/><circle cx="887.9" cy="295.7" r="3.2" fill="#7873bd"/><circle cx="888.8" cy="302.9" r="5.8" fill="#7873bd"/><circle cx="888.8" cy="302.9" r="2.9" fill="#7873bd"/><circle cx="888.3" cy="310.1" r="4.8" fill="#7873bd"/><circle cx="888.3" cy="310.1" r="1.8" fill="#7873bd"/><circle cx="898.7" cy="312.8" r="3.9" fill="#7873bd"/><circle cx="862.7" cy="297.5" r="3.4" fill="#7873bd"/><circle cx="867.2" cy="301.1" r="4.4" fill="#7873bd"/><circle cx="872.6" cy="307.4" r="4.8" fill="#7873bd"/><circle cx="872.6" cy="307.4" r="2.9" fill="#7873bd"/><circle cx="913.9" cy="304.7" r="8.7" fill="#7873bd"/><circle cx="913.9" cy="304.7" r="4.7" fill="#7873bd"/><circle cx="913.9" cy="297.5" r="3.9" fill="#7873bd"/><circle cx="913.9" cy="293.9" r="2.9" fill="#7873bd"/><circle cx="931.9" cy="300.2" r="5.3" fill="#7873bd"/><circle cx="933.7" cy="293.9" r="3.9" fill="#7873bd"/><circle cx="858.3" cy="313.7" r="8.7" fill="#7873bd"/><circle cx="867.2" cy="315.5" r="5.8" fill="#7873bd"/><circle cx="867.2" cy="315.5" r="2.6" fill="#7873bd"/><circle cx="872.6" cy="317.3" r="5.8" fill="#7873bd"/><circle cx="844.8" cy="315.5" r="3.4" fill="#7873bd"/><circle cx="1007.4" cy="160.8" r="8.2" fill="#e7298a"/><circle cx="993.8" cy="180.2" r="4.4" fill="#e7298a"/><circle cx="988.9" cy="186.5" r="3.4" fill="#e7298a"/><circle cx="998.6" cy="192.3" r="3.9" fill="#e7298a"/><circle cx="1004.5" cy="196.7" r="3.4" fill="#e7298a"/><circle cx="954.5" cy="194.3" r="4.4" fill="#e7298a"/><circle cx="963.7" cy="194.3" r="2.9" fill="#e7298a"/><circle cx="985.6" cy="200.6" r="3.4" fill="#e7298a"/><circle cx="993.8" cy="205.9" r="3.9" fill="#e7298a"/><circle cx="1014.6" cy="207.8" r="3.4" fill="#e7298a"/><circle cx="955.0" cy="205.9" r="5.8" fill="#e7298a"/><circle cx="955.0" cy="205.9" r="3.1" fill="#e7298a"/><circle cx="964.2" cy="206.9" r="3.9" fill="#e7298a"/><circle cx="968.1" cy="207.8" r="4.4" fill="#e7298a"/><circle cx="980.7" cy="211.7" r="2.9" fill="#e7298a"/><circle cx="952.6" cy="219.0" r="2.9" fill="#e7298a"/><circle cx="955.5" cy="219.0" r="2.4" fill="#e7298a"/><circle cx="982.6" cy="219.0" r="2.9" fill="#e7298a"/><circle cx="990.4" cy="219.0" r="3.4" fill="#e7298a"/><circle cx="998.2" cy="219.0" r="3.4" fill="#e7298a"/><circle cx="1004.0" cy="219.0" r="3.4" fill="#e7298a"/><circle cx="1008.8" cy="219.0" r="3.4" fill="#e7298a"/><circle cx="954.5" cy="231.1" r="2.4" fill="#e7298a"/><circle cx="957.9" cy="234.0" r="3.4" fill="#e7298a"/><circle cx="977.8" cy="235.9" r="8.2" fill="#e7298a"/><circle cx="982.6" cy="242.7" r="2.9" fill="#e7298a"/><circle cx="1002.0" cy="235.0" r="2.9" fill="#e7298a"/><circle cx="963.7" cy="239.8" r="3.4" fill="#e7298a"/><circle cx="957.0" cy="244.7" r="2.4" fill="#e7298a"/><circle cx="963.7" cy="249.5" r="6.8" fill="#e7298a"/><circle cx="970.0" cy="254.4" r="4.4" fill="#e7298a"/><circle cx="963.7" cy="262.1" r="7.8" fill="#e7298a"/><circle cx="963.7" cy="262.1" r="4.5" fill="#e7298a"/><circle cx="974.9" cy="260.2" r="2.9" fill="#e7298a"/><circle cx="1001.1" cy="250.5" r="6.8" fill="#e7298a"/><circle cx="1001.1" cy="250.5" r="3.0" fill="#e7298a"/><circle cx="1006.9" cy="246.6" r="2.9" fill="#e7298a"/><circle cx="993.8" cy="258.2" r="5.3" fill="#e7298a"/><circle cx="1014.6" cy="262.1" r="8.7" fill="#e7298a"/><circle cx="1039.8" cy="250.5" r="5.8" fill="#e7298a"/><circle cx="1039.8" cy="250.5" r="3.4" fill="#e7298a"/><circle cx="1039.8" cy="267.0" r="8.7" fill="#e7298a"/><circle cx="1030.1" cy="268.9" r="2.4" fill="#e7298a"/><circle cx="951.1" cy="268.9" r="3.4" fill="#e7298a"/><circle cx="958.4" cy="274.2" r="2.9" fill="#e7298a"/><circle cx="974.9" cy="274.2" r="2.4" fill="#e7298a"/><circle cx="982.6" cy="267.9" r="3.4" fill="#e7298a"/><circle cx="984.6" cy="272.8" r="3.9" fill="#e7298a"/><circle cx="964.2" cy="283.0" r="4.4" fill="#e7298a"/><circle cx="977.8" cy="289.3" r="3.9" fill="#e7298a"/><circle cx="993.8" cy="282.5" r="5.8" fill="#e7298a"/><circle cx="993.8" cy="282.5" r="2.5" fill="#e7298a"/><circle cx="1002.0" cy="283.4" r="3.9" fill="#e7298a"/><circle cx="994.3" cy="296.0" r="6.8" fill="#e7298a"/><circle cx="994.3" cy="296.0" r="2.5" fill="#e7298a"/><circle cx="1020.4" cy="283.0" r="2.9" fill="#e7298a"/><circle cx="1019.0" cy="289.3" r="2.9" fill="#e7298a"/><circle cx="988.9" cy="304.8" r="2.4" fill="#e7298a"/><circle cx="1000.1" cy="309.6" r="4.4" fill="#e7298a"/><circle cx="1002.0" cy="315.4" r="3.9" fill="#e7298a"/><circle cx="1028.7" cy="310.6" r="3.4" fill="#e7298a"/><circle cx="963.7" cy="315.4" r="7.8" fill="#e7298a"/><circle cx="963.7" cy="315.4" r="4.0" fill="#e7298a"/><circle cx="982.6" cy="315.4" r="5.8" fill="#e7298a"/><circle cx="1057.3" cy="204.0" r="3.9" fill="#e7298a"/><circle cx="1061.1" cy="201.1" r="3.4" fill="#e7298a"/><circle cx="1039.8" cy="160.4" r="1.7" fill="#5a1a3a"/><circle cx="1039.8" cy="315.4" r="1.7" fill="#5a1a3a"/><circle cx="1067.0" cy="197.2" r="3.9" fill="#1b9e77"/><circle cx="1072.3" cy="190.9" r="5.3" fill="#1b9e77"/><circle cx="1072.3" cy="190.9" r="1.9" fill="#1b9e77"/><circle cx="1108.3" cy="314.8" r="5.5" fill="#1b9e77"/><circle cx="893.3" cy="322.1" r="3.6" fill="#df6509"/><circle cx="903.2" cy="322.1" r="3.6" fill="#df6509"/><circle cx="913.5" cy="326.2" r="2.7" fill="#df6509"/><circle cx="938.2" cy="325.7" r="3.1" fill="#df6509"/><circle cx="897.8" cy="339.6" r="2.7" fill="#df6509"/><circle cx="891.5" cy="353.1" r="4.9" fill="#df6509"/><circle cx="925.6" cy="347.7" r="7.2" fill="#df6509"/><circle cx="925.6" cy="347.7" r="2.9" fill="#df6509"/><circle cx="939.1" cy="347.7" r="4.0" fill="#df6509"/><circle cx="951.7" cy="336.9" r="8.1" fill="#df6509"/><circle cx="946.3" cy="332.5" r="3.1" fill="#df6509"/><circle cx="877.1" cy="363.9" r="2.7" fill="#df6509"/><circle cx="925.6" cy="363.9" r="8.5" fill="#df6509"/><circle cx="956.1" cy="359.4" r="4.0" fill="#df6509"/><circle cx="950.8" cy="368.4" r="3.6" fill="#df6509"/><circle cx="880.7" cy="372.9" r="3.1" fill="#df6509"/><circle cx="889.7" cy="380.0" r="4.9" fill="#df6509"/><circle cx="884.3" cy="381.8" r="5.8" fill="#df6509"/><circle cx="884.3" cy="381.8" r="2.1" fill="#df6509"/><circle cx="911.7" cy="375.6" r="3.1" fill="#df6509"/><circle cx="936.4" cy="376.5" r="2.7" fill="#df6509"/><circle cx="931.9" cy="381.8" r="2.7" fill="#df6509"/><circle cx="944.5" cy="380.9" r="4.5" fill="#df6509"/><circle cx="950.8" cy="372.9" r="2.7" fill="#df6509"/><circle cx="925.6" cy="391.7" r="7.2" fill="#df6509"/><circle cx="931.9" cy="401.6" r="7.2" fill="#df6509"/><circle cx="931.9" cy="401.6" r="3.4" fill="#df6509"/><circle cx="948.1" cy="392.6" r="7.2" fill="#df6509"/><circle cx="957.9" cy="392.6" r="2.7" fill="#df6509"/><circle cx="884.3" cy="401.6" r="5.4" fill="#df6509"/><circle cx="884.3" cy="401.6" r="2.9" fill="#df6509"/><circle cx="908.1" cy="401.6" r="2.7" fill="#df6509"/><circle cx="903.2" cy="411.9" r="6.3" fill="#df6509"/><circle cx="919.3" cy="423.6" r="3.6" fill="#df6509"/><circle cx="958.8" cy="411.5" r="3.6" fill="#df6509"/><circle cx="897.8" cy="449.2" r="3.1" fill="#df6509"/><circle cx="952.6" cy="337.8" r="8.5" fill="#df6509"/><circle cx="946.3" cy="332.5" r="3.6" fill="#df6509"/><circle cx="963.8" cy="326.6" r="3.1" fill="#df6509"/><circle cx="963.8" cy="347.7" r="3.1" fill="#df6509"/><circle cx="975.9" cy="342.3" r="6.3" fill="#df6509"/><circle cx="987.6" cy="337.8" r="4.9" fill="#df6509"/><circle cx="987.6" cy="337.8" r="2.3" fill="#df6509"/><circle cx="994.8" cy="334.7" r="5.8" fill="#df6509"/><circle cx="994.8" cy="334.7" r="3.3" fill="#df6509"/><circle cx="1016.8" cy="334.7" r="2.7" fill="#df6509"/><circle cx="1014.5" cy="347.7" r="6.7" fill="#df6509"/><circle cx="1014.5" cy="347.7" r="3.1" fill="#df6509"/><circle cx="1012.3" cy="358.0" r="3.1" fill="#df6509"/><circle cx="977.7" cy="359.4" r="9.0" fill="#df6509"/><circle cx="957.1" cy="359.4" r="4.5" fill="#df6509"/><circle cx="951.7" cy="367.5" r="3.1" fill="#df6509"/><circle cx="949.0" cy="372.9" r="5.4" fill="#df6509"/><circle cx="944.5" cy="380.9" r="4.5" fill="#df6509"/><circle cx="948.5" cy="393.1" r="8.1" fill="#df6509"/><circle cx="964.2" cy="391.3" r="7.2" fill="#df6509"/><circle cx="990.3" cy="387.2" r="3.6" fill="#df6509"/><circle cx="1039.7" cy="392.6" r="7.2" fill="#df6509"/><circle cx="963.8" cy="411.9" r="8.1" fill="#df6509"/><circle cx="994.3" cy="425.4" r="7.2" fill="#df6509"/><circle cx="1072.0" cy="329.3" r="7.2" fill="#df6509"/><circle cx="1072.0" cy="329.3" r="3.2" fill="#df6509"/><circle cx="1085.0" cy="322.1" r="6.7" fill="#df6509"/><circle cx="1085.0" cy="322.1" r="3.0" fill="#df6509"/><circle cx="831.3" cy="322.6" r="2.7" fill="#e6ab02"/><circle cx="861.8" cy="329.8" r="6.3" fill="#e6ab02"/><circle cx="858.3" cy="339.6" r="4.0" fill="#e6ab02"/><circle cx="853.8" cy="342.3" r="3.1" fill="#e6ab02"/><circle cx="861.8" cy="354.9" r="3.6" fill="#e6ab02"/><circle cx="866.3" cy="358.5" r="2.2" fill="#e6ab02"/><circle cx="860.9" cy="380.0" r="2.7" fill="#e6ab02"/><circle cx="860.0" cy="398.9" r="3.1" fill="#e6ab02"/><circle cx="861.8" cy="421.4" r="3.6" fill="#e6ab02"/><circle cx="812.5" cy="322.6" r="1.8" fill="#a6761d"/><circle cx="812.5" cy="339.6" r="2.2" fill="#a6761d"/><circle cx="812.5" cy="411.9" r="2.2" fill="#a6761d"/><circle cx="812.5" cy="115.4" r="9.0" fill="#66a61e"/><circle cx="812.5" cy="130.7" r="3.3" fill="#66a61e"/><circle cx="812.5" cy="194.1" r="3.2" fill="#66a61e"/><circle cx="812.5" cy="298.4" r="5.0" fill="#66a61e"/><circle cx="812.5" cy="322.7" r="2.2" fill="#66a61e"/><circle cx="913.6" cy="110.9" r="3.3" fill="#66a61e"/><circle cx="984.5" cy="126.3" r="4.6" fill="#66a61e"/></g>
<rect x="812.5" y="122.0" width="136.3" height="193.0" fill="none" stroke="#000" stroke-width="2.3"/>
<rect x="948.8" y="160.6" width="113.6" height="154.4" fill="none" stroke="#000" stroke-width="2.3"/>
<rect x="1062.4" y="179.9" width="68.1" height="135.1" fill="none" stroke="#000" stroke-width="2.3"/>
<rect x="1130.5" y="179.9" width="159.0" height="135.1" fill="none" stroke="#000" stroke-width="2.3"/>
<rect x="812.5" y="315.0" width="56.8" height="135.1" fill="none" stroke="#000" stroke-width="2.3"/>
<rect x="869.3" y="315.0" width="238.5" height="135.1" fill="none" stroke="#000" stroke-width="2.3"/>
<rect x="1107.8" y="315.0" width="204.4" height="135.1" fill="none" stroke="#000" stroke-width="2.3"/>
<rect x="812.5" y="450.1" width="431.6" height="115.8" fill="none" stroke="#000" stroke-width="2.3"/>
<text x="880.8" y="139.0" font-size="20.2" text-anchor="middle" font-weight="bold" fill="#000">Lipid</text>
<text x="1005.6" y="177.3" font-size="20.2" text-anchor="middle" font-weight="bold" fill="#000">Protein</text>
<text x="1210.3" y="254.7" font-size="20.2" text-anchor="middle" font-weight="bold" fill="#000">Carbohydrate</text>
<text x="1104.4" y="247.2" font-size="20.2" text-anchor="middle" font-weight="bold" fill="#000" transform="rotate(-90 1104.4 247.2)">AminoSugar</text>
<text x="834.0" y="382.8" font-size="20.2" text-anchor="middle" font-weight="bold" fill="#000" transform="rotate(-90 834.0 382.8)">Unsaturated</text>
<text x="863.6" y="382.8" font-size="20.2" text-anchor="middle" font-weight="bold" fill="#000" transform="rotate(-90 863.6 382.8)">Hydrocarbon</text>
<text x="988.6" y="390.4" font-size="20.2" text-anchor="middle" font-weight="bold" fill="#000">Lignin</text>
<text x="1210.0" y="390.2" font-size="20.2" text-anchor="middle" font-weight="bold" fill="#000">Tannin</text>
<text x="1028.5" y="516.0" font-size="20.2" text-anchor="middle" font-weight="bold" fill="#000">Condensed Hydrocarbon</text>
<text x="1255.5" y="486.0" font-size="20.3" text-anchor="start" fill="#000">Frequency</text>
<circle cx="1265.5" cy="508.9" r="6.0" fill="none" stroke="#333" stroke-width="0.6"/>
<text x="1287.4" y="516.1" font-size="20.3" text-anchor="start" fill="#000">200</text>
<circle cx="1265.5" cy="528.4" r="7.4" fill="none" stroke="#333" stroke-width="0.6"/>
<text x="1287.4" y="535.6" font-size="20.3" text-anchor="start" fill="#000">400</text>
<circle cx="1265.5" cy="549.0" r="8.7" fill="none" stroke="#333" stroke-width="0.6"/>
<text x="1287.4" y="556.5" font-size="20.3" text-anchor="start" fill="#000">600</text>
<line x1="786.5" y1="87.6" x2="786.5" y2="591.8" stroke="#000" stroke-width="4"/>
<line x1="784.5" y1="589.9" x2="1360.2" y2="589.9" stroke="#000" stroke-width="4"/>
<line x1="775.2" y1="122.0" x2="784.5" y2="122.0" stroke="#333333" stroke-width="3.8"/>
<text x="764.7" y="129.2" font-size="20.2" text-anchor="end" fill="#4d4d4d">2.5</text>
<line x1="775.2" y1="218.5" x2="784.5" y2="218.5" stroke="#333333" stroke-width="3.8"/>
<text x="764.7" y="225.7" font-size="20.2" text-anchor="end" fill="#4d4d4d">2.0</text>
<line x1="775.2" y1="315.0" x2="784.5" y2="315.0" stroke="#333333" stroke-width="3.8"/>
<text x="764.7" y="322.2" font-size="20.2" text-anchor="end" fill="#4d4d4d">1.5</text>
<line x1="775.2" y1="411.5" x2="784.5" y2="411.5" stroke="#333333" stroke-width="3.8"/>
<text x="764.7" y="418.7" font-size="20.2" text-anchor="end" fill="#4d4d4d">1.0</text>
<line x1="775.2" y1="508.0" x2="784.5" y2="508.0" stroke="#333333" stroke-width="3.8"/>
<text x="764.7" y="515.2" font-size="20.2" text-anchor="end" fill="#4d4d4d">0.5</text>
<line x1="812.5" y1="591.9" x2="812.5" y2="601.0" stroke="#333333" stroke-width="3.8"/>
<text x="812.5" y="624.6" font-size="20.2" text-anchor="middle" fill="#4d4d4d">0.0</text>
<line x1="948.8" y1="591.9" x2="948.8" y2="601.0" stroke="#333333" stroke-width="3.8"/>
<text x="948.8" y="624.6" font-size="20.2" text-anchor="middle" fill="#4d4d4d">0.3</text>
<line x1="1085.1" y1="591.9" x2="1085.1" y2="601.0" stroke="#333333" stroke-width="3.8"/>
<text x="1085.1" y="624.6" font-size="20.2" text-anchor="middle" fill="#4d4d4d">0.6</text>
<line x1="1221.4" y1="591.9" x2="1221.4" y2="601.0" stroke="#333333" stroke-width="3.8"/>
<text x="1221.4" y="624.6" font-size="20.2" text-anchor="middle" fill="#4d4d4d">0.9</text>
<line x1="1357.7" y1="591.9" x2="1357.7" y2="601.0" stroke="#333333" stroke-width="3.8"/>
<text x="1357.7" y="624.6" font-size="20.2" text-anchor="middle" fill="#4d4d4d">1.2</text>
<text x="1074.4" y="661.5" font-size="29" text-anchor="middle" fill="#000">O/C Ratio</text>
<text x="720.6" y="338.5" font-size="29" text-anchor="middle" fill="#000" transform="rotate(-90 720.6 338.5)">H/C Ratio</text>
</g>
<g transform="translate(0,696)">
<text x="1074.4" y="45.5" font-size="29" text-anchor="middle" fill="#000">Van Krevelen Classification</text>
<text x="1074.4" y="76.5" font-size="29" text-anchor="middle" fill="#000">Soil Metabolites</text>
<g stroke="#000" stroke-width="0.85"><circle cx="920.7" cy="135.6" r="6.7" fill="#7873bd"/><circle cx="931.2" cy="142.8" r="6.2" fill="#7873bd"/><circle cx="869.4" cy="146.1" r="3.3" fill="#7873bd"/><circle cx="858.0" cy="160.8" r="2.9" fill="#7873bd"/><circle cx="919.8" cy="161.3" r="3.3" fill="#7873bd"/><circle cx="926.4" cy="160.8" r="2.9" fill="#7873bd"/><circle cx="946.4" cy="172.7" r="2.9" fill="#7873bd"/><circle cx="857.5" cy="179.9" r="3.3" fill="#7873bd"/><circle cx="863.2" cy="175.6" r="2.9" fill="#7873bd"/><circle cx="857.4" cy="179.9" r="3.4" fill="#7873bd"/><circle cx="862.7" cy="175.4" r="2.9" fill="#7873bd"/><circle cx="883.8" cy="187.5" r="3.9" fill="#7873bd"/><circle cx="892.4" cy="184.4" r="3.4" fill="#7873bd"/><circle cx="934.6" cy="188.4" r="3.4" fill="#7873bd"/><circle cx="946.3" cy="172.7" r="2.9" fill="#7873bd"/><circle cx="887.9" cy="196.9" r="4.8" fill="#7873bd"/><circle cx="892.4" cy="195.6" r="3.4" fill="#7873bd"/><circle cx="908.1" cy="197.8" r="6.8" fill="#7873bd"/><circle cx="920.2" cy="199.6" r="6.8" fill="#7873bd"/><circle cx="926.5" cy="199.6" r="5.3" fill="#7873bd"/><circle cx="932.8" cy="202.3" r="6.3" fill="#7873bd"/><circle cx="932.8" cy="202.3" r="2.9" fill="#7873bd"/><circle cx="940.9" cy="203.2" r="5.8" fill="#7873bd"/><circle cx="925.6" cy="208.6" r="2.9" fill="#7873bd"/><circle cx="832.2" cy="210.4" r="5.3" fill="#7873bd"/><circle cx="840.3" cy="205.9" r="5.8" fill="#7873bd"/><circle cx="843.9" cy="207.7" r="4.4" fill="#7873bd"/><circle cx="841.2" cy="212.2" r="3.4" fill="#7873bd"/><circle cx="878.0" cy="204.1" r="3.9" fill="#7873bd"/><circle cx="882.5" cy="203.7" r="2.9" fill="#7873bd"/><circle cx="887.9" cy="207.7" r="3.4" fill="#7873bd"/><circle cx="858.3" cy="218.5" r="2.9" fill="#7873bd"/><circle cx="869.0" cy="218.5" r="8.7" fill="#7873bd"/><circle cx="869.0" cy="218.5" r="4.1" fill="#7873bd"/><circle cx="877.1" cy="218.5" r="8.7" fill="#7873bd"/><circle cx="877.1" cy="218.5" r="4.2" fill="#7873bd"/><circle cx="884.3" cy="218.5" r="5.8" fill="#7873bd"/><circle cx="888.8" cy="218.5" r="4.8" fill="#7873bd"/><circle cx="888.8" cy="218.5" r="2.0" fill="#7873bd"/><circle cx="896.0" cy="218.5" r="5.3" fill="#7873bd"/><circle cx="896.0" cy="218.5" r="3.1" fill="#7873bd"/><circle cx="903.6" cy="218.5" r="5.8" fill="#7873bd"/><circle cx="910.8" cy="218.5" r="4.8" fill="#7873bd"/><circle cx="910.8" cy="218.5" r="2.7" fill="#7873bd"/><circle cx="919.3" cy="218.5" r="3.9" fill="#7873bd"/><circle cx="926.5" cy="218.5" r="5.3" fill="#7873bd"/><circle cx="926.5" cy="218.5" r="2.7" fill="#7873bd"/><circle cx="866.8" cy="226.6" r="3.9" fill="#7873bd"/><circle cx="874.4" cy="226.6" r="3.9" fill="#7873bd"/><circle cx="879.8" cy="229.3" r="3.4" fill="#7873bd"/><circle cx="884.3" cy="228.4" r="3.4" fill="#7873bd"/><circle cx="888.8" cy="229.3" r="3.4" fill="#7873bd"/><circle cx="833.1" cy="227.5" r="3.9" fill="#7873bd"/><circle cx="840.3" cy="230.2" r="4.4" fill="#7873bd"/><circle cx="850.2" cy="234.7" r="3.9" fill="#7873bd"/><circle cx="843.9" cy="245.4" r="10.7" fill="#7873bd"/><circle cx="843.9" cy="245.4" r="3.7" fill="#7873bd"/><circle cx="839.4" cy="240.9" r="3.9" fill="#7873bd"/><circle cx="829.5" cy="248.1" r="5.8" fill="#7873bd"/><circle cx="841.2" cy="254.4" r="3.4" fill="#7873bd"/><circle cx="867.2" cy="234.7" r="3.4" fill="#7873bd"/><circle cx="869.0" cy="242.7" r="5.8" fill="#7873bd"/><circle cx="869.0" cy="242.7" r="2.4" fill="#7873bd"/><circle cx="863.6" cy="240.0" r="3.4" fill="#7873bd"/><circle cx="863.6" cy="247.2" r="2.9" fill="#7873bd"/><circle cx="874.4" cy="236.5" r="3.9" fill="#7873bd"/><circle cx="878.0" cy="246.3" r="3.9" fill="#7873bd"/><circle cx="884.3" cy="239.2" r="3.9" fill="#7873bd"/><circle cx="909.4" cy="232.0" r="3.9" fill="#7873bd"/><circle cx="913.9" cy="228.4" r="3.9" fill="#7873bd"/><circle cx="898.7" cy="237.4" r="4.8" fill="#7873bd"/><circle cx="905.9" cy="238.3" r="3.4" fill="#7873bd"/><circle cx="920.2" cy="237.4" r="3.4" fill="#7873bd"/><circle cx="925.6" cy="234.7" r="2.9" fill="#7873bd"/><circle cx="926.5" cy="230.2" r="3.4" fill="#7873bd"/><circle cx="938.2" cy="229.3" r="5.8" fill="#7873bd"/><circle cx="934.6" cy="232.0" r="3.9" fill="#7873bd"/><circle cx="939.1" cy="240.0" r="3.4" fill="#7873bd"/><circle cx="942.7" cy="247.2" r="4.4" fill="#7873bd"/><circle cx="949.0" cy="238.3" r="3.4" fill="#7873bd"/><circle cx="898.7" cy="245.4" r="5.8" fill="#7873bd"/><circle cx="898.7" cy="245.4" r="3.4" fill="#7873bd"/><circle cx="900.5" cy="255.3" r="8.7" fill="#7873bd"/><circle cx="910.3" cy="253.5" r="5.8" fill="#7873bd"/><circle cx="921.1" cy="246.3" r="4.4" fill="#7873bd"/><circle cx="931.9" cy="249.0" r="3.4" fill="#7873bd"/><circle cx="863.6" cy="261.6" r="9.7" fill="#7873bd"/><circle cx="863.6" cy="261.6" r="5.7" fill="#7873bd"/><circle cx="887.9" cy="261.6" r="7.3" fill="#7873bd"/><circle cx="888.3" cy="252.6" r="3.9" fill="#7873bd"/><circle cx="877.6" cy="254.4" r="3.9" fill="#7873bd"/><circle cx="873.1" cy="258.0" r="2.9" fill="#7873bd"/><circle cx="896.9" cy="267.9" r="3.9" fill="#7873bd"/><circle cx="903.2" cy="270.6" r="4.8" fill="#7873bd"/><circle cx="913.9" cy="261.6" r="5.8" fill="#7873bd"/><circle cx="918.4" cy="258.0" r="3.9" fill="#7873bd"/><circle cx="926.5" cy="267.0" r="6.8" fill="#7873bd"/><circle cx="926.5" cy="267.0" r="3.0" fill="#7873bd"/><circle cx="931.0" cy="261.6" r="4.8" fill="#7873bd"/><circle cx="931.0" cy="261.6" r="1.9" fill="#7873bd"/><circle cx="938.2" cy="261.6" r="8.7" fill="#7873bd"/><circle cx="938.2" cy="261.6" r="3.7" fill="#7873bd"/><circle cx="947.2" cy="261.6" r="3.9" fill="#7873bd"/><circle cx="840.3" cy="265.2" r="4.8" fill="#7873bd"/><circle cx="852.9" cy="275.1" r="3.9" fill="#7873bd"/><circle cx="858.3" cy="273.3" r="4.4" fill="#7873bd"/><circle cx="880.7" cy="276.0" r="9.7" fill="#7873bd"/><circle cx="880.7" cy="276.0" r="5.0" fill="#7873bd"/><circle cx="876.2" cy="271.5" r="2.9" fill="#7873bd"/><circle cx="887.9" cy="282.3" r="4.4" fill="#7873bd"/><circle cx="896.9" cy="274.2" r="4.8" fill="#7873bd"/><circle cx="896.9" cy="274.2" r="2.1" fill="#7873bd"/><circle cx="903.2" cy="283.2" r="3.9" fill="#7873bd"/><circle cx="911.2" cy="277.8" r="4.4" fill="#7873bd"/><circle cx="906.7" cy="274.2" r="2.9" fill="#7873bd"/><circle cx="926.5" cy="283.2" r="8.7" fill="#7873bd"/><circle cx="930.1" cy="276.0" r="3.4" fill="#7873bd"/><circle cx="939.1" cy="283.2" r="3.4" fill="#7873bd"/><circle cx="936.4" cy="288.5" r="2.9" fill="#7873bd"/><circle cx="827.7" cy="282.3" r="5.8" fill="#7873bd"/><circle cx="837.6" cy="282.3" r="5.3" fill="#7873bd"/><circle cx="837.6" cy="282.3" r="2.5" fill="#7873bd"/><circle cx="829.5" cy="290.3" r="4.8" fill="#7873bd"/><circle cx="831.3" cy="295.7" r="7.8" fill="#7873bd"/><circle cx="831.3" cy="295.7" r="4.6" fill="#7873bd"/><circle cx="825.9" cy="295.7" r="5.8" fill="#7873bd"/><circle cx="825.9" cy="295.7" r="3.1" fill="#7873bd"/><circle cx="833.1" cy="302.0" r="3.9" fill="#7873bd"/><circle cx="843.0" cy="295.7" r="4.8" fill="#7873bd"/><circle cx="850.2" cy="293.9" r="3.4" fill="#7873bd"/><circle cx="841.2" cy="302.9" r="3.9" fill="#7873bd"/><circle cx="848.4" cy="284.1" r="3.4" fill="#7873bd"/><circle cx="846.6" cy="285.9" r="2.9" fill="#7873bd"/><circle cx="878.0" cy="292.1" r="3.9" fill="#7873bd"/><circle cx="887.9" cy="295.7" r="5.8" fill="#7873bd"/><circle cx="887.9" cy="295.7" r="3.2" fill="#7873bd"/><circle cx="888.8" cy="302.9" r="5.8" fill="#7873bd"/><circle cx="888.8" cy="302.9" r="2.9" fill="#7873bd"/><circle cx="888.3" cy="310.1" r="4.8" fill="#7873bd"/><circle cx="888.3" cy="310.1" r="1.8" fill="#7873bd"/><circle cx="898.7" cy="312.8" r="3.9" fill="#7873bd"/><circle cx="862.7" cy="297.5" r="3.4" fill="#7873bd"/><circle cx="867.2" cy="301.1" r="4.4" fill="#7873bd"/><circle cx="872.6" cy="307.4" r="4.8" fill="#7873bd"/><circle cx="872.6" cy="307.4" r="2.9" fill="#7873bd"/><circle cx="913.9" cy="304.7" r="8.7" fill="#7873bd"/><circle cx="913.9" cy="304.7" r="4.7" fill="#7873bd"/><circle cx="913.9" cy="297.5" r="3.9" fill="#7873bd"/><circle cx="913.9" cy="293.9" r="2.9" fill="#7873bd"/><circle cx="931.9" cy="300.2" r="5.3" fill="#7873bd"/><circle cx="933.7" cy="293.9" r="3.9" fill="#7873bd"/><circle cx="858.3" cy="313.7" r="8.7" fill="#7873bd"/><circle cx="867.2" cy="315.5" r="5.8" fill="#7873bd"/><circle cx="867.2" cy="315.5" r="2.6" fill="#7873bd"/><circle cx="872.6" cy="317.3" r="5.8" fill="#7873bd"/><circle cx="844.8" cy="315.5" r="3.4" fill="#7873bd"/><circle cx="1007.4" cy="160.8" r="8.2" fill="#e7298a"/><circle cx="993.8" cy="180.2" r="4.4" fill="#e7298a"/><circle cx="988.9" cy="186.5" r="3.4" fill="#e7298a"/><circle cx="998.6" cy="192.3" r="3.9" fill="#e7298a"/><circle cx="1004.5" cy="196.7" r="3.4" fill="#e7298a"/><circle cx="954.5" cy="194.3" r="4.4" fill="#e7298a"/><circle cx="963.7" cy="194.3" r="2.9" fill="#e7298a"/><circle cx="985.6" cy="200.6" r="3.4" fill="#e7298a"/><circle cx="993.8" cy="205.9" r="3.9" fill="#e7298a"/><circle cx="1014.6" cy="207.8" r="3.4" fill="#e7298a"/><circle cx="955.0" cy="205.9" r="5.8" fill="#e7298a"/><circle cx="955.0" cy="205.9" r="3.1" fill="#e7298a"/><circle cx="964.2" cy="206.9" r="3.9" fill="#e7298a"/><circle cx="968.1" cy="207.8" r="4.4" fill="#e7298a"/><circle cx="980.7" cy="211.7" r="2.9" fill="#e7298a"/><circle cx="952.6" cy="219.0" r="2.9" fill="#e7298a"/><circle cx="955.5" cy="219.0" r="2.4" fill="#e7298a"/><circle cx="982.6" cy="219.0" r="2.9" fill="#e7298a"/><circle cx="990.4" cy="219.0" r="3.4" fill="#e7298a"/><circle cx="998.2" cy="219.0" r="3.4" fill="#e7298a"/><circle cx="1004.0" cy="219.0" r="3.4" fill="#e7298a"/><circle cx="1008.8" cy="219.0" r="3.4" fill="#e7298a"/><circle cx="954.5" cy="231.1" r="2.4" fill="#e7298a"/><circle cx="957.9" cy="234.0" r="3.4" fill="#e7298a"/><circle cx="977.8" cy="235.9" r="8.2" fill="#e7298a"/><circle cx="982.6" cy="242.7" r="2.9" fill="#e7298a"/><circle cx="1002.0" cy="235.0" r="2.9" fill="#e7298a"/><circle cx="963.7" cy="239.8" r="3.4" fill="#e7298a"/><circle cx="957.0" cy="244.7" r="2.4" fill="#e7298a"/><circle cx="963.7" cy="249.5" r="6.8" fill="#e7298a"/><circle cx="970.0" cy="254.4" r="4.4" fill="#e7298a"/><circle cx="963.7" cy="262.1" r="7.8" fill="#e7298a"/><circle cx="963.7" cy="262.1" r="4.5" fill="#e7298a"/><circle cx="974.9" cy="260.2" r="2.9" fill="#e7298a"/><circle cx="1001.1" cy="250.5" r="6.8" fill="#e7298a"/><circle cx="1001.1" cy="250.5" r="3.0" fill="#e7298a"/><circle cx="1006.9" cy="246.6" r="2.9" fill="#e7298a"/><circle cx="993.8" cy="258.2" r="5.3" fill="#e7298a"/><circle cx="1014.6" cy="262.1" r="8.7" fill="#e7298a"/><circle cx="1039.8" cy="250.5" r="5.8" fill="#e7298a"/><circle cx="1039.8" cy="250.5" r="3.4" fill="#e7298a"/><circle cx="1039.8" cy="267.0" r="8.7" fill="#e7298a"/><circle cx="1030.1" cy="268.9" r="2.4" fill="#e7298a"/><circle cx="951.1" cy="268.9" r="3.4" fill="#e7298a"/><circle cx="958.4" cy="274.2" r="2.9" fill="#e7298a"/><circle cx="974.9" cy="274.2" r="2.4" fill="#e7298a"/><circle cx="982.6" cy="267.9" r="3.4" fill="#e7298a"/><circle cx="984.6" cy="272.8" r="3.9" fill="#e7298a"/><circle cx="964.2" cy="283.0" r="4.4" fill="#e7298a"/><circle cx="977.8" cy="289.3" r="3.9" fill="#e7298a"/><circle cx="993.8" cy="282.5" r="5.8" fill="#e7298a"/><circle cx="993.8" cy="282.5" r="2.5" fill="#e7298a"/><circle cx="1002.0" cy="283.4" r="3.9" fill="#e7298a"/><circle cx="994.3" cy="296.0" r="6.8" fill="#e7298a"/><circle cx="994.3" cy="296.0" r="2.5" fill="#e7298a"/><circle cx="1020.4" cy="283.0" r="2.9" fill="#e7298a"/><circle cx="1019.0" cy="289.3" r="2.9" fill="#e7298a"/><circle cx="988.9" cy="304.8" r="2.4" fill="#e7298a"/><circle cx="1000.1" cy="309.6" r="4.4" fill="#e7298a"/><circle cx="1002.0" cy="315.4" r="3.9" fill="#e7298a"/><circle cx="1028.7" cy="310.6" r="3.4" fill="#e7298a"/><circle cx="963.7" cy="315.4" r="7.8" fill="#e7298a"/><circle cx="963.7" cy="315.4" r="4.0" fill="#e7298a"/><circle cx="982.6" cy="315.4" r="5.8" fill="#e7298a"/><circle cx="1057.3" cy="204.0" r="3.9" fill="#e7298a"/><circle cx="1061.1" cy="201.1" r="3.4" fill="#e7298a"/><circle cx="1039.8" cy="160.4" r="1.7" fill="#5a1a3a"/><circle cx="1039.8" cy="315.4" r="1.7" fill="#5a1a3a"/><circle cx="1067.0" cy="197.2" r="3.9" fill="#1b9e77"/><circle cx="1072.3" cy="190.9" r="5.3" fill="#1b9e77"/><circle cx="1072.3" cy="190.9" r="1.9" fill="#1b9e77"/><circle cx="1108.3" cy="314.8" r="5.5" fill="#1b9e77"/><circle cx="893.3" cy="322.1" r="3.6" fill="#df6509"/><circle cx="903.2" cy="322.1" r="3.6" fill="#df6509"/><circle cx="913.5" cy="326.2" r="2.7" fill="#df6509"/><circle cx="938.2" cy="325.7" r="3.1" fill="#df6509"/><circle cx="897.8" cy="339.6" r="2.7" fill="#df6509"/><circle cx="891.5" cy="353.1" r="4.9" fill="#df6509"/><circle cx="925.6" cy="347.7" r="7.2" fill="#df6509"/><circle cx="925.6" cy="347.7" r="2.9" fill="#df6509"/><circle cx="939.1" cy="347.7" r="4.0" fill="#df6509"/><circle cx="951.7" cy="336.9" r="8.1" fill="#df6509"/><circle cx="946.3" cy="332.5" r="3.1" fill="#df6509"/><circle cx="877.1" cy="363.9" r="2.7" fill="#df6509"/><circle cx="925.6" cy="363.9" r="8.5" fill="#df6509"/><circle cx="956.1" cy="359.4" r="4.0" fill="#df6509"/><circle cx="950.8" cy="368.4" r="3.6" fill="#df6509"/><circle cx="880.7" cy="372.9" r="3.1" fill="#df6509"/><circle cx="889.7" cy="380.0" r="4.9" fill="#df6509"/><circle cx="884.3" cy="381.8" r="5.8" fill="#df6509"/><circle cx="884.3" cy="381.8" r="2.1" fill="#df6509"/><circle cx="911.7" cy="375.6" r="3.1" fill="#df6509"/><circle cx="936.4" cy="376.5" r="2.7" fill="#df6509"/><circle cx="931.9" cy="381.8" r="2.7" fill="#df6509"/><circle cx="944.5" cy="380.9" r="4.5" fill="#df6509"/><circle cx="950.8" cy="372.9" r="2.7" fill="#df6509"/><circle cx="925.6" cy="391.7" r="7.2" fill="#df6509"/><circle cx="931.9" cy="401.6" r="7.2" fill="#df6509"/><circle cx="931.9" cy="401.6" r="3.4" fill="#df6509"/><circle cx="948.1" cy="392.6" r="7.2" fill="#df6509"/><circle cx="957.9" cy="392.6" r="2.7" fill="#df6509"/><circle cx="884.3" cy="401.6" r="5.4" fill="#df6509"/><circle cx="884.3" cy="401.6" r="2.9" fill="#df6509"/><circle cx="908.1" cy="401.6" r="2.7" fill="#df6509"/><circle cx="903.2" cy="411.9" r="6.3" fill="#df6509"/><circle cx="919.3" cy="423.6" r="3.6" fill="#df6509"/><circle cx="958.8" cy="411.5" r="3.6" fill="#df6509"/><circle cx="897.8" cy="449.2" r="3.1" fill="#df6509"/><circle cx="952.6" cy="337.8" r="8.5" fill="#df6509"/><circle cx="946.3" cy="332.5" r="3.6" fill="#df6509"/><circle cx="963.8" cy="326.6" r="3.1" fill="#df6509"/><circle cx="963.8" cy="347.7" r="3.1" fill="#df6509"/><circle cx="975.9" cy="342.3" r="6.3" fill="#df6509"/><circle cx="987.6" cy="337.8" r="4.9" fill="#df6509"/><circle cx="987.6" cy="337.8" r="2.3" fill="#df6509"/><circle cx="994.8" cy="334.7" r="5.8" fill="#df6509"/><circle cx="994.8" cy="334.7" r="3.3" fill="#df6509"/><circle cx="1016.8" cy="334.7" r="2.7" fill="#df6509"/><circle cx="1014.5" cy="347.7" r="6.7" fill="#df6509"/><circle cx="1014.5" cy="347.7" r="3.1" fill="#df6509"/><circle cx="1012.3" cy="358.0" r="3.1" fill="#df6509"/><circle cx="977.7" cy="359.4" r="9.0" fill="#df6509"/><circle cx="957.1" cy="359.4" r="4.5" fill="#df6509"/><circle cx="951.7" cy="367.5" r="3.1" fill="#df6509"/><circle cx="949.0" cy="372.9" r="5.4" fill="#df6509"/><circle cx="944.5" cy="380.9" r="4.5" fill="#df6509"/><circle cx="948.5" cy="393.1" r="8.1" fill="#df6509"/><circle cx="964.2" cy="391.3" r="7.2" fill="#df6509"/><circle cx="990.3" cy="387.2" r="3.6" fill="#df6509"/><circle cx="1039.7" cy="392.6" r="7.2" fill="#df6509"/><circle cx="963.8" cy="411.9" r="8.1" fill="#df6509"/><circle cx="994.3" cy="425.4" r="7.2" fill="#df6509"/><circle cx="1072.0" cy="329.3" r="7.2" fill="#df6509"/><circle cx="1072.0" cy="329.3" r="3.2" fill="#df6509"/><circle cx="1085.0" cy="322.1" r="6.7" fill="#df6509"/><circle cx="1085.0" cy="322.1" r="3.0" fill="#df6509"/><circle cx="831.3" cy="322.6" r="2.7" fill="#e6ab02"/><circle cx="861.8" cy="329.8" r="6.3" fill="#e6ab02"/><circle cx="858.3" cy="339.6" r="4.0" fill="#e6ab02"/><circle cx="853.8" cy="342.3" r="3.1" fill="#e6ab02"/><circle cx="861.8" cy="354.9" r="3.6" fill="#e6ab02"/><circle cx="866.3" cy="358.5" r="2.2" fill="#e6ab02"/><circle cx="860.9" cy="380.0" r="2.7" fill="#e6ab02"/><circle cx="860.0" cy="398.9" r="3.1" fill="#e6ab02"/><circle cx="861.8" cy="421.4" r="3.6" fill="#e6ab02"/><circle cx="812.5" cy="322.6" r="1.8" fill="#a6761d"/><circle cx="812.5" cy="339.6" r="2.2" fill="#a6761d"/><circle cx="812.5" cy="411.9" r="2.2" fill="#a6761d"/><circle cx="812.5" cy="115.4" r="9.0" fill="#66a61e"/><circle cx="812.5" cy="130.7" r="3.3" fill="#66a61e"/><circle cx="812.5" cy="194.1" r="3.2" fill="#66a61e"/><circle cx="812.5" cy="298.4" r="5.0" fill="#66a61e"/><circle cx="812.5" cy="322.7" r="2.2" fill="#66a61e"/><circle cx="913.6" cy="110.9" r="3.3" fill="#66a61e"/><circle cx="984.5" cy="126.3" r="4.6" fill="#66a61e"/></g>
<rect x="812.5" y="122.0" width="136.3" height="193.0" fill="none" stroke="#000" stroke-width="2.3"/>
<rect x="948.8" y="160.6" width="113.6" height="154.4" fill="none" stroke="#000" stroke-width="2.3"/>
<rect x="1062.4" y="179.9" width="68.1" height="135.1" fill="none" stroke="#000" stroke-width="2.3"/>
<rect x="1130.5" y="179.9" width="159.0" height="135.1" fill="none" stroke="#000" stroke-width="2.3"/>
<rect x="812.5" y="315.0" width="56.8" height="135.1" fill="none" stroke="#000" stroke-width="2.3"/>
<rect x="869.3" y="315.0" width="238.5" height="135.1" fill="none" stroke="#000" stroke-width="2.3"/>
<rect x="1107.8" y="315.0" width="204.4" height="135.1" fill="none" stroke="#000" stroke-width="2.3"/>
<rect x="812.5" y="450.1" width="431.6" height="115.8" fill="none" stroke="#000" stroke-width="2.3"/>
<text x="880.8" y="139.0" font-size="20.2" text-anchor="middle" font-weight="bold" fill="#000">Lipid</text>
<text x="1005.6" y="177.3" font-size="20.2" text-anchor="middle" font-weight="bold" fill="#000">Protein</text>
<text x="1210.3" y="254.7" font-size="20.2" text-anchor="middle" font-weight="bold" fill="#000">Carbohydrate</text>
<text x="1104.4" y="247.2" font-size="20.2" text-anchor="middle" font-weight="bold" fill="#000" transform="rotate(-90 1104.4 247.2)">AminoSugar</text>
<text x="834.0" y="382.8" font-size="20.2" text-anchor="middle" font-weight="bold" fill="#000" transform="rotate(-90 834.0 382.8)">Unsaturated</text>
<text x="863.6" y="382.8" font-size="20.2" text-anchor="middle" font-weight="bold" fill="#000" transform="rotate(-90 863.6 382.8)">Hydrocarbon</text>
<text x="988.6" y="390.4" font-size="20.2" text-anchor="middle" font-weight="bold" fill="#000">Lignin</text>
<text x="1210.0" y="390.2" font-size="20.2" text-anchor="middle" font-weight="bold" fill="#000">Tannin</text>
<text x="1028.5" y="516.0" font-size="20.2" text-anchor="middle" font-weight="bold" fill="#000">Condensed Hydrocarbon</text>
<text x="1255.5" y="486.0" font-size="20.3" text-anchor="start" fill="#000">Frequency</text>
<circle cx="1265.5" cy="508.9" r="6.0" fill="none" stroke="#333" stroke-width="0.6"/>
<text x="1287.4" y="516.1" font-size="20.3" text-anchor="start" fill="#000">200</text>
<circle cx="1265.5" cy="528.4" r="7.4" fill="none" stroke="#333" stroke-width="0.6"/>
<text x="1287.4" y="535.6" font-size="20.3" text-anchor="start" fill="#000">400</text>
<circle cx="1265.5" cy="549.0" r="8.7" fill="none" stroke="#333" stroke-width="0.6"/>
<text x="1287.4" y="556.5" font-size="20.3" text-anchor="start" fill="#000">600</text>
<line x1="786.5" y1="87.6" x2="786.5" y2="591.8" stroke="#000" stroke-width="4"/>
<line x1="784.5" y1="589.9" x2="1360.2" y2="589.9" stroke="#000" stroke-width="4"/>
<line x1="775.2" y1="122.0" x2="784.5" y2="122.0" stroke="#333333" stroke-width="3.8"/>
<text x="764.7" y="129.2" font-size="20.2" text-anchor="end" fill="#4d4d4d">2.5</text>
<line x1="775.2" y1="218.5" x2="784.5" y2="218.5" stroke="#333333" stroke-width="3.8"/>
<text x="764.7" y="225.7" font-size="20.2" text-anchor="end" fill="#4d4d4d">2.0</text>
<line x1="775.2" y1="315.0" x2="784.5" y2="315.0" stroke="#333333" stroke-width="3.8"/>
<text x="764.7" y="322.2" font-size="20.2" text-anchor="end" fill="#4d4d4d">1.5</text>
<line x1="775.2" y1="411.5" x2="784.5" y2="411.5" stroke="#333333" stroke-width="3.8"/>
<text x="764.7" y="418.7" font-size="20.2" text-anchor="end" fill="#4d4d4d">1.0</text>
<line x1="775.2" y1="508.0" x2="784.5" y2="508.0" stroke="#333333" stroke-width="3.8"/>
<text x="764.7" y="515.2" font-size="20.2" text-anchor="end" fill="#4d4d4d">0.5</text>
<line x1="812.5" y1="591.9" x2="812.5" y2="601.0" stroke="#333333" stroke-width="3.8"/>
<text x="812.5" y="624.6" font-size="20.2" text-anchor="middle" fill="#4d4d4d">0.0</text>
<line x1="948.8" y1="591.9" x2="948.8" y2="601.0" stroke="#333333" stroke-width="3.8"/>
<text x="948.8" y="624.6" font-size="20.2" text-anchor="middle" fill="#4d4d4d">0.3</text>
<line x1="1085.1" y1="591.9" x2="1085.1" y2="601.0" stroke="#333333" stroke-width="3.8"/>
<text x="1085.1" y="624.6" font-size="20.2" text-anchor="middle" fill="#4d4d4d">0.6</text>
<line x1="1221.4" y1="591.9" x2="1221.4" y2="601.0" stroke="#333333" stroke-width="3.8"/>
<text x="1221.4" y="624.6" font-size="20.2" text-anchor="middle" fill="#4d4d4d">0.9</text>
<line x1="1357.7" y1="591.9" x2="1357.7" y2="601.0" stroke="#333333" stroke-width="3.8"/>
<text x="1357.7" y="624.6" font-size="20.2" text-anchor="middle" fill="#4d4d4d">1.2</text>
<text x="1074.4" y="661.5" font-size="29" text-anchor="middle" fill="#000">O/C Ratio</text>
<text x="720.6" y="338.5" font-size="29" text-anchor="middle" fill="#000" transform="rotate(-90 720.6 338.5)">H/C Ratio</text>
</g>
<g transform="translate(0,0)">
<text x="1820.5" y="45.7" font-size="29" text-anchor="middle" fill="#000">Nominal Oxidation State of Carbon</text>
<text x="1820.5" y="76.7" font-size="29" text-anchor="middle" fill="#000">Soil Metabolites</text>
<clipPath id="clipe"><rect x="1575.2" y="88.0" width="488.79999999999995" height="500.29999999999995"/></clipPath>
<g clip-path="url(#clipe)">
<path d="M1596.5,120.4 L1604.7,128.9 L1612.9,137.3 L1621.1,145.7 L1629.3,154.0 L1637.5,162.3 L1645.7,170.4 L1653.9,178.5 L1662.1,186.5 L1670.3,194.3 L1678.5,202.1 L1686.7,209.6 L1694.9,216.9 L1703.1,224.1 L1711.3,231.0 L1719.5,237.6 L1727.7,244.0 L1735.9,250.1 L1744.1,256.0 L1752.3,261.6 L1760.5,266.9 L1768.8,272.1 L1777.0,277.1 L1785.2,281.9 L1793.4,286.6 L1801.6,291.2 L1809.8,295.6 L1818.0,300.0 L1826.2,304.3 L1834.4,308.5 L1842.6,312.7 L1850.8,316.8 L1859.0,320.9 L1867.2,325.0 L1875.4,329.0 L1883.6,333.0 L1891.8,336.9 L1900.0,340.9 L1908.2,344.8 L1916.4,348.7 L1924.6,352.6 L1924.6,487.0 L1916.4,478.3 L1908.2,469.6 L1900.0,461.0 L1891.8,452.4 L1883.6,443.8 L1875.4,435.2 L1867.2,426.6 L1859.0,418.1 L1850.8,409.6 L1842.6,401.2 L1834.4,392.8 L1826.2,384.5 L1818.0,376.2 L1809.8,368.0 L1801.6,359.9 L1793.4,351.9 L1785.2,344.0 L1777.0,336.3 L1768.8,328.7 L1760.5,321.3 L1752.3,314.1 L1744.1,307.1 L1735.9,300.4 L1727.7,293.9 L1719.5,287.7 L1711.3,281.8 L1703.1,276.1 L1694.9,270.7 L1686.7,265.5 L1678.5,260.4 L1670.3,255.6 L1662.1,250.9 L1653.9,246.3 L1645.7,241.8 L1637.5,237.4 L1629.3,233.1 L1621.1,228.8 L1612.9,224.6 L1604.7,220.5 L1596.5,216.4 Z" fill="#228b22" fill-opacity="0.4" stroke="none"/>
<path d="M1596.5,168.4 L1604.7,174.7 L1612.9,181.0 L1621.1,187.3 L1629.3,193.5 L1637.5,199.8 L1645.7,206.1 L1653.9,212.4 L1662.1,218.7 L1670.3,225.0 L1678.5,231.2 L1686.7,237.5 L1694.9,243.8 L1703.1,250.1 L1711.3,256.4 L1719.5,262.7 L1727.7,269.0 L1735.9,275.2 L1744.1,281.5 L1752.3,287.8 L1760.5,294.1 L1768.8,300.4 L1777.0,306.7 L1785.2,313.0 L1793.4,319.2 L1801.6,325.5 L1809.8,331.8 L1818.0,338.1 L1826.2,344.4 L1834.4,350.7 L1842.6,357.0 L1850.8,363.2 L1859.0,369.5 L1867.2,375.8 L1875.4,382.1 L1883.6,388.4 L1891.8,394.7 L1900.0,400.9 L1908.2,407.2 L1916.4,413.5 L1924.6,419.8" fill="none" stroke="#228b22" stroke-width="4.6"/>
<path d="M1596.5,107.6 L1606.9,114.2 L1617.3,120.7 L1627.6,127.1 L1638.0,133.5 L1648.4,139.8 L1658.8,145.9 L1669.2,152.0 L1679.5,157.9 L1689.9,163.6 L1700.3,169.2 L1710.7,174.6 L1721.1,179.8 L1731.4,184.7 L1741.8,189.5 L1752.2,194.0 L1762.6,198.3 L1773.0,202.3 L1783.3,206.1 L1793.7,209.8 L1804.1,213.2 L1814.5,216.4 L1824.9,219.6 L1835.2,222.5 L1845.6,225.4 L1856.0,228.1 L1866.4,230.7 L1876.8,233.3 L1887.1,235.7 L1897.5,238.1 L1907.9,240.5 L1918.3,242.7 L1928.7,245.0 L1939.0,247.1 L1949.4,249.3 L1959.8,251.4 L1970.2,253.5 L1980.6,255.5 L1990.9,257.5 L2001.3,259.5 L2011.7,261.5 L2011.7,401.8 L2001.3,395.3 L1990.9,388.7 L1980.6,382.2 L1970.2,375.6 L1959.8,369.1 L1949.4,362.6 L1939.0,356.1 L1928.7,349.7 L1918.3,343.2 L1907.9,336.8 L1897.5,330.4 L1887.1,324.1 L1876.8,317.9 L1866.4,311.6 L1856.0,305.5 L1845.6,299.4 L1835.2,293.5 L1824.9,287.6 L1814.5,281.9 L1804.1,276.3 L1793.7,270.8 L1783.3,265.5 L1773.0,260.4 L1762.6,255.6 L1752.2,250.9 L1741.8,246.4 L1731.4,242.2 L1721.1,238.1 L1710.7,234.3 L1700.3,230.6 L1689.9,227.1 L1679.5,223.8 L1669.2,220.6 L1658.8,217.5 L1648.4,214.5 L1638.0,211.6 L1627.6,208.8 L1617.3,206.1 L1606.9,203.4 L1596.5,200.8 Z" fill="#76ee00" fill-opacity="0.4" stroke="none"/>
<path d="M1596.5,154.2 L1606.9,158.8 L1617.3,163.4 L1627.6,168.0 L1638.0,172.6 L1648.4,177.2 L1658.8,181.7 L1669.2,186.3 L1679.5,190.8 L1689.9,195.4 L1700.3,199.9 L1710.7,204.4 L1721.1,208.9 L1731.4,213.4 L1741.8,217.9 L1752.2,222.4 L1762.6,226.9 L1773.0,231.4 L1783.3,235.8 L1793.7,240.3 L1804.1,244.7 L1814.5,249.2 L1824.9,253.6 L1835.2,258.0 L1845.6,262.4 L1856.0,266.8 L1866.4,271.2 L1876.8,275.6 L1887.1,279.9 L1897.5,284.3 L1907.9,288.6 L1918.3,293.0 L1928.7,297.3 L1939.0,301.6 L1949.4,305.9 L1959.8,310.2 L1970.2,314.5 L1980.6,318.8 L1990.9,323.1 L2001.3,327.4 L2011.7,331.6" fill="none" stroke="#76ee00" stroke-width="4.6"/>
<path d="M1596.5,167.0 L1606.2,175.4 L1615.9,183.7 L1625.7,191.9 L1635.4,200.0 L1645.1,207.9 L1654.8,215.7 L1664.5,223.3 L1674.2,230.8 L1684.0,238.0 L1693.7,245.1 L1703.4,252.0 L1713.1,258.6 L1722.8,265.2 L1732.5,271.5 L1742.3,277.7 L1752.0,283.7 L1761.7,289.6 L1771.4,295.4 L1781.1,301.0 L1790.8,306.6 L1800.6,312.1 L1810.3,317.5 L1820.0,322.8 L1829.7,328.0 L1839.4,333.2 L1849.2,338.4 L1858.9,343.5 L1868.6,348.6 L1878.3,353.6 L1888.0,358.6 L1897.7,363.5 L1907.5,368.5 L1917.2,373.4 L1926.9,378.3 L1936.6,383.2 L1946.3,388.1 L1956.0,392.9 L1965.8,397.7 L1975.5,402.6 L1985.2,407.4 L1985.2,563.6 L1975.5,554.4 L1965.8,545.3 L1956.0,536.1 L1946.3,526.9 L1936.6,517.8 L1926.9,508.7 L1917.2,499.6 L1907.5,490.5 L1897.7,481.4 L1888.0,472.4 L1878.3,463.4 L1868.6,454.4 L1858.9,445.4 L1849.2,436.5 L1839.4,427.7 L1829.7,418.9 L1820.0,410.1 L1810.3,401.5 L1800.6,392.8 L1790.8,384.3 L1781.1,375.9 L1771.4,367.5 L1761.7,359.3 L1752.0,351.2 L1742.3,343.2 L1732.5,335.4 L1722.8,327.7 L1713.1,320.2 L1703.4,312.9 L1693.7,305.8 L1684.0,298.8 L1674.2,292.1 L1664.5,285.5 L1654.8,279.1 L1645.1,272.9 L1635.4,266.8 L1625.7,260.9 L1615.9,255.1 L1606.2,249.4 L1596.5,243.8 Z" fill="#7b358d" fill-opacity="0.4" stroke="none"/>
<path d="M1596.5,205.4 L1606.2,212.4 L1615.9,219.4 L1625.7,226.4 L1635.4,233.4 L1645.1,240.4 L1654.8,247.4 L1664.5,254.4 L1674.2,261.4 L1684.0,268.4 L1693.7,275.4 L1703.4,282.4 L1713.1,289.4 L1722.8,296.4 L1732.5,303.4 L1742.3,310.4 L1752.0,317.4 L1761.7,324.4 L1771.4,331.4 L1781.1,338.4 L1790.8,345.4 L1800.6,352.5 L1810.3,359.5 L1820.0,366.5 L1829.7,373.5 L1839.4,380.5 L1849.2,387.5 L1858.9,394.5 L1868.6,401.5 L1878.3,408.5 L1888.0,415.5 L1897.7,422.5 L1907.5,429.5 L1917.2,436.5 L1926.9,443.5 L1936.6,450.5 L1946.3,457.5 L1956.0,464.5 L1965.8,471.5 L1975.5,478.5 L1985.2,485.5" fill="none" stroke="#7b358d" stroke-width="4.6"/>
</g>
<rect x="1943.0" y="104.6" width="11.0" height="19.6" fill="#228b22" stroke="none" stroke-width="1" fill-opacity="0.4"/>
<line x1="1943.5" y1="114.4" x2="1953.5" y2="114.4" stroke="#228b22" stroke-width="3.9"/>
<text x="1978.2" y="121.6" font-size="20.5" text-anchor="start" fill="#000">ARF</text>
<rect x="1943.0" y="124.2" width="11.0" height="19.6" fill="#76ee00" stroke="none" stroke-width="1" fill-opacity="0.4"/>
<line x1="1943.5" y1="134.0" x2="1953.5" y2="134.0" stroke="#76ee00" stroke-width="3.9"/>
<text x="1978.2" y="141.2" font-size="20.5" text-anchor="start" fill="#000">STAFS</text>
<rect x="1943.0" y="143.8" width="11.0" height="19.6" fill="#7b358d" stroke="none" stroke-width="1" fill-opacity="0.4"/>
<line x1="1943.5" y1="153.6" x2="1953.5" y2="153.6" stroke="#7b358d" stroke-width="3.9"/>
<text x="1978.2" y="160.8" font-size="20.5" text-anchor="start" fill="#000">FIRS</text>
<text x="1596.6" y="534.2" font-size="20.7" text-anchor="start" fill="#000">ARF: p =  1.29e−05  Marg. R2 =  1.57e−03</text>
<text x="1596.6" y="554.1" font-size="20.7" text-anchor="start" fill="#000">STAFS: p =  1.93e−03  Marg. R2 =  6.81e−04</text>
<text x="1596.6" y="574.0" font-size="20.7" text-anchor="start" fill="#000">FIRS: p =  3.57e−04  Marg. R2 =  1.38e−03</text>
<rect x="1575.2" y="88.0" width="488.8" height="500.3" fill="none" stroke="#333" stroke-width="2.4"/>
<line x1="1562.6" y1="177.0" x2="1574.0" y2="177.0" stroke="#333333" stroke-width="4"/>
<text x="1553.8" y="184.2" font-size="20.2" text-anchor="end" fill="#4d4d4d">−1.04</text>
<line x1="1562.6" y1="310.3" x2="1574.0" y2="310.3" stroke="#333333" stroke-width="4"/>
<text x="1553.8" y="317.5" font-size="20.2" text-anchor="end" fill="#4d4d4d">−1.08</text>
<line x1="1562.6" y1="443.7" x2="1574.0" y2="443.7" stroke="#333333" stroke-width="4"/>
<text x="1553.8" y="450.9" font-size="20.2" text-anchor="end" fill="#4d4d4d">−1.12</text>
<line x1="1562.6" y1="577.0" x2="1574.0" y2="577.0" stroke="#333333" stroke-width="4"/>
<text x="1553.8" y="584.2" font-size="20.2" text-anchor="end" fill="#4d4d4d">−1.16</text>
<line x1="1595.6" y1="589.5" x2="1595.6" y2="601.0" stroke="#333333" stroke-width="4"/>
<text x="1595.6" y="624.8" font-size="20.2" text-anchor="middle" fill="#4d4d4d">0</text>
<line x1="1745.0" y1="589.5" x2="1745.0" y2="601.0" stroke="#333333" stroke-width="4"/>
<text x="1745.0" y="624.8" font-size="20.2" text-anchor="middle" fill="#4d4d4d">200</text>
<line x1="1894.1" y1="589.5" x2="1894.1" y2="601.0" stroke="#333333" stroke-width="4"/>
<text x="1894.1" y="624.8" font-size="20.2" text-anchor="middle" fill="#4d4d4d">400</text>
<line x1="2043.3" y1="589.5" x2="2043.3" y2="601.0" stroke="#333333" stroke-width="4"/>
<text x="2043.3" y="624.8" font-size="20.2" text-anchor="middle" fill="#4d4d4d">600</text>
<text x="1819.8" y="661.7" font-size="29" text-anchor="middle" fill="#000">ADD</text>
<text x="1483.4" y="338.2" font-size="29" text-anchor="middle" fill="#000" transform="rotate(-90 1483.4 338.2)">NOSC Score</text>
</g>
<g transform="translate(0,696.3)">
<text x="1820.5" y="45.7" font-size="29" text-anchor="middle" fill="#000">Nominal Oxidation State of Carbon</text>
<text x="1820.5" y="76.7" font-size="29" text-anchor="middle" fill="#000">Skin Metabolites</text>
<clipPath id="clipf"><rect x="1575.2" y="88.0" width="488.79999999999995" height="500.29999999999995"/></clipPath>
<g clip-path="url(#clipf)">
<path d="M1596.5,187.3 L1604.7,196.2 L1612.9,205.0 L1621.1,213.8 L1629.3,222.6 L1637.5,231.4 L1645.8,240.2 L1654.0,248.9 L1662.2,257.5 L1670.4,266.2 L1678.6,274.8 L1686.8,283.3 L1695.0,291.8 L1703.2,300.2 L1711.4,308.5 L1719.7,316.8 L1727.9,325.0 L1736.1,333.1 L1744.3,341.1 L1752.5,349.0 L1760.7,356.8 L1768.9,364.4 L1777.1,372.0 L1785.3,379.6 L1793.5,387.0 L1801.8,394.3 L1810.0,401.6 L1818.2,408.8 L1826.4,415.9 L1834.6,423.0 L1842.8,430.1 L1851.0,437.1 L1859.2,444.1 L1867.4,451.0 L1875.6,457.9 L1883.9,464.8 L1892.1,471.7 L1900.3,478.5 L1908.5,485.3 L1916.7,492.2 L1924.9,499.0 L1924.9,557.0 L1916.7,548.1 L1908.5,539.2 L1900.3,530.4 L1892.1,521.6 L1883.9,512.8 L1875.6,504.0 L1867.4,495.3 L1859.2,486.5 L1851.0,477.8 L1842.8,469.2 L1834.6,460.6 L1826.4,452.0 L1818.2,443.5 L1810.0,435.0 L1801.8,426.6 L1793.5,418.3 L1785.3,410.0 L1777.1,401.8 L1768.9,393.8 L1760.7,385.8 L1752.5,377.9 L1744.3,370.1 L1736.1,362.4 L1727.9,354.8 L1719.7,347.3 L1711.4,339.9 L1703.2,332.5 L1695.0,325.2 L1686.8,318.0 L1678.6,310.9 L1670.4,303.8 L1662.2,296.7 L1654.0,289.7 L1645.8,282.7 L1637.5,275.8 L1629.3,268.8 L1621.1,261.9 L1612.9,255.0 L1604.7,248.2 L1596.5,241.3 Z" fill="#228b22" fill-opacity="0.4" stroke="none"/>
<path d="M1596.5,214.3 L1604.7,222.2 L1612.9,230.0 L1621.1,237.9 L1629.3,245.7 L1637.5,253.6 L1645.8,261.4 L1654.0,269.3 L1662.2,277.1 L1670.4,285.0 L1678.6,292.8 L1686.8,300.7 L1695.0,308.5 L1703.2,316.4 L1711.4,324.2 L1719.7,332.0 L1727.9,339.9 L1736.1,347.7 L1744.3,355.6 L1752.5,363.4 L1760.7,371.3 L1768.9,379.1 L1777.1,386.9 L1785.3,394.8 L1793.5,402.6 L1801.8,410.5 L1810.0,418.3 L1818.2,426.1 L1826.4,434.0 L1834.6,441.8 L1842.8,449.6 L1851.0,457.5 L1859.2,465.3 L1867.4,473.1 L1875.6,481.0 L1883.9,488.8 L1892.1,496.6 L1900.3,504.5 L1908.5,512.3 L1916.7,520.1 L1924.9,528.0" fill="none" stroke="#228b22" stroke-width="4.6"/>
<path d="M1596.5,107.2 L1606.9,115.3 L1617.3,123.4 L1627.7,131.6 L1638.1,139.8 L1648.5,148.0 L1658.9,156.2 L1669.2,164.4 L1679.6,172.7 L1690.0,181.0 L1700.4,189.2 L1710.8,197.5 L1721.2,205.8 L1731.6,214.1 L1742.0,222.3 L1752.4,230.6 L1762.8,238.9 L1773.2,247.1 L1783.6,255.4 L1794.0,263.7 L1804.3,271.9 L1814.7,280.2 L1825.1,288.5 L1835.5,296.8 L1845.9,305.1 L1856.3,313.4 L1866.7,321.8 L1877.1,330.2 L1887.5,338.6 L1897.9,347.0 L1908.3,355.5 L1918.7,364.1 L1929.1,372.6 L1939.5,381.3 L1949.8,389.9 L1960.2,398.7 L1970.6,407.4 L1981.0,416.3 L1991.4,425.1 L2001.8,434.1 L2012.2,443.1 L2012.2,522.7 L2001.8,511.6 L1991.4,500.6 L1981.0,489.6 L1970.6,478.8 L1960.2,468.0 L1949.8,457.3 L1939.5,446.7 L1929.1,436.2 L1918.7,425.8 L1908.3,415.6 L1897.9,405.4 L1887.5,395.3 L1877.1,385.3 L1866.7,375.4 L1856.3,365.6 L1845.9,356.0 L1835.5,346.5 L1825.1,337.1 L1814.7,327.8 L1804.3,318.6 L1794.0,309.6 L1783.6,300.8 L1773.2,292.0 L1762.8,283.4 L1752.4,275.0 L1742.0,266.7 L1731.6,258.6 L1721.2,250.6 L1710.8,242.7 L1700.4,235.0 L1690.0,227.4 L1679.6,220.0 L1669.2,212.6 L1658.9,205.5 L1648.5,198.4 L1638.1,191.5 L1627.7,184.7 L1617.3,178.0 L1606.9,171.4 L1596.5,164.9 Z" fill="#76ee00" fill-opacity="0.4" stroke="none"/>
<path d="M1596.5,136.0 L1606.9,143.3 L1617.3,150.7 L1627.7,158.1 L1638.1,165.6 L1648.5,173.2 L1658.9,180.8 L1669.2,188.5 L1679.6,196.3 L1690.0,204.2 L1700.4,212.1 L1710.8,220.1 L1721.2,228.2 L1731.6,236.3 L1742.0,244.5 L1752.4,252.8 L1762.8,261.2 L1773.2,269.6 L1783.6,278.1 L1794.0,286.6 L1804.3,295.3 L1814.7,304.0 L1825.1,312.8 L1835.5,321.6 L1845.9,330.5 L1856.3,339.5 L1866.7,348.6 L1877.1,357.7 L1887.5,366.9 L1897.9,376.2 L1908.3,385.5 L1918.7,395.0 L1929.1,404.4 L1939.5,414.0 L1949.8,423.6 L1960.2,433.3 L1970.6,443.1 L1981.0,452.9 L1991.4,462.9 L2001.8,472.8 L2012.2,482.9" fill="none" stroke="#76ee00" stroke-width="4.6"/>
<path d="M1596.5,173.8 L1606.2,178.9 L1615.9,184.0 L1625.6,189.1 L1635.3,194.1 L1645.0,199.2 L1654.7,204.3 L1664.4,209.3 L1674.1,214.4 L1683.8,219.5 L1693.5,224.6 L1703.3,229.6 L1713.0,234.7 L1722.7,239.8 L1732.4,244.9 L1742.1,250.0 L1751.8,255.2 L1761.5,260.3 L1771.2,265.5 L1780.9,270.7 L1790.6,275.9 L1800.3,281.1 L1810.0,286.4 L1819.7,291.6 L1829.4,297.0 L1839.1,302.3 L1848.8,307.7 L1858.5,313.1 L1868.2,318.5 L1877.9,324.0 L1887.7,329.5 L1897.4,335.0 L1907.1,340.6 L1916.8,346.2 L1926.5,351.9 L1936.2,357.5 L1945.9,363.3 L1955.6,369.0 L1965.3,374.8 L1975.0,380.7 L1984.7,386.6 L1984.7,488.1 L1975.0,480.2 L1965.3,472.4 L1955.6,464.7 L1945.9,456.9 L1936.2,449.3 L1926.5,441.7 L1916.8,434.2 L1907.1,426.7 L1897.4,419.3 L1887.7,411.9 L1877.9,404.6 L1868.2,397.4 L1858.5,390.2 L1848.8,383.1 L1839.1,376.0 L1829.4,369.0 L1819.7,362.1 L1810.0,355.3 L1800.3,348.5 L1790.6,341.7 L1780.9,335.1 L1771.2,328.5 L1761.5,322.0 L1751.8,315.6 L1742.1,309.2 L1732.4,303.0 L1722.7,296.8 L1713.0,290.7 L1703.3,284.7 L1693.5,278.7 L1683.8,272.9 L1674.1,267.1 L1664.4,261.5 L1654.7,255.9 L1645.0,250.5 L1635.3,245.1 L1625.6,239.8 L1615.9,234.7 L1606.2,229.6 L1596.5,224.6 Z" fill="#7b358d" fill-opacity="0.4" stroke="none"/>
<path d="M1596.5,199.2 L1606.2,204.2 L1615.9,209.3 L1625.6,214.4 L1635.3,219.6 L1645.0,224.8 L1654.7,230.1 L1664.4,235.4 L1674.1,240.8 L1683.8,246.2 L1693.5,251.6 L1703.3,257.1 L1713.0,262.7 L1722.7,268.3 L1732.4,273.9 L1742.1,279.6 L1751.8,285.4 L1761.5,291.2 L1771.2,297.0 L1780.9,302.9 L1790.6,308.8 L1800.3,314.8 L1810.0,320.8 L1819.7,326.9 L1829.4,333.0 L1839.1,339.2 L1848.8,345.4 L1858.5,351.6 L1868.2,357.9 L1877.9,364.3 L1887.7,370.7 L1897.4,377.1 L1907.1,383.6 L1916.8,390.2 L1926.5,396.8 L1936.2,403.4 L1945.9,410.1 L1955.6,416.8 L1965.3,423.6 L1975.0,430.5 L1984.7,437.3" fill="none" stroke="#7b358d" stroke-width="4.6"/>
</g>
<rect x="1943.0" y="104.6" width="11.0" height="19.6" fill="#228b22" stroke="none" stroke-width="1" fill-opacity="0.4"/>
<line x1="1943.5" y1="114.4" x2="1953.5" y2="114.4" stroke="#228b22" stroke-width="3.9"/>
<text x="1978.2" y="121.6" font-size="20.5" text-anchor="start" fill="#000">ARF</text>
<rect x="1943.0" y="124.2" width="11.0" height="19.6" fill="#76ee00" stroke="none" stroke-width="1" fill-opacity="0.4"/>
<line x1="1943.5" y1="134.0" x2="1953.5" y2="134.0" stroke="#76ee00" stroke-width="3.9"/>
<text x="1978.2" y="141.2" font-size="20.5" text-anchor="start" fill="#000">STAFS</text>
<rect x="1943.0" y="143.8" width="11.0" height="19.6" fill="#7b358d" stroke="none" stroke-width="1" fill-opacity="0.4"/>
<line x1="1943.5" y1="153.6" x2="1953.5" y2="153.6" stroke="#7b358d" stroke-width="3.9"/>
<text x="1978.2" y="160.8" font-size="20.5" text-anchor="start" fill="#000">FIRS</text>
<text x="1596.6" y="534.2" font-size="20.7" text-anchor="start" fill="#000">ARF: p =  9.81e−32  Marg. R2 =  4.64e−03</text>
<text x="1596.6" y="554.1" font-size="20.7" text-anchor="start" fill="#000">STAFS: p =  1.99e−17  Marg. R2 =  2.89e−03</text>
<text x="1596.6" y="574.0" font-size="20.7" text-anchor="start" fill="#000">FIRS: p =  1.25e−08  Marg. R2 =  2.29e−03</text>
<rect x="1575.2" y="88.0" width="488.8" height="500.3" fill="none" stroke="#333" stroke-width="2.4"/>
<line x1="1562.6" y1="96.8" x2="1574.0" y2="96.8" stroke="#333333" stroke-width="4"/>
<text x="1553.8" y="104.0" font-size="20.2" text-anchor="end" fill="#4d4d4d">−1.05</text>
<line x1="1562.6" y1="247.2" x2="1574.0" y2="247.2" stroke="#333333" stroke-width="4"/>
<text x="1553.8" y="254.4" font-size="20.2" text-anchor="end" fill="#4d4d4d">−1.10</text>
<line x1="1562.6" y1="397.6" x2="1574.0" y2="397.6" stroke="#333333" stroke-width="4"/>
<text x="1553.8" y="404.8" font-size="20.2" text-anchor="end" fill="#4d4d4d">−1.15</text>
<line x1="1562.6" y1="547.9" x2="1574.0" y2="547.9" stroke="#333333" stroke-width="4"/>
<text x="1553.8" y="555.1" font-size="20.2" text-anchor="end" fill="#4d4d4d">−1.20</text>
<line x1="1595.6" y1="589.5" x2="1595.6" y2="601.0" stroke="#333333" stroke-width="4"/>
<text x="1595.6" y="624.8" font-size="20.2" text-anchor="middle" fill="#4d4d4d">0</text>
<line x1="1745.0" y1="589.5" x2="1745.0" y2="601.0" stroke="#333333" stroke-width="4"/>
<text x="1745.0" y="624.8" font-size="20.2" text-anchor="middle" fill="#4d4d4d">200</text>
<line x1="1894.1" y1="589.5" x2="1894.1" y2="601.0" stroke="#333333" stroke-width="4"/>
<text x="1894.1" y="624.8" font-size="20.2" text-anchor="middle" fill="#4d4d4d">400</text>
<line x1="2043.3" y1="589.5" x2="2043.3" y2="601.0" stroke="#333333" stroke-width="4"/>
<text x="2043.3" y="624.8" font-size="20.2" text-anchor="middle" fill="#4d4d4d">600</text>
<text x="1819.8" y="661.7" font-size="29" text-anchor="middle" fill="#000">ADD</text>
<text x="1483.4" y="338.2" font-size="29" text-anchor="middle" fill="#000" transform="rotate(-90 1483.4 338.2)">NOSC Score</text>
</g>
<text x="543.5" y="1448.0" font-size="29" text-anchor="middle" fill="#000">Lipid−like Metabolites in Soil</text>
<rect x="104.5" y="1539.5" width="277.0" height="511.8" fill="#fff" stroke="none" stroke-width="1"/>
<g stroke="#ebebeb" stroke-width="1.6"><line x1="158.6" y1="1539.5" x2="158.6" y2="2051.3"/><line x1="242.6" y1="1539.5" x2="242.6" y2="2051.3"/><line x1="326.8" y1="1539.5" x2="326.8" y2="2051.3"/><line x1="104.5" y1="1575.2" x2="381.5" y2="1575.2"/><line x1="104.5" y1="1698.0" x2="381.5" y2="1698.0"/><line x1="104.5" y1="1820.8" x2="381.5" y2="1820.8"/><line x1="104.5" y1="1943.6" x2="381.5" y2="1943.6"/></g>
<g stroke="#ebebeb" stroke-width="3.0"><line x1="116.5" y1="1539.5" x2="116.5" y2="2051.3"/><line x1="200.6" y1="1539.5" x2="200.6" y2="2051.3"/><line x1="284.7" y1="1539.5" x2="284.7" y2="2051.3"/><line x1="368.8" y1="1539.5" x2="368.8" y2="2051.3"/><line x1="104.5" y1="1636.6" x2="381.5" y2="1636.6"/><line x1="104.5" y1="1759.4" x2="381.5" y2="1759.4"/><line x1="104.5" y1="1882.2" x2="381.5" y2="1882.2"/><line x1="104.5" y1="2005.0" x2="381.5" y2="2005.0"/></g>
<g class="fg" fill="#706ca6" stroke="#1c1a30"><circle cx="149" cy="1717"/><circle cx="121" cy="1750"/><circle cx="126" cy="1718"/><circle cx="180" cy="1714"/><circle cx="129" cy="1726"/><circle cx="181" cy="1710"/><circle cx="121" cy="1734"/><circle cx="186" cy="1712"/><circle cx="118" cy="1714"/><circle cx="224" cy="1690"/><circle cx="120" cy="1775"/><circle cx="233" cy="1707"/><circle cx="120" cy="1730"/><circle cx="187" cy="1699"/><circle cx="190" cy="1702"/><circle cx="284" cy="1676"/><circle cx="235" cy="1699"/><circle cx="186" cy="1712"/><circle cx="240" cy="1691"/><circle cx="287" cy="1687"/><circle cx="117" cy="1764"/><circle cx="122" cy="1675"/><circle cx="119" cy="1727"/><circle cx="221" cy="1700"/><circle cx="118" cy="1695"/><circle cx="235" cy="1746"/><circle cx="119" cy="1759"/><circle cx="117" cy="1718"/><circle cx="121" cy="1696"/><circle cx="119" cy="1706"/><circle cx="125" cy="1725"/><circle cx="121" cy="1720"/><circle cx="136" cy="1717"/><circle cx="158" cy="1686"/><circle cx="178" cy="1721"/><circle cx="257" cy="1690"/><circle cx="142" cy="1702"/><circle cx="131" cy="1728"/><circle cx="117" cy="1716"/><circle cx="182" cy="1710"/><circle cx="242" cy="1688"/><circle cx="172" cy="1674"/><circle cx="222" cy="1711"/><circle cx="166" cy="1731"/><circle cx="264" cy="1685"/><circle cx="277" cy="1732"/><circle cx="293" cy="1704"/><circle cx="235" cy="1788"/><circle cx="185" cy="1737"/><circle cx="158" cy="1719"/><circle cx="192" cy="1720"/><circle cx="119" cy="1728"/><circle cx="243" cy="1720"/><circle cx="119" cy="1738"/><circle cx="218" cy="1709"/><circle cx="197" cy="1714"/><circle cx="253" cy="1711"/><circle cx="119" cy="1709"/><circle cx="206" cy="1706"/><circle cx="120" cy="1725"/><circle cx="205" cy="1711"/><circle cx="126" cy="1727"/><circle cx="296" cy="1702"/><circle cx="117" cy="1685"/><circle cx="117" cy="1714"/><circle cx="284" cy="1737"/><circle cx="254" cy="1736"/><circle cx="117" cy="1786"/><circle cx="226" cy="1730"/><circle cx="176" cy="1751"/><circle cx="174" cy="1726"/><circle cx="195" cy="1697"/><circle cx="191" cy="1723"/><circle cx="222" cy="1707"/><circle cx="146" cy="1691"/><circle cx="151" cy="1728"/><circle cx="244" cy="1720"/><circle cx="154" cy="1717"/><circle cx="255" cy="1699"/><circle cx="170" cy="1723"/><circle cx="176" cy="1703"/><circle cx="142" cy="1719"/><circle cx="165" cy="1716"/><circle cx="204" cy="1729"/><circle cx="220" cy="1749"/><circle cx="188" cy="1760"/><circle cx="159" cy="1711"/><circle cx="166" cy="1718"/><circle cx="286" cy="1711"/><circle cx="266" cy="1710"/><circle cx="117" cy="1751"/><circle cx="200" cy="1669"/><circle cx="153" cy="1705"/><circle cx="128" cy="1703"/><circle cx="144" cy="1726"/><circle cx="139" cy="1713"/><circle cx="129" cy="1726"/><circle cx="182" cy="1715"/><circle cx="132" cy="1725"/><circle cx="176" cy="1721"/><circle cx="166" cy="1713"/><circle cx="177" cy="1716"/><circle cx="187" cy="1700"/><circle cx="197" cy="1732"/><circle cx="117" cy="1737"/><circle cx="128" cy="1746"/><circle cx="246" cy="1718"/><circle cx="123" cy="1731"/><circle cx="209" cy="1716"/><circle cx="176" cy="1716"/><circle cx="158" cy="1693"/><circle cx="172" cy="1724"/><circle cx="143" cy="1712"/><circle cx="289" cy="1707"/><circle cx="232" cy="1728"/><circle cx="247" cy="1665"/><circle cx="241" cy="1698"/><circle cx="260" cy="1716"/><circle cx="234" cy="1708"/><circle cx="135" cy="1758"/><circle cx="136" cy="1718"/><circle cx="123" cy="1737"/><circle cx="287" cy="1687"/><circle cx="163" cy="1704"/><circle cx="121" cy="1701"/><circle cx="139" cy="1718"/><circle cx="121" cy="1732"/><circle cx="121" cy="1671"/><circle cx="174" cy="1704"/><circle cx="130" cy="1706"/><circle cx="284" cy="1682"/><circle cx="123" cy="1741"/><circle cx="291" cy="1709"/><circle cx="169" cy="1718"/><circle cx="229" cy="1711"/><circle cx="298" cy="1704"/><circle cx="218" cy="1720"/><circle cx="117" cy="1754"/><circle cx="168" cy="1746"/><circle cx="279" cy="1687"/><circle cx="256" cy="1699"/><circle cx="275" cy="1714"/><circle cx="219" cy="1691"/><circle cx="119" cy="1728"/><circle cx="123" cy="1722"/><circle cx="124" cy="1733"/><circle cx="250" cy="1730"/><circle cx="201" cy="1748"/><circle cx="158" cy="1724"/><circle cx="117" cy="1715"/><circle cx="166" cy="1690"/><circle cx="119" cy="1685"/><circle cx="154" cy="1696"/><circle cx="127" cy="1736"/><circle cx="171" cy="1713"/><circle cx="117" cy="1684"/><circle cx="141" cy="1720"/><circle cx="277" cy="1704"/><circle cx="163" cy="1674"/><circle cx="162" cy="1739"/><circle cx="300" cy="1686"/><circle cx="146" cy="1757"/><circle cx="253" cy="1716"/><circle cx="117" cy="1738"/><circle cx="120" cy="1699"/><circle cx="144" cy="1716"/><circle cx="117" cy="1739"/><circle cx="118" cy="1679"/><circle cx="179" cy="1747"/><circle cx="159" cy="1714"/><circle cx="215" cy="1694"/><circle cx="256" cy="1725"/><circle cx="209" cy="1725"/><circle cx="160" cy="1723"/><circle cx="117" cy="1670"/><circle cx="206" cy="1725"/><circle cx="118" cy="1687"/><circle cx="181" cy="1712"/><circle cx="117" cy="1742"/><circle cx="183" cy="1702"/><circle cx="161" cy="1705"/><circle cx="119" cy="1693"/><circle cx="168" cy="1733"/><circle cx="117" cy="1728"/><circle cx="117" cy="1741"/><circle cx="141" cy="1757"/><circle cx="124" cy="1714"/><circle cx="153" cy="1713"/><circle cx="165" cy="1723"/><circle cx="130" cy="1714"/><circle cx="249" cy="1732"/><circle cx="228" cy="1691"/><circle cx="192" cy="1691"/><circle cx="287" cy="1727"/><circle cx="220" cy="1697"/><circle cx="241" cy="1731"/><circle cx="213" cy="1696"/><circle cx="178" cy="1761"/><circle cx="118" cy="1714"/><circle cx="175" cy="1708"/><circle cx="129" cy="1720"/><circle cx="123" cy="1725"/><circle cx="117" cy="1713"/><circle cx="125" cy="1706"/><circle cx="118" cy="1723"/><circle cx="223" cy="1668"/><circle cx="217" cy="1733"/><circle cx="126" cy="1715"/><circle cx="117" cy="1719"/><circle cx="121" cy="1749"/><circle cx="217" cy="1706"/><circle cx="148" cy="1725"/><circle cx="129" cy="1722"/><circle cx="191" cy="1729"/><circle cx="117" cy="1711"/><circle cx="270" cy="1695"/><circle cx="165" cy="1733"/><circle cx="219" cy="1701"/><circle cx="193" cy="1712"/><circle cx="121" cy="1731"/><circle cx="295" cy="1723"/><circle cx="118" cy="1693"/><circle cx="117" cy="1724"/><circle cx="267" cy="1674"/><circle cx="158" cy="1708"/><circle cx="212" cy="1722"/><circle cx="178" cy="1726"/><circle cx="176" cy="1739"/><circle cx="261" cy="1735"/><circle cx="230" cy="1702"/><circle cx="117" cy="1714"/><circle cx="150" cy="1730"/><circle cx="125" cy="1745"/><circle cx="218" cy="1705"/><circle cx="187" cy="1728"/><circle cx="146" cy="1724"/><circle cx="124" cy="1738"/><circle cx="129" cy="1719"/><circle cx="148" cy="1723"/><circle cx="143" cy="1723"/><circle cx="199" cy="1692"/><circle cx="121" cy="1734"/><circle cx="129" cy="1719"/><circle cx="150" cy="1723"/><circle cx="173" cy="1700"/><circle cx="155" cy="1730"/><circle cx="126" cy="1748"/><circle cx="120" cy="1702"/><circle cx="281" cy="1709"/><circle cx="285" cy="1710"/><circle cx="181" cy="1759"/><circle cx="209" cy="1711"/><circle cx="164" cy="1724"/><circle cx="122" cy="1722"/><circle cx="119" cy="1722"/><circle cx="127" cy="1715"/><circle cx="120" cy="1689"/><circle cx="228" cy="1710"/><circle cx="291" cy="1685"/><circle cx="184" cy="1758"/><circle cx="300" cy="1692"/><circle cx="117" cy="1753"/><circle cx="119" cy="1715"/><circle cx="244" cy="1716"/><circle cx="142" cy="1730"/><circle cx="291" cy="1706"/><circle cx="117" cy="1672"/><circle cx="232" cy="1670"/><circle cx="166" cy="1749"/><circle cx="159" cy="1751"/><circle cx="171" cy="1730"/><circle cx="135" cy="1729"/><circle cx="126" cy="1755"/><circle cx="218" cy="1698"/><circle cx="187" cy="1706"/><circle cx="145" cy="1725"/><circle cx="205" cy="1710"/><circle cx="276" cy="1708"/><circle cx="171" cy="1716"/><circle cx="268" cy="1699"/><circle cx="226" cy="1722"/><circle cx="135" cy="1680"/><circle cx="130" cy="1711"/><circle cx="209" cy="1731"/><circle cx="128" cy="1721"/><circle cx="192" cy="1688"/><circle cx="216" cy="1702"/><circle cx="131" cy="1767"/><circle cx="277" cy="1713"/><circle cx="144" cy="1728"/><circle cx="142" cy="1966"/><circle cx="188" cy="2003"/><circle cx="169" cy="1799"/><circle cx="180" cy="1789"/><circle cx="283" cy="1774"/><circle cx="272" cy="1632"/><circle cx="215" cy="1651"/><circle cx="251" cy="1656"/><circle cx="268" cy="1661"/></g>
<path d="M116.5,1720.0 L125.8,1719.3 L135.0,1718.6 L144.3,1717.9 L153.5,1717.2 L162.8,1716.5 L172.0,1715.8 L181.3,1714.3 L190.5,1712.8 L199.8,1711.2 L209.0,1709.7 L218.3,1708.2 L227.5,1706.6 L236.8,1705.1 L246.0,1703.6 L255.3,1702.0 L264.5,1700.5 L273.8,1699.0 L283.0,1697.4 L292.3,1695.9 L301.5,1694.4 L301.5,1714.4 L292.3,1714.9 L283.0,1715.4 L273.8,1716.0 L264.5,1716.5 L255.3,1717.0 L246.0,1717.6 L236.8,1718.1 L227.5,1718.6 L218.3,1719.2 L209.0,1719.7 L199.8,1720.2 L190.5,1720.8 L181.3,1721.3 L172.0,1721.8 L162.8,1723.2 L153.5,1724.6 L144.3,1725.9 L135.0,1727.3 L125.8,1728.7 L116.5,1730.0 Z" fill="#7570b3" fill-opacity="0.4"/>
<line x1="116.5" y1="1725.0" x2="301.5" y2="1704.4" stroke="#7570b3" stroke-width="5"/>
<text x="243.0" y="1568.2" font-size="20.5" text-anchor="middle" fill="#000">p =  5.55e−03</text>
<text x="243.0" y="1597.8" font-size="20.5" text-anchor="middle" fill="#000">Marg. R2 =  3.03e−02</text>
<rect x="104.5" y="1539.5" width="277.0" height="511.8" fill="none" stroke="#333" stroke-width="2.3"/>
<rect x="104.5" y="1477.5" width="277.0" height="62.0" fill="#228b22" stroke="#333" stroke-width="2.3"/>
<line x1="103.4" y1="1539.8" x2="382.6" y2="1539.8" stroke="#333" stroke-width="3.6"/>
<text x="243.0" y="1518.7" font-size="28.3" text-anchor="middle" font-weight="bold" fill="#1a1a1a">ARF</text>
<line x1="116.5" y1="2052.4" x2="116.5" y2="2062.3" stroke="#333333" stroke-width="3.8"/>
<text x="116.5" y="2089.4" font-size="20.2" text-anchor="middle" fill="#4d4d4d">0</text>
<line x1="200.6" y1="2052.4" x2="200.6" y2="2062.3" stroke="#333333" stroke-width="3.8"/>
<text x="200.6" y="2089.4" font-size="20.2" text-anchor="middle" fill="#4d4d4d">200</text>
<line x1="284.7" y1="2052.4" x2="284.7" y2="2062.3" stroke="#333333" stroke-width="3.8"/>
<text x="284.7" y="2089.4" font-size="20.2" text-anchor="middle" fill="#4d4d4d">400</text>
<line x1="368.8" y1="2052.4" x2="368.8" y2="2062.3" stroke="#333333" stroke-width="3.8"/>
<text x="368.8" y="2089.4" font-size="20.2" text-anchor="middle" fill="#4d4d4d">600</text>
<rect x="405.1" y="1539.5" width="277.0" height="511.8" fill="#fff" stroke="none" stroke-width="1"/>
<g stroke="#ebebeb" stroke-width="1.6"><line x1="459.2" y1="1539.5" x2="459.2" y2="2051.3"/><line x1="543.2" y1="1539.5" x2="543.2" y2="2051.3"/><line x1="627.4" y1="1539.5" x2="627.4" y2="2051.3"/><line x1="405.1" y1="1575.2" x2="682.1" y2="1575.2"/><line x1="405.1" y1="1698.0" x2="682.1" y2="1698.0"/><line x1="405.1" y1="1820.8" x2="682.1" y2="1820.8"/><line x1="405.1" y1="1943.6" x2="682.1" y2="1943.6"/></g>
<g stroke="#ebebeb" stroke-width="3.0"><line x1="417.1" y1="1539.5" x2="417.1" y2="2051.3"/><line x1="501.2" y1="1539.5" x2="501.2" y2="2051.3"/><line x1="585.3" y1="1539.5" x2="585.3" y2="2051.3"/><line x1="669.4" y1="1539.5" x2="669.4" y2="2051.3"/><line x1="405.1" y1="1636.6" x2="682.1" y2="1636.6"/><line x1="405.1" y1="1759.4" x2="682.1" y2="1759.4"/><line x1="405.1" y1="1882.2" x2="682.1" y2="1882.2"/><line x1="405.1" y1="2005.0" x2="682.1" y2="2005.0"/></g>
<g class="fg" fill="#706ca6" stroke="#1c1a30"><circle cx="421" cy="1717"/><circle cx="635" cy="1723"/><circle cx="590" cy="1745"/><circle cx="541" cy="1697"/><circle cx="419" cy="1767"/><circle cx="623" cy="1716"/><circle cx="566" cy="1707"/><circle cx="419" cy="1720"/><circle cx="533" cy="1748"/><circle cx="420" cy="1733"/><circle cx="454" cy="1724"/><circle cx="552" cy="1704"/><circle cx="423" cy="1751"/><circle cx="461" cy="1735"/><circle cx="418" cy="1725"/><circle cx="418" cy="1701"/><circle cx="505" cy="1728"/><circle cx="484" cy="1707"/><circle cx="555" cy="1742"/><circle cx="419" cy="1716"/><circle cx="498" cy="1723"/><circle cx="442" cy="1724"/><circle cx="450" cy="1758"/><circle cx="487" cy="1738"/><circle cx="417" cy="1712"/><circle cx="487" cy="1700"/><circle cx="466" cy="1722"/><circle cx="422" cy="1733"/><circle cx="449" cy="1735"/><circle cx="650" cy="1705"/><circle cx="428" cy="1746"/><circle cx="482" cy="1721"/><circle cx="418" cy="1726"/><circle cx="474" cy="1726"/><circle cx="426" cy="1720"/><circle cx="570" cy="1719"/><circle cx="650" cy="1688"/><circle cx="510" cy="1703"/><circle cx="468" cy="1705"/><circle cx="445" cy="1730"/><circle cx="509" cy="1716"/><circle cx="539" cy="1740"/><circle cx="532" cy="1741"/><circle cx="426" cy="1715"/><circle cx="593" cy="1716"/><circle cx="465" cy="1728"/><circle cx="423" cy="1696"/><circle cx="592" cy="1722"/><circle cx="485" cy="1691"/><circle cx="575" cy="1689"/><circle cx="418" cy="1728"/><circle cx="561" cy="1732"/><circle cx="419" cy="1713"/><circle cx="421" cy="1740"/><circle cx="478" cy="1706"/><circle cx="574" cy="1722"/><circle cx="631" cy="1686"/><circle cx="418" cy="1696"/><circle cx="425" cy="1747"/><circle cx="556" cy="1701"/><circle cx="497" cy="1726"/><circle cx="522" cy="1704"/><circle cx="544" cy="1709"/><circle cx="465" cy="1729"/><circle cx="446" cy="1733"/><circle cx="417" cy="1713"/><circle cx="612" cy="1722"/><circle cx="434" cy="1702"/><circle cx="436" cy="1715"/><circle cx="590" cy="1735"/><circle cx="554" cy="1710"/><circle cx="479" cy="1728"/><circle cx="419" cy="1725"/><circle cx="464" cy="1712"/><circle cx="514" cy="1727"/><circle cx="471" cy="1727"/><circle cx="643" cy="1719"/><circle cx="449" cy="1753"/><circle cx="418" cy="1729"/><circle cx="424" cy="1695"/><circle cx="485" cy="1729"/><circle cx="513" cy="1714"/><circle cx="419" cy="1718"/><circle cx="609" cy="1711"/><circle cx="441" cy="1725"/><circle cx="583" cy="1737"/><circle cx="454" cy="1711"/><circle cx="644" cy="1717"/><circle cx="419" cy="1748"/><circle cx="423" cy="1717"/><circle cx="437" cy="1769"/><circle cx="463" cy="1742"/><circle cx="422" cy="1703"/><circle cx="508" cy="1704"/><circle cx="548" cy="1713"/><circle cx="503" cy="1718"/><circle cx="545" cy="1714"/><circle cx="601" cy="1705"/><circle cx="603" cy="1720"/><circle cx="426" cy="1733"/><circle cx="571" cy="1700"/><circle cx="453" cy="1741"/><circle cx="591" cy="1721"/><circle cx="425" cy="1719"/><circle cx="445" cy="1729"/><circle cx="423" cy="1718"/><circle cx="617" cy="1729"/><circle cx="639" cy="1718"/><circle cx="512" cy="1727"/><circle cx="424" cy="1723"/><circle cx="583" cy="1715"/><circle cx="451" cy="1731"/><circle cx="601" cy="1721"/><circle cx="418" cy="1716"/><circle cx="424" cy="1711"/><circle cx="432" cy="1733"/><circle cx="437" cy="1770"/><circle cx="652" cy="1704"/><circle cx="638" cy="1726"/><circle cx="528" cy="1732"/><circle cx="480" cy="1728"/><circle cx="545" cy="1692"/><circle cx="510" cy="1714"/><circle cx="488" cy="1725"/><circle cx="520" cy="1710"/><circle cx="468" cy="1747"/><circle cx="647" cy="1725"/><circle cx="607" cy="1717"/><circle cx="420" cy="1735"/><circle cx="608" cy="1733"/><circle cx="422" cy="1743"/><circle cx="463" cy="1733"/><circle cx="560" cy="1730"/><circle cx="420" cy="1723"/><circle cx="442" cy="1733"/><circle cx="624" cy="1710"/><circle cx="490" cy="1716"/><circle cx="532" cy="1706"/><circle cx="579" cy="1742"/><circle cx="438" cy="1712"/><circle cx="479" cy="1717"/><circle cx="514" cy="1721"/><circle cx="439" cy="1704"/><circle cx="417" cy="1699"/><circle cx="556" cy="1724"/><circle cx="543" cy="1741"/><circle cx="641" cy="1710"/><circle cx="419" cy="1729"/><circle cx="596" cy="1732"/><circle cx="485" cy="1708"/><circle cx="436" cy="1706"/><circle cx="445" cy="1711"/><circle cx="575" cy="1713"/><circle cx="560" cy="1716"/><circle cx="561" cy="1707"/><circle cx="562" cy="1728"/><circle cx="567" cy="1723"/><circle cx="483" cy="1748"/><circle cx="446" cy="1726"/><circle cx="418" cy="1721"/><circle cx="435" cy="1727"/><circle cx="569" cy="1702"/><circle cx="431" cy="1733"/><circle cx="575" cy="1698"/><circle cx="454" cy="1721"/><circle cx="478" cy="1719"/><circle cx="494" cy="1706"/><circle cx="585" cy="1719"/><circle cx="633" cy="1718"/><circle cx="496" cy="1704"/><circle cx="429" cy="1717"/><circle cx="440" cy="1743"/><circle cx="589" cy="1704"/><circle cx="457" cy="1720"/><circle cx="437" cy="1731"/><circle cx="419" cy="1747"/><circle cx="561" cy="1728"/><circle cx="424" cy="1727"/><circle cx="440" cy="1721"/><circle cx="423" cy="1715"/><circle cx="630" cy="1742"/><circle cx="501" cy="1730"/><circle cx="533" cy="1709"/><circle cx="527" cy="1725"/><circle cx="490" cy="1721"/><circle cx="572" cy="1702"/><circle cx="449" cy="1727"/><circle cx="446" cy="1746"/><circle cx="512" cy="1699"/><circle cx="587" cy="1722"/><circle cx="565" cy="1743"/><circle cx="438" cy="1725"/><circle cx="640" cy="1705"/><circle cx="550" cy="1702"/><circle cx="535" cy="1725"/><circle cx="418" cy="1695"/><circle cx="510" cy="1728"/><circle cx="471" cy="1726"/><circle cx="417" cy="1731"/><circle cx="492" cy="1717"/><circle cx="515" cy="1740"/><circle cx="419" cy="1752"/><circle cx="480" cy="1703"/><circle cx="556" cy="1742"/><circle cx="536" cy="1702"/><circle cx="622" cy="1701"/><circle cx="488" cy="1719"/><circle cx="450" cy="1751"/><circle cx="436" cy="1737"/><circle cx="495" cy="1708"/><circle cx="558" cy="1703"/><circle cx="418" cy="1711"/><circle cx="429" cy="1710"/><circle cx="469" cy="1710"/><circle cx="465" cy="1723"/><circle cx="476" cy="1705"/><circle cx="490" cy="1719"/><circle cx="471" cy="1683"/><circle cx="439" cy="1748"/><circle cx="649" cy="1695"/><circle cx="418" cy="1734"/><circle cx="427" cy="1735"/><circle cx="512" cy="1714"/><circle cx="479" cy="1741"/><circle cx="420" cy="1722"/><circle cx="621" cy="1720"/><circle cx="418" cy="1728"/><circle cx="448" cy="1755"/><circle cx="553" cy="1691"/><circle cx="431" cy="1743"/><circle cx="433" cy="1721"/><circle cx="418" cy="1720"/><circle cx="421" cy="1738"/><circle cx="428" cy="1722"/><circle cx="420" cy="1737"/><circle cx="460" cy="1698"/><circle cx="491" cy="1756"/><circle cx="496" cy="1718"/><circle cx="425" cy="1728"/><circle cx="615" cy="1695"/><circle cx="587" cy="1726"/><circle cx="495" cy="1712"/><circle cx="430" cy="1725"/><circle cx="419" cy="1717"/><circle cx="561" cy="1722"/><circle cx="547" cy="1749"/><circle cx="547" cy="1704"/><circle cx="418" cy="1750"/><circle cx="467" cy="1728"/><circle cx="591" cy="1698"/><circle cx="420" cy="1736"/><circle cx="423" cy="1718"/><circle cx="431" cy="1698"/><circle cx="466" cy="1723"/><circle cx="537" cy="1713"/><circle cx="456" cy="1752"/><circle cx="422" cy="1728"/><circle cx="462" cy="1735"/><circle cx="537" cy="1728"/><circle cx="515" cy="1719"/><circle cx="481" cy="1731"/><circle cx="468" cy="1716"/><circle cx="596" cy="1708"/><circle cx="550" cy="1715"/><circle cx="417" cy="1714"/><circle cx="441" cy="1718"/><circle cx="418" cy="1730"/><circle cx="576" cy="1722"/><circle cx="418" cy="1711"/><circle cx="419" cy="1753"/><circle cx="463" cy="1728"/><circle cx="420" cy="1748"/><circle cx="551" cy="1723"/><circle cx="418" cy="1720"/><circle cx="588" cy="1707"/><circle cx="427" cy="1709"/><circle cx="455" cy="1739"/><circle cx="422" cy="1729"/><circle cx="516" cy="1744"/><circle cx="423" cy="1727"/><circle cx="460" cy="1705"/><circle cx="505" cy="1723"/><circle cx="430" cy="1732"/><circle cx="606" cy="1716"/><circle cx="470" cy="1727"/><circle cx="541" cy="1730"/><circle cx="579" cy="1717"/><circle cx="483" cy="1743"/><circle cx="511" cy="1742"/><circle cx="614" cy="1719"/><circle cx="577" cy="1721"/><circle cx="630" cy="1719"/><circle cx="582" cy="1723"/><circle cx="419" cy="1702"/><circle cx="419" cy="1742"/><circle cx="542" cy="1695"/><circle cx="418" cy="1736"/><circle cx="470" cy="1719"/><circle cx="583" cy="1714"/><circle cx="489" cy="1744"/><circle cx="426" cy="1659"/><circle cx="522" cy="1769"/><circle cx="653" cy="1750"/><circle cx="556" cy="1669"/><circle cx="575" cy="1673"/><circle cx="581" cy="1678"/><circle cx="533" cy="1686"/></g>
<path d="M417.1,1720.0 L428.9,1719.8 L440.6,1719.6 L452.4,1719.3 L464.2,1719.1 L476.0,1718.9 L487.7,1718.6 L499.5,1717.8 L511.3,1717.1 L523.1,1716.3 L534.8,1715.5 L546.6,1714.7 L558.4,1714.0 L570.2,1713.2 L581.9,1712.4 L593.7,1711.6 L605.5,1710.8 L617.3,1710.1 L629.0,1709.3 L640.8,1708.5 L652.6,1707.7 L652.6,1719.7 L640.8,1720.1 L629.0,1720.4 L617.3,1720.8 L605.5,1721.1 L593.7,1721.5 L581.9,1721.8 L570.2,1722.2 L558.4,1722.5 L546.6,1722.9 L534.8,1723.2 L523.1,1723.6 L511.3,1723.9 L499.5,1724.3 L487.7,1724.6 L476.0,1725.5 L464.2,1726.4 L452.4,1727.3 L440.6,1728.2 L428.9,1729.1 L417.1,1730.0 Z" fill="#7570b3" fill-opacity="0.4"/>
<line x1="417.1" y1="1725.0" x2="652.6" y2="1713.7" stroke="#7570b3" stroke-width="5"/>
<text x="543.6" y="1568.2" font-size="20.5" text-anchor="middle" fill="#000">p =  2.67e−03</text>
<text x="543.6" y="1597.8" font-size="20.5" text-anchor="middle" fill="#000">Marg. R2 =  3.66e−02</text>
<rect x="405.1" y="1539.5" width="277.0" height="511.8" fill="none" stroke="#333" stroke-width="2.3"/>
<rect x="405.1" y="1477.5" width="277.0" height="62.0" fill="#76ee00" stroke="#333" stroke-width="2.3"/>
<line x1="404.0" y1="1539.8" x2="683.2" y2="1539.8" stroke="#333" stroke-width="3.6"/>
<text x="543.6" y="1518.7" font-size="28.3" text-anchor="middle" font-weight="bold" fill="#1a1a1a">STAFS</text>
<line x1="417.1" y1="2052.4" x2="417.1" y2="2062.3" stroke="#333333" stroke-width="3.8"/>
<text x="417.1" y="2089.4" font-size="20.2" text-anchor="middle" fill="#4d4d4d">0</text>
<line x1="501.2" y1="2052.4" x2="501.2" y2="2062.3" stroke="#333333" stroke-width="3.8"/>
<text x="501.2" y="2089.4" font-size="20.2" text-anchor="middle" fill="#4d4d4d">200</text>
<line x1="585.3" y1="2052.4" x2="585.3" y2="2062.3" stroke="#333333" stroke-width="3.8"/>
<text x="585.3" y="2089.4" font-size="20.2" text-anchor="middle" fill="#4d4d4d">400</text>
<line x1="669.4" y1="2052.4" x2="669.4" y2="2062.3" stroke="#333333" stroke-width="3.8"/>
<text x="669.4" y="2089.4" font-size="20.2" text-anchor="middle" fill="#4d4d4d">600</text>
<rect x="705.7" y="1539.5" width="277.0" height="511.8" fill="#fff" stroke="none" stroke-width="1"/>
<g stroke="#ebebeb" stroke-width="1.6"><line x1="759.8" y1="1539.5" x2="759.8" y2="2051.3"/><line x1="843.9" y1="1539.5" x2="843.9" y2="2051.3"/><line x1="928.0" y1="1539.5" x2="928.0" y2="2051.3"/><line x1="705.7" y1="1575.2" x2="982.7" y2="1575.2"/><line x1="705.7" y1="1698.0" x2="982.7" y2="1698.0"/><line x1="705.7" y1="1820.8" x2="982.7" y2="1820.8"/><line x1="705.7" y1="1943.6" x2="982.7" y2="1943.6"/></g>
<g stroke="#ebebeb" stroke-width="3.0"><line x1="717.7" y1="1539.5" x2="717.7" y2="2051.3"/><line x1="801.8" y1="1539.5" x2="801.8" y2="2051.3"/><line x1="885.9" y1="1539.5" x2="885.9" y2="2051.3"/><line x1="970.0" y1="1539.5" x2="970.0" y2="2051.3"/><line x1="705.7" y1="1636.6" x2="982.7" y2="1636.6"/><line x1="705.7" y1="1759.4" x2="982.7" y2="1759.4"/><line x1="705.7" y1="1882.2" x2="982.7" y2="1882.2"/><line x1="705.7" y1="2005.0" x2="982.7" y2="2005.0"/></g>
<g class="fg" fill="#706ca6" stroke="#1c1a30"><circle cx="809" cy="1722"/><circle cx="724" cy="1697"/><circle cx="720" cy="1723"/><circle cx="770" cy="1697"/><circle cx="804" cy="1695"/><circle cx="718" cy="1706"/><circle cx="718" cy="1727"/><circle cx="874" cy="1709"/><circle cx="809" cy="1721"/><circle cx="718" cy="1701"/><circle cx="720" cy="1707"/><circle cx="836" cy="1735"/><circle cx="729" cy="1705"/><circle cx="723" cy="1709"/><circle cx="910" cy="1710"/><circle cx="718" cy="1689"/><circle cx="728" cy="1713"/><circle cx="720" cy="1728"/><circle cx="862" cy="1732"/><circle cx="844" cy="1737"/><circle cx="719" cy="1695"/><circle cx="849" cy="1694"/><circle cx="790" cy="1718"/><circle cx="728" cy="1700"/><circle cx="895" cy="1714"/><circle cx="719" cy="1718"/><circle cx="720" cy="1699"/><circle cx="864" cy="1720"/><circle cx="718" cy="1692"/><circle cx="722" cy="1697"/><circle cx="718" cy="1714"/><circle cx="718" cy="1771"/><circle cx="721" cy="1728"/><circle cx="724" cy="1702"/><circle cx="762" cy="1733"/><circle cx="907" cy="1671"/><circle cx="822" cy="1711"/><circle cx="742" cy="1700"/><circle cx="752" cy="1708"/><circle cx="719" cy="1744"/><circle cx="720" cy="1726"/><circle cx="736" cy="1706"/><circle cx="718" cy="1706"/><circle cx="859" cy="1727"/><circle cx="771" cy="1690"/><circle cx="725" cy="1721"/><circle cx="871" cy="1715"/><circle cx="722" cy="1708"/><circle cx="723" cy="1722"/><circle cx="762" cy="1686"/><circle cx="903" cy="1734"/><circle cx="719" cy="1711"/><circle cx="719" cy="1745"/><circle cx="725" cy="1700"/><circle cx="722" cy="1733"/><circle cx="870" cy="1716"/><circle cx="751" cy="1739"/><circle cx="718" cy="1711"/><circle cx="893" cy="1717"/><circle cx="785" cy="1710"/><circle cx="725" cy="1742"/><circle cx="726" cy="1697"/><circle cx="831" cy="1696"/><circle cx="720" cy="1731"/><circle cx="722" cy="1728"/><circle cx="741" cy="1703"/><circle cx="875" cy="1699"/><circle cx="720" cy="1672"/><circle cx="719" cy="1724"/><circle cx="722" cy="1694"/><circle cx="793" cy="1664"/><circle cx="886" cy="1678"/><circle cx="737" cy="1725"/><circle cx="718" cy="1669"/><circle cx="862" cy="1723"/><circle cx="907" cy="1702"/><circle cx="719" cy="1729"/><circle cx="883" cy="1717"/><circle cx="722" cy="1732"/><circle cx="849" cy="1709"/><circle cx="719" cy="1704"/><circle cx="718" cy="1726"/><circle cx="719" cy="1725"/><circle cx="719" cy="1686"/><circle cx="726" cy="1696"/><circle cx="724" cy="1717"/><circle cx="737" cy="1689"/><circle cx="824" cy="1710"/><circle cx="721" cy="1742"/><circle cx="718" cy="1738"/><circle cx="731" cy="1739"/><circle cx="862" cy="1710"/><circle cx="719" cy="1693"/><circle cx="750" cy="1712"/><circle cx="724" cy="1752"/><circle cx="726" cy="1741"/><circle cx="766" cy="1709"/><circle cx="722" cy="1729"/><circle cx="720" cy="1761"/><circle cx="920" cy="1682"/><circle cx="720" cy="1746"/><circle cx="931" cy="1677"/><circle cx="857" cy="1710"/><circle cx="718" cy="1734"/><circle cx="718" cy="1713"/><circle cx="718" cy="1732"/><circle cx="758" cy="1688"/><circle cx="721" cy="1736"/><circle cx="725" cy="1736"/><circle cx="724" cy="1733"/><circle cx="733" cy="1715"/><circle cx="721" cy="1707"/><circle cx="783" cy="1704"/><circle cx="760" cy="1736"/><circle cx="857" cy="1716"/><circle cx="934" cy="1706"/><circle cx="748" cy="1724"/><circle cx="835" cy="1711"/><circle cx="838" cy="1696"/><circle cx="724" cy="1741"/><circle cx="868" cy="1722"/><circle cx="748" cy="1728"/><circle cx="858" cy="1700"/><circle cx="865" cy="1697"/><circle cx="729" cy="1718"/><circle cx="900" cy="1723"/><circle cx="913" cy="1712"/><circle cx="758" cy="1719"/><circle cx="848" cy="1683"/><circle cx="719" cy="1708"/><circle cx="724" cy="1710"/><circle cx="737" cy="1725"/><circle cx="726" cy="1719"/><circle cx="720" cy="1732"/><circle cx="718" cy="1716"/><circle cx="777" cy="1734"/><circle cx="719" cy="1693"/><circle cx="720" cy="1727"/><circle cx="721" cy="1754"/><circle cx="718" cy="1710"/><circle cx="740" cy="1726"/><circle cx="719" cy="1715"/><circle cx="758" cy="1725"/><circle cx="911" cy="1719"/><circle cx="719" cy="1729"/><circle cx="719" cy="1731"/><circle cx="723" cy="1731"/><circle cx="795" cy="1720"/><circle cx="833" cy="1726"/><circle cx="935" cy="1696"/><circle cx="741" cy="1709"/><circle cx="724" cy="1764"/><circle cx="720" cy="1756"/><circle cx="719" cy="1746"/><circle cx="819" cy="1725"/><circle cx="720" cy="1724"/><circle cx="841" cy="1702"/><circle cx="720" cy="1734"/><circle cx="737" cy="1712"/><circle cx="720" cy="1740"/><circle cx="782" cy="1716"/><circle cx="808" cy="1731"/><circle cx="723" cy="1685"/><circle cx="721" cy="1693"/><circle cx="798" cy="1716"/><circle cx="914" cy="1707"/><circle cx="722" cy="1742"/><circle cx="818" cy="1706"/><circle cx="720" cy="1731"/><circle cx="720" cy="1745"/><circle cx="895" cy="1708"/><circle cx="829" cy="1720"/><circle cx="852" cy="1709"/><circle cx="720" cy="1708"/><circle cx="831" cy="1693"/><circle cx="753" cy="1714"/><circle cx="771" cy="1715"/><circle cx="721" cy="1711"/><circle cx="821" cy="1717"/><circle cx="719" cy="1732"/><circle cx="718" cy="1702"/><circle cx="918" cy="1708"/><circle cx="735" cy="1730"/><circle cx="769" cy="1731"/><circle cx="719" cy="1680"/><circle cx="719" cy="1745"/><circle cx="720" cy="1707"/><circle cx="764" cy="1747"/><circle cx="737" cy="1747"/><circle cx="776" cy="1723"/><circle cx="720" cy="1762"/><circle cx="719" cy="1666"/><circle cx="771" cy="1691"/><circle cx="749" cy="1696"/><circle cx="720" cy="1694"/><circle cx="750" cy="1705"/><circle cx="724" cy="1741"/><circle cx="722" cy="1710"/><circle cx="770" cy="1704"/><circle cx="762" cy="1716"/><circle cx="720" cy="1747"/><circle cx="906" cy="1701"/><circle cx="724" cy="1732"/><circle cx="783" cy="1752"/><circle cx="721" cy="1709"/><circle cx="722" cy="1716"/><circle cx="773" cy="1716"/><circle cx="719" cy="1707"/><circle cx="810" cy="1711"/><circle cx="719" cy="1706"/><circle cx="801" cy="1759"/><circle cx="833" cy="1715"/><circle cx="724" cy="1720"/><circle cx="801" cy="1681"/><circle cx="723" cy="1727"/><circle cx="746" cy="1718"/><circle cx="762" cy="1686"/><circle cx="774" cy="1714"/><circle cx="796" cy="1719"/><circle cx="720" cy="1720"/><circle cx="795" cy="1729"/><circle cx="731" cy="1695"/><circle cx="719" cy="1728"/><circle cx="727" cy="1728"/><circle cx="933" cy="1702"/><circle cx="721" cy="1699"/><circle cx="858" cy="1691"/><circle cx="718" cy="1710"/><circle cx="724" cy="1723"/><circle cx="728" cy="1743"/><circle cx="767" cy="1754"/><circle cx="855" cy="1713"/><circle cx="724" cy="1696"/><circle cx="842" cy="1742"/><circle cx="765" cy="1745"/><circle cx="770" cy="1687"/><circle cx="825" cy="1713"/><circle cx="726" cy="1721"/><circle cx="774" cy="1716"/><circle cx="809" cy="1729"/><circle cx="753" cy="1704"/><circle cx="720" cy="1727"/><circle cx="718" cy="1722"/><circle cx="718" cy="1716"/><circle cx="725" cy="1731"/><circle cx="720" cy="1781"/><circle cx="893" cy="1732"/><circle cx="719" cy="1699"/><circle cx="719" cy="1711"/><circle cx="732" cy="1711"/><circle cx="724" cy="1716"/><circle cx="723" cy="1718"/><circle cx="924" cy="1680"/><circle cx="720" cy="1750"/><circle cx="758" cy="1767"/><circle cx="896" cy="1715"/><circle cx="850" cy="1687"/><circle cx="719" cy="1722"/><circle cx="898" cy="1693"/><circle cx="718" cy="1728"/><circle cx="795" cy="1713"/><circle cx="720" cy="1701"/><circle cx="725" cy="1747"/><circle cx="864" cy="1725"/><circle cx="718" cy="1700"/><circle cx="735" cy="1703"/><circle cx="768" cy="1694"/><circle cx="789" cy="1688"/><circle cx="721" cy="1739"/><circle cx="718" cy="1720"/><circle cx="721" cy="1698"/><circle cx="873" cy="1673"/><circle cx="800" cy="1706"/><circle cx="840" cy="1675"/><circle cx="831" cy="1727"/><circle cx="720" cy="1695"/><circle cx="747" cy="1684"/><circle cx="918" cy="1687"/><circle cx="732" cy="1726"/><circle cx="718" cy="1701"/><circle cx="764" cy="1699"/><circle cx="729" cy="1726"/><circle cx="723" cy="1778"/><circle cx="840" cy="1699"/><circle cx="746" cy="1700"/><circle cx="721" cy="1732"/><circle cx="719" cy="1762"/><circle cx="750" cy="1725"/><circle cx="720" cy="1725"/><circle cx="894" cy="1713"/><circle cx="916" cy="1688"/><circle cx="790" cy="1709"/><circle cx="722" cy="1717"/><circle cx="720" cy="1718"/><circle cx="883" cy="1706"/><circle cx="770" cy="1734"/><circle cx="726" cy="1722"/><circle cx="722" cy="1691"/><circle cx="773" cy="1722"/><circle cx="720" cy="1724"/><circle cx="756" cy="1617"/><circle cx="753" cy="1622"/><circle cx="722" cy="1966"/><circle cx="730" cy="1966"/><circle cx="724" cy="2012"/><circle cx="726" cy="1784"/><circle cx="730" cy="1769"/><circle cx="730" cy="1767"/><circle cx="720" cy="1646"/><circle cx="810" cy="1759"/></g>
<path d="M717.7,1715.1 L728.6,1714.5 L739.6,1713.9 L750.5,1713.2 L761.4,1712.6 L772.4,1712.0 L783.3,1711.4 L794.2,1709.7 L805.2,1708.1 L816.1,1706.5 L827.0,1704.8 L838.0,1703.2 L848.9,1701.5 L859.8,1699.9 L870.8,1698.2 L881.7,1696.6 L892.6,1695.0 L903.6,1693.3 L914.5,1691.7 L925.4,1690.0 L936.4,1688.4 L936.4,1720.4 L925.4,1720.3 L914.5,1720.2 L903.6,1720.2 L892.6,1720.1 L881.7,1720.0 L870.8,1720.0 L859.8,1719.9 L848.9,1719.8 L838.0,1719.7 L827.0,1719.7 L816.1,1719.6 L805.2,1719.5 L794.2,1719.5 L783.3,1719.4 L772.4,1720.3 L761.4,1721.3 L750.5,1722.2 L739.6,1723.2 L728.6,1724.2 L717.7,1725.1 Z" fill="#7570b3" fill-opacity="0.4"/>
<line x1="717.7" y1="1720.1" x2="936.4" y2="1704.4" stroke="#7570b3" stroke-width="5"/>
<text x="844.2" y="1568.2" font-size="20.5" text-anchor="middle" fill="#000">p =  1.79e−01</text>
<text x="844.2" y="1597.8" font-size="20.5" text-anchor="middle" fill="#000">Marg. R2 =  1.03e−02</text>
<rect x="705.7" y="1539.5" width="277.0" height="511.8" fill="none" stroke="#333" stroke-width="2.3"/>
<rect x="705.7" y="1477.5" width="277.0" height="62.0" fill="#7b358d" stroke="#333" stroke-width="2.3"/>
<line x1="704.6" y1="1539.8" x2="983.8" y2="1539.8" stroke="#333" stroke-width="3.6"/>
<text x="844.2" y="1518.7" font-size="28.3" text-anchor="middle" font-weight="bold" fill="#1a1a1a">FIRS</text>
<line x1="717.7" y1="2052.4" x2="717.7" y2="2062.3" stroke="#333333" stroke-width="3.8"/>
<text x="717.7" y="2089.4" font-size="20.2" text-anchor="middle" fill="#4d4d4d">0</text>
<line x1="801.8" y1="2052.4" x2="801.8" y2="2062.3" stroke="#333333" stroke-width="3.8"/>
<text x="801.8" y="2089.4" font-size="20.2" text-anchor="middle" fill="#4d4d4d">200</text>
<line x1="885.9" y1="2052.4" x2="885.9" y2="2062.3" stroke="#333333" stroke-width="3.8"/>
<text x="885.9" y="2089.4" font-size="20.2" text-anchor="middle" fill="#4d4d4d">400</text>
<line x1="970.0" y1="2052.4" x2="970.0" y2="2062.3" stroke="#333333" stroke-width="3.8"/>
<text x="970.0" y="2089.4" font-size="20.2" text-anchor="middle" fill="#4d4d4d">600</text>
<line x1="92.5" y1="1636.6" x2="103.4" y2="1636.6" stroke="#333333" stroke-width="3.8"/>
<text x="82.3" y="1643.8" font-size="20.2" text-anchor="end" fill="#4d4d4d">5.0</text>
<line x1="92.5" y1="1759.4" x2="103.4" y2="1759.4" stroke="#333333" stroke-width="3.8"/>
<text x="82.3" y="1766.6" font-size="20.2" text-anchor="end" fill="#4d4d4d">2.5</text>
<line x1="92.5" y1="1882.2" x2="103.4" y2="1882.2" stroke="#333333" stroke-width="3.8"/>
<text x="82.3" y="1889.4" font-size="20.2" text-anchor="end" fill="#4d4d4d">0.0</text>
<line x1="92.5" y1="2005.0" x2="103.4" y2="2005.0" stroke="#333333" stroke-width="3.8"/>
<text x="82.3" y="2012.2" font-size="20.2" text-anchor="end" fill="#4d4d4d">−2.5</text>
<text x="543.5" y="2124.9" font-size="29" text-anchor="middle" fill="#000">ADD</text>
<text x="33.5" y="1795.5" font-size="29" text-anchor="middle" fill="#000" transform="rotate(-90 33.5 1795.5)">clr(Abundance)</text>
<text x="1606.0" y="1448.0" font-size="29" text-anchor="middle" fill="#000">Protein−like Metabolites in Soil</text>
<rect x="1158.5" y="1539.5" width="281.8" height="511.8" fill="#fff" stroke="none" stroke-width="1"/>
<g stroke="#ebebeb" stroke-width="1.6"><line x1="1213.8" y1="1539.5" x2="1213.8" y2="2051.3"/><line x1="1300.0" y1="1539.5" x2="1300.0" y2="2051.3"/><line x1="1386.2" y1="1539.5" x2="1386.2" y2="2051.3"/><line x1="1158.5" y1="1629.7" x2="1440.3" y2="1629.7"/><line x1="1158.5" y1="1763.0" x2="1440.3" y2="1763.0"/><line x1="1158.5" y1="1896.4" x2="1440.3" y2="1896.4"/><line x1="1158.5" y1="2029.7" x2="1440.3" y2="2029.7"/></g>
<g stroke="#ebebeb" stroke-width="3.0"><line x1="1170.7" y1="1539.5" x2="1170.7" y2="2051.3"/><line x1="1256.9" y1="1539.5" x2="1256.9" y2="2051.3"/><line x1="1343.1" y1="1539.5" x2="1343.1" y2="2051.3"/><line x1="1429.3" y1="1539.5" x2="1429.3" y2="2051.3"/><line x1="1158.5" y1="1563.0" x2="1440.3" y2="1563.0"/><line x1="1158.5" y1="1696.4" x2="1440.3" y2="1696.4"/><line x1="1158.5" y1="1829.7" x2="1440.3" y2="1829.7"/><line x1="1158.5" y1="1963.0" x2="1440.3" y2="1963.0"/></g>
<g class="fg" fill="#d43482" stroke="#4a0e2a"><circle cx="1176" cy="1752"/><circle cx="1291" cy="1767"/><circle cx="1271" cy="1720"/><circle cx="1193" cy="1722"/><circle cx="1177" cy="1719"/><circle cx="1174" cy="1775"/><circle cx="1268" cy="1719"/><circle cx="1250" cy="1729"/><circle cx="1175" cy="1739"/><circle cx="1273" cy="1760"/><circle cx="1288" cy="1749"/><circle cx="1298" cy="1693"/><circle cx="1357" cy="1739"/><circle cx="1175" cy="1759"/><circle cx="1171" cy="1758"/><circle cx="1171" cy="1735"/><circle cx="1317" cy="1733"/><circle cx="1294" cy="1703"/><circle cx="1294" cy="1759"/><circle cx="1172" cy="1786"/><circle cx="1340" cy="1758"/><circle cx="1249" cy="1743"/><circle cx="1211" cy="1761"/><circle cx="1171" cy="1726"/><circle cx="1262" cy="1747"/><circle cx="1326" cy="1704"/><circle cx="1188" cy="1696"/><circle cx="1254" cy="1720"/><circle cx="1319" cy="1784"/><circle cx="1192" cy="1728"/><circle cx="1191" cy="1717"/><circle cx="1348" cy="1725"/><circle cx="1317" cy="1739"/><circle cx="1344" cy="1754"/><circle cx="1248" cy="1748"/><circle cx="1173" cy="1747"/><circle cx="1219" cy="1769"/><circle cx="1194" cy="1764"/><circle cx="1296" cy="1742"/><circle cx="1306" cy="1727"/><circle cx="1345" cy="1717"/><circle cx="1289" cy="1779"/><circle cx="1185" cy="1707"/><circle cx="1176" cy="1698"/><circle cx="1173" cy="1704"/><circle cx="1173" cy="1755"/><circle cx="1273" cy="1756"/><circle cx="1225" cy="1707"/><circle cx="1171" cy="1722"/><circle cx="1211" cy="1696"/><circle cx="1248" cy="1754"/><circle cx="1332" cy="1775"/><circle cx="1292" cy="1677"/><circle cx="1188" cy="1688"/><circle cx="1175" cy="1732"/><circle cx="1207" cy="1699"/><circle cx="1305" cy="1750"/><circle cx="1255" cy="1726"/><circle cx="1230" cy="1727"/><circle cx="1232" cy="1802"/><circle cx="1171" cy="1762"/><circle cx="1185" cy="1687"/><circle cx="1199" cy="1789"/><circle cx="1204" cy="1755"/><circle cx="1258" cy="1728"/><circle cx="1172" cy="1709"/><circle cx="1174" cy="1733"/><circle cx="1171" cy="1705"/><circle cx="1195" cy="1706"/><circle cx="1238" cy="1792"/><circle cx="1279" cy="1705"/><circle cx="1201" cy="1718"/><circle cx="1236" cy="1760"/><circle cx="1342" cy="1693"/><circle cx="1171" cy="1729"/><circle cx="1243" cy="1755"/><circle cx="1195" cy="1713"/><circle cx="1175" cy="1722"/><circle cx="1333" cy="1692"/><circle cx="1181" cy="1720"/><circle cx="1276" cy="1760"/><circle cx="1172" cy="1699"/><circle cx="1201" cy="1691"/><circle cx="1206" cy="1662"/><circle cx="1173" cy="1734"/><circle cx="1251" cy="1785"/><circle cx="1305" cy="1736"/><circle cx="1214" cy="1700"/><circle cx="1234" cy="1740"/><circle cx="1305" cy="1781"/><circle cx="1182" cy="1757"/><circle cx="1327" cy="1723"/><circle cx="1171" cy="1703"/><circle cx="1310" cy="1754"/><circle cx="1199" cy="1788"/><circle cx="1204" cy="1728"/><circle cx="1180" cy="1714"/><circle cx="1179" cy="1751"/><circle cx="1240" cy="1729"/><circle cx="1171" cy="1729"/><circle cx="1204" cy="1702"/><circle cx="1220" cy="1704"/><circle cx="1235" cy="1729"/><circle cx="1242" cy="1751"/><circle cx="1247" cy="1736"/><circle cx="1203" cy="1742"/><circle cx="1220" cy="1721"/><circle cx="1216" cy="1685"/><circle cx="1172" cy="1770"/><circle cx="1309" cy="1717"/><circle cx="1266" cy="1764"/><circle cx="1345" cy="1717"/><circle cx="1174" cy="1765"/><circle cx="1174" cy="1782"/><circle cx="1261" cy="1733"/><circle cx="1304" cy="1732"/><circle cx="1172" cy="1746"/><circle cx="1172" cy="1676"/><circle cx="1360" cy="1754"/><circle cx="1256" cy="1744"/><circle cx="1350" cy="1708"/><circle cx="1209" cy="1735"/><circle cx="1238" cy="1765"/><circle cx="1172" cy="1698"/><circle cx="1318" cy="1727"/><circle cx="1182" cy="1757"/><circle cx="1186" cy="1744"/><circle cx="1269" cy="1725"/><circle cx="1320" cy="1721"/><circle cx="1183" cy="1728"/><circle cx="1338" cy="1809"/><circle cx="1176" cy="1835"/><circle cx="1180" cy="1720"/><circle cx="1302" cy="1707"/><circle cx="1281" cy="1723"/><circle cx="1216" cy="1680"/><circle cx="1203" cy="1781"/><circle cx="1237" cy="1773"/><circle cx="1279" cy="1728"/><circle cx="1207" cy="1762"/><circle cx="1175" cy="1672"/><circle cx="1173" cy="1763"/><circle cx="1310" cy="1784"/><circle cx="1320" cy="1717"/><circle cx="1184" cy="1717"/><circle cx="1213" cy="1743"/><circle cx="1173" cy="1764"/><circle cx="1172" cy="1720"/><circle cx="1188" cy="1746"/><circle cx="1348" cy="1691"/><circle cx="1203" cy="1721"/><circle cx="1201" cy="1755"/><circle cx="1306" cy="1717"/><circle cx="1324" cy="1766"/><circle cx="1201" cy="1751"/><circle cx="1172" cy="1695"/><circle cx="1289" cy="1739"/><circle cx="1172" cy="1700"/><circle cx="1213" cy="1741"/><circle cx="1268" cy="1727"/><circle cx="1347" cy="1684"/><circle cx="1186" cy="1704"/><circle cx="1249" cy="1698"/><circle cx="1171" cy="1767"/><circle cx="1171" cy="1740"/><circle cx="1328" cy="1787"/><circle cx="1180" cy="1757"/><circle cx="1284" cy="1748"/><circle cx="1333" cy="1749"/><circle cx="1192" cy="1771"/><circle cx="1173" cy="1735"/><circle cx="1174" cy="1818"/><circle cx="1331" cy="1801"/><circle cx="1185" cy="1780"/><circle cx="1239" cy="1784"/><circle cx="1172" cy="1741"/><circle cx="1360" cy="1707"/><circle cx="1325" cy="1746"/><circle cx="1242" cy="1771"/><circle cx="1247" cy="1737"/><circle cx="1176" cy="1801"/><circle cx="1174" cy="1818"/><circle cx="1181" cy="1723"/><circle cx="1207" cy="1763"/><circle cx="1350" cy="1730"/><circle cx="1268" cy="1689"/><circle cx="1210" cy="1702"/><circle cx="1255" cy="1744"/><circle cx="1342" cy="1774"/><circle cx="1181" cy="1796"/><circle cx="1282" cy="1731"/><circle cx="1171" cy="1730"/><circle cx="1321" cy="1723"/><circle cx="1201" cy="1753"/><circle cx="1220" cy="1746"/><circle cx="1208" cy="1768"/><circle cx="1206" cy="1770"/><circle cx="1185" cy="1682"/><circle cx="1242" cy="1742"/><circle cx="1232" cy="1764"/><circle cx="1338" cy="1727"/><circle cx="1249" cy="1684"/><circle cx="1237" cy="1724"/><circle cx="1194" cy="1778"/><circle cx="1171" cy="1784"/><circle cx="1353" cy="1747"/><circle cx="1182" cy="1733"/><circle cx="1207" cy="1722"/><circle cx="1352" cy="1747"/><circle cx="1236" cy="1749"/><circle cx="1214" cy="1714"/><circle cx="1208" cy="1742"/><circle cx="1244" cy="1709"/><circle cx="1242" cy="1767"/><circle cx="1244" cy="1762"/><circle cx="1173" cy="1751"/><circle cx="1174" cy="1668"/><circle cx="1179" cy="1803"/><circle cx="1186" cy="1803"/><circle cx="1315" cy="1696"/><circle cx="1196" cy="1768"/><circle cx="1223" cy="1767"/><circle cx="1215" cy="1754"/><circle cx="1217" cy="1761"/><circle cx="1325" cy="1747"/><circle cx="1179" cy="1713"/><circle cx="1335" cy="1750"/><circle cx="1171" cy="1749"/><circle cx="1172" cy="1709"/><circle cx="1253" cy="1724"/><circle cx="1340" cy="1716"/><circle cx="1171" cy="1767"/><circle cx="1240" cy="1693"/><circle cx="1342" cy="1694"/><circle cx="1225" cy="1765"/><circle cx="1226" cy="1755"/><circle cx="1207" cy="1758"/><circle cx="1172" cy="1709"/><circle cx="1172" cy="1735"/><circle cx="1327" cy="1728"/><circle cx="1171" cy="1671"/><circle cx="1223" cy="1732"/><circle cx="1354" cy="1747"/><circle cx="1171" cy="1793"/><circle cx="1217" cy="1677"/><circle cx="1259" cy="1739"/><circle cx="1271" cy="1704"/><circle cx="1200" cy="1740"/><circle cx="1303" cy="1776"/><circle cx="1207" cy="1722"/><circle cx="1287" cy="1752"/><circle cx="1284" cy="1729"/><circle cx="1171" cy="1723"/><circle cx="1253" cy="1788"/><circle cx="1171" cy="1677"/><circle cx="1171" cy="1717"/><circle cx="1328" cy="1753"/><circle cx="1317" cy="1716"/><circle cx="1182" cy="1760"/><circle cx="1179" cy="1740"/><circle cx="1175" cy="1772"/><circle cx="1263" cy="1739"/><circle cx="1267" cy="1765"/><circle cx="1289" cy="1748"/><circle cx="1182" cy="1666"/><circle cx="1171" cy="1757"/><circle cx="1239" cy="1797"/><circle cx="1172" cy="1746"/><circle cx="1261" cy="1700"/><circle cx="1199" cy="1709"/><circle cx="1202" cy="1771"/><circle cx="1262" cy="1731"/><circle cx="1261" cy="1732"/><circle cx="1241" cy="1746"/><circle cx="1181" cy="1735"/><circle cx="1279" cy="1713"/><circle cx="1345" cy="1701"/><circle cx="1264" cy="1728"/><circle cx="1287" cy="1768"/><circle cx="1213" cy="1729"/><circle cx="1304" cy="1730"/><circle cx="1246" cy="1739"/><circle cx="1317" cy="1749"/><circle cx="1177" cy="1725"/><circle cx="1333" cy="1799"/><circle cx="1184" cy="1754"/><circle cx="1177" cy="1745"/><circle cx="1196" cy="1706"/><circle cx="1197" cy="1761"/><circle cx="1172" cy="1729"/><circle cx="1329" cy="1726"/><circle cx="1278" cy="1754"/><circle cx="1323" cy="1742"/><circle cx="1258" cy="1740"/><circle cx="1172" cy="1742"/><circle cx="1227" cy="1712"/><circle cx="1179" cy="1742"/><circle cx="1177" cy="1753"/><circle cx="1320" cy="1760"/><circle cx="1172" cy="1724"/><circle cx="1171" cy="1840"/><circle cx="1197" cy="1940"/><circle cx="1274" cy="1610"/><circle cx="1248" cy="1646"/><circle cx="1285" cy="1650"/><circle cx="1330" cy="1676"/></g>
<path d="M1170.7,1735.0 L1180.2,1734.9 L1189.7,1734.7 L1199.2,1734.5 L1208.6,1734.4 L1218.1,1734.2 L1227.6,1734.0 L1237.1,1733.0 L1246.6,1732.0 L1256.0,1731.0 L1265.5,1730.0 L1275.0,1729.0 L1284.5,1728.0 L1294.0,1727.0 L1303.5,1726.0 L1312.9,1725.0 L1322.4,1724.0 L1331.9,1723.0 L1341.4,1722.0 L1350.9,1721.0 L1360.3,1720.0 L1360.3,1742.0 L1350.9,1742.0 L1341.4,1742.0 L1331.9,1742.0 L1322.4,1742.0 L1312.9,1742.0 L1303.5,1742.0 L1294.0,1742.0 L1284.5,1742.0 L1275.0,1742.0 L1265.5,1742.0 L1256.0,1742.0 L1246.6,1742.0 L1237.1,1742.0 L1227.6,1742.0 L1218.1,1742.9 L1208.6,1743.7 L1199.2,1744.5 L1189.7,1745.4 L1180.2,1746.2 L1170.7,1747.0 Z" fill="#e7298a" fill-opacity="0.4"/>
<line x1="1170.7" y1="1741.0" x2="1360.3" y2="1731.0" stroke="#e7298a" stroke-width="5"/>
<text x="1299.4" y="1568.2" font-size="20.5" text-anchor="middle" fill="#000">p =  3.1e−01</text>
<text x="1299.4" y="1597.8" font-size="20.5" text-anchor="middle" fill="#000">Marg. R2 =  3.99e−03</text>
<rect x="1158.5" y="1539.5" width="281.8" height="511.8" fill="none" stroke="#333" stroke-width="2.3"/>
<rect x="1158.5" y="1477.5" width="281.8" height="62.0" fill="#228b22" stroke="#333" stroke-width="2.3"/>
<line x1="1157.4" y1="1539.8" x2="1441.4" y2="1539.8" stroke="#333" stroke-width="3.6"/>
<text x="1299.4" y="1518.7" font-size="28.3" text-anchor="middle" font-weight="bold" fill="#1a1a1a">ARF</text>
<line x1="1170.7" y1="2052.4" x2="1170.7" y2="2062.3" stroke="#333333" stroke-width="3.8"/>
<text x="1170.7" y="2089.4" font-size="20.2" text-anchor="middle" fill="#4d4d4d">0</text>
<line x1="1256.9" y1="2052.4" x2="1256.9" y2="2062.3" stroke="#333333" stroke-width="3.8"/>
<text x="1256.9" y="2089.4" font-size="20.2" text-anchor="middle" fill="#4d4d4d">200</text>
<line x1="1343.1" y1="2052.4" x2="1343.1" y2="2062.3" stroke="#333333" stroke-width="3.8"/>
<text x="1343.1" y="2089.4" font-size="20.2" text-anchor="middle" fill="#4d4d4d">400</text>
<line x1="1429.3" y1="2052.4" x2="1429.3" y2="2062.3" stroke="#333333" stroke-width="3.8"/>
<text x="1429.3" y="2089.4" font-size="20.2" text-anchor="middle" fill="#4d4d4d">600</text>
<rect x="1464.9" y="1539.5" width="281.8" height="511.8" fill="#fff" stroke="none" stroke-width="1"/>
<g stroke="#ebebeb" stroke-width="1.6"><line x1="1520.2" y1="1539.5" x2="1520.2" y2="2051.3"/><line x1="1606.4" y1="1539.5" x2="1606.4" y2="2051.3"/><line x1="1692.6" y1="1539.5" x2="1692.6" y2="2051.3"/><line x1="1464.9" y1="1629.7" x2="1746.7" y2="1629.7"/><line x1="1464.9" y1="1763.0" x2="1746.7" y2="1763.0"/><line x1="1464.9" y1="1896.4" x2="1746.7" y2="1896.4"/><line x1="1464.9" y1="2029.7" x2="1746.7" y2="2029.7"/></g>
<g stroke="#ebebeb" stroke-width="3.0"><line x1="1477.1" y1="1539.5" x2="1477.1" y2="2051.3"/><line x1="1563.3" y1="1539.5" x2="1563.3" y2="2051.3"/><line x1="1649.5" y1="1539.5" x2="1649.5" y2="2051.3"/><line x1="1735.7" y1="1539.5" x2="1735.7" y2="2051.3"/><line x1="1464.9" y1="1563.0" x2="1746.7" y2="1563.0"/><line x1="1464.9" y1="1696.4" x2="1746.7" y2="1696.4"/><line x1="1464.9" y1="1829.7" x2="1746.7" y2="1829.7"/><line x1="1464.9" y1="1963.0" x2="1746.7" y2="1963.0"/></g>
<g class="fg" fill="#d43482" stroke="#4a0e2a"><circle cx="1629" cy="1771"/><circle cx="1616" cy="1757"/><circle cx="1490" cy="1713"/><circle cx="1577" cy="1704"/><circle cx="1479" cy="1687"/><circle cx="1548" cy="1746"/><circle cx="1478" cy="1732"/><circle cx="1526" cy="1736"/><circle cx="1494" cy="1751"/><circle cx="1489" cy="1666"/><circle cx="1642" cy="1744"/><circle cx="1481" cy="1741"/><circle cx="1547" cy="1742"/><circle cx="1511" cy="1800"/><circle cx="1477" cy="1713"/><circle cx="1523" cy="1798"/><circle cx="1702" cy="1722"/><circle cx="1478" cy="1698"/><circle cx="1666" cy="1738"/><circle cx="1493" cy="1755"/><circle cx="1538" cy="1743"/><circle cx="1636" cy="1707"/><circle cx="1485" cy="1753"/><circle cx="1687" cy="1762"/><circle cx="1591" cy="1714"/><circle cx="1481" cy="1690"/><circle cx="1691" cy="1781"/><circle cx="1546" cy="1721"/><circle cx="1501" cy="1670"/><circle cx="1553" cy="1707"/><circle cx="1622" cy="1768"/><circle cx="1478" cy="1687"/><circle cx="1651" cy="1741"/><circle cx="1652" cy="1758"/><circle cx="1478" cy="1658"/><circle cx="1480" cy="1719"/><circle cx="1526" cy="1731"/><circle cx="1480" cy="1780"/><circle cx="1560" cy="1821"/><circle cx="1675" cy="1772"/><circle cx="1539" cy="1779"/><circle cx="1578" cy="1777"/><circle cx="1655" cy="1736"/><circle cx="1534" cy="1750"/><circle cx="1643" cy="1739"/><circle cx="1652" cy="1716"/><circle cx="1558" cy="1748"/><circle cx="1477" cy="1766"/><circle cx="1600" cy="1746"/><circle cx="1530" cy="1703"/><circle cx="1479" cy="1748"/><circle cx="1701" cy="1739"/><circle cx="1576" cy="1693"/><circle cx="1658" cy="1708"/><circle cx="1646" cy="1748"/><circle cx="1643" cy="1728"/><circle cx="1660" cy="1761"/><circle cx="1492" cy="1734"/><circle cx="1492" cy="1708"/><circle cx="1485" cy="1756"/><circle cx="1484" cy="1715"/><circle cx="1477" cy="1764"/><circle cx="1491" cy="1772"/><circle cx="1622" cy="1756"/><circle cx="1479" cy="1755"/><circle cx="1567" cy="1719"/><circle cx="1542" cy="1727"/><circle cx="1514" cy="1736"/><circle cx="1512" cy="1724"/><circle cx="1603" cy="1732"/><circle cx="1693" cy="1707"/><circle cx="1540" cy="1795"/><circle cx="1478" cy="1706"/><circle cx="1514" cy="1752"/><circle cx="1655" cy="1747"/><circle cx="1610" cy="1754"/><circle cx="1480" cy="1745"/><circle cx="1671" cy="1742"/><circle cx="1500" cy="1673"/><circle cx="1479" cy="1646"/><circle cx="1634" cy="1762"/><circle cx="1688" cy="1732"/><circle cx="1717" cy="1721"/><circle cx="1480" cy="1755"/><circle cx="1627" cy="1753"/><circle cx="1647" cy="1775"/><circle cx="1635" cy="1766"/><circle cx="1604" cy="1733"/><circle cx="1601" cy="1761"/><circle cx="1707" cy="1728"/><circle cx="1614" cy="1740"/><circle cx="1597" cy="1739"/><circle cx="1545" cy="1821"/><circle cx="1479" cy="1723"/><circle cx="1600" cy="1761"/><circle cx="1589" cy="1699"/><circle cx="1561" cy="1817"/><circle cx="1575" cy="1776"/><circle cx="1477" cy="1740"/><circle cx="1478" cy="1707"/><circle cx="1534" cy="1753"/><circle cx="1491" cy="1726"/><circle cx="1492" cy="1723"/><circle cx="1643" cy="1722"/><circle cx="1507" cy="1651"/><circle cx="1616" cy="1698"/><circle cx="1674" cy="1750"/><circle cx="1593" cy="1762"/><circle cx="1565" cy="1756"/><circle cx="1485" cy="1676"/><circle cx="1693" cy="1730"/><circle cx="1580" cy="1710"/><circle cx="1498" cy="1704"/><circle cx="1620" cy="1720"/><circle cx="1530" cy="1726"/><circle cx="1646" cy="1693"/><circle cx="1606" cy="1770"/><circle cx="1482" cy="1785"/><circle cx="1658" cy="1750"/><circle cx="1488" cy="1744"/><circle cx="1480" cy="1748"/><circle cx="1669" cy="1789"/><circle cx="1591" cy="1800"/><circle cx="1512" cy="1779"/><circle cx="1684" cy="1781"/><circle cx="1479" cy="1705"/><circle cx="1478" cy="1690"/><circle cx="1483" cy="1764"/><circle cx="1480" cy="1725"/><circle cx="1618" cy="1783"/><circle cx="1479" cy="1757"/><circle cx="1555" cy="1748"/><circle cx="1479" cy="1742"/><circle cx="1483" cy="1721"/><circle cx="1494" cy="1782"/><circle cx="1541" cy="1767"/><circle cx="1642" cy="1722"/><circle cx="1568" cy="1719"/><circle cx="1591" cy="1753"/><circle cx="1573" cy="1772"/><circle cx="1581" cy="1762"/><circle cx="1506" cy="1692"/><circle cx="1563" cy="1738"/><circle cx="1669" cy="1747"/><circle cx="1530" cy="1740"/><circle cx="1592" cy="1760"/><circle cx="1641" cy="1780"/><circle cx="1480" cy="1734"/><circle cx="1514" cy="1717"/><circle cx="1502" cy="1703"/><circle cx="1478" cy="1705"/><circle cx="1478" cy="1808"/><circle cx="1554" cy="1750"/><circle cx="1484" cy="1733"/><circle cx="1485" cy="1687"/><circle cx="1516" cy="1742"/><circle cx="1525" cy="1723"/><circle cx="1483" cy="1767"/><circle cx="1495" cy="1736"/><circle cx="1483" cy="1765"/><circle cx="1691" cy="1790"/><circle cx="1514" cy="1776"/><circle cx="1521" cy="1798"/><circle cx="1477" cy="1758"/><circle cx="1491" cy="1727"/><circle cx="1513" cy="1754"/><circle cx="1517" cy="1736"/><circle cx="1685" cy="1737"/><circle cx="1528" cy="1711"/><circle cx="1650" cy="1717"/><circle cx="1498" cy="1751"/><circle cx="1618" cy="1769"/><circle cx="1527" cy="1705"/><circle cx="1695" cy="1712"/><circle cx="1499" cy="1672"/><circle cx="1565" cy="1717"/><circle cx="1505" cy="1739"/><circle cx="1481" cy="1697"/><circle cx="1495" cy="1704"/><circle cx="1526" cy="1689"/><circle cx="1533" cy="1708"/><circle cx="1590" cy="1755"/><circle cx="1483" cy="1729"/><circle cx="1525" cy="1750"/><circle cx="1616" cy="1764"/><circle cx="1560" cy="1727"/><circle cx="1605" cy="1692"/><circle cx="1509" cy="1734"/><circle cx="1481" cy="1697"/><circle cx="1608" cy="1719"/><circle cx="1698" cy="1772"/><circle cx="1683" cy="1734"/><circle cx="1478" cy="1779"/><circle cx="1544" cy="1670"/><circle cx="1528" cy="1804"/><circle cx="1480" cy="1794"/><circle cx="1570" cy="1753"/><circle cx="1528" cy="1753"/><circle cx="1478" cy="1697"/><circle cx="1573" cy="1783"/><circle cx="1612" cy="1769"/><circle cx="1546" cy="1743"/><circle cx="1487" cy="1694"/><circle cx="1683" cy="1759"/><circle cx="1546" cy="1732"/><circle cx="1479" cy="1746"/><circle cx="1598" cy="1712"/><circle cx="1676" cy="1711"/><circle cx="1619" cy="1758"/><circle cx="1480" cy="1737"/><circle cx="1556" cy="1806"/><circle cx="1499" cy="1789"/><circle cx="1606" cy="1760"/><circle cx="1551" cy="1709"/><circle cx="1506" cy="1775"/><circle cx="1557" cy="1730"/><circle cx="1655" cy="1731"/><circle cx="1657" cy="1749"/><circle cx="1561" cy="1709"/><circle cx="1542" cy="1705"/><circle cx="1606" cy="1789"/><circle cx="1555" cy="1737"/><circle cx="1483" cy="1740"/><circle cx="1528" cy="1754"/><circle cx="1570" cy="1731"/><circle cx="1674" cy="1778"/><circle cx="1657" cy="1693"/><circle cx="1481" cy="1719"/><circle cx="1502" cy="1685"/><circle cx="1479" cy="1803"/><circle cx="1549" cy="1677"/><circle cx="1505" cy="1784"/><circle cx="1613" cy="1715"/><circle cx="1629" cy="1718"/><circle cx="1488" cy="1730"/><circle cx="1478" cy="1742"/><circle cx="1613" cy="1717"/><circle cx="1481" cy="1737"/><circle cx="1479" cy="1732"/><circle cx="1547" cy="1807"/><circle cx="1496" cy="1715"/><circle cx="1663" cy="1744"/><circle cx="1481" cy="1774"/><circle cx="1637" cy="1751"/><circle cx="1692" cy="1711"/><circle cx="1610" cy="1674"/><circle cx="1642" cy="1714"/><circle cx="1706" cy="1731"/><circle cx="1611" cy="1750"/><circle cx="1539" cy="1759"/><circle cx="1573" cy="1715"/><circle cx="1651" cy="1770"/><circle cx="1480" cy="1739"/><circle cx="1557" cy="1728"/><circle cx="1633" cy="1752"/><circle cx="1587" cy="1754"/><circle cx="1566" cy="1716"/><circle cx="1641" cy="1753"/><circle cx="1590" cy="1810"/><circle cx="1486" cy="1792"/><circle cx="1515" cy="1712"/><circle cx="1571" cy="1705"/><circle cx="1542" cy="1751"/><circle cx="1507" cy="1736"/><circle cx="1480" cy="1718"/><circle cx="1560" cy="1739"/><circle cx="1574" cy="1746"/><circle cx="1677" cy="1759"/><circle cx="1555" cy="1750"/><circle cx="1485" cy="1770"/><circle cx="1656" cy="1759"/><circle cx="1481" cy="1713"/><circle cx="1662" cy="1725"/><circle cx="1569" cy="1715"/><circle cx="1577" cy="1703"/><circle cx="1483" cy="1782"/><circle cx="1554" cy="1738"/><circle cx="1486" cy="1729"/><circle cx="1534" cy="1737"/><circle cx="1599" cy="1778"/><circle cx="1574" cy="1736"/><circle cx="1557" cy="1708"/><circle cx="1490" cy="1729"/><circle cx="1535" cy="1701"/><circle cx="1635" cy="1815"/><circle cx="1536" cy="1802"/><circle cx="1660" cy="1747"/><circle cx="1478" cy="1705"/><circle cx="1583" cy="1765"/><circle cx="1666" cy="1737"/><circle cx="1479" cy="1731"/><circle cx="1499" cy="1730"/><circle cx="1677" cy="1789"/><circle cx="1717" cy="1749"/><circle cx="1666" cy="1707"/><circle cx="1552" cy="1653"/><circle cx="1617" cy="1724"/><circle cx="1478" cy="1709"/><circle cx="1481" cy="1756"/><circle cx="1568" cy="1716"/><circle cx="1477" cy="1620"/><circle cx="1492" cy="1626"/><circle cx="1486" cy="1656"/><circle cx="1542" cy="1646"/><circle cx="1619" cy="1816"/><circle cx="1654" cy="1816"/><circle cx="1701" cy="1783"/></g>
<path d="M1477.1,1727.0 L1489.2,1728.2 L1501.2,1729.4 L1513.3,1730.5 L1525.4,1731.7 L1537.4,1732.9 L1549.5,1734.0 L1561.6,1734.3 L1573.7,1734.6 L1585.7,1734.8 L1597.8,1735.1 L1609.9,1735.3 L1621.9,1735.6 L1634.0,1735.9 L1646.1,1736.1 L1658.1,1736.4 L1670.2,1736.6 L1682.3,1736.9 L1694.3,1737.2 L1706.4,1737.4 L1718.5,1737.7 L1718.5,1761.7 L1706.4,1760.3 L1694.3,1758.9 L1682.3,1757.5 L1670.2,1756.1 L1658.1,1754.7 L1646.1,1753.3 L1634.0,1751.9 L1621.9,1750.5 L1609.9,1749.1 L1597.8,1747.6 L1585.7,1746.2 L1573.7,1744.8 L1561.6,1743.4 L1549.5,1742.0 L1537.4,1741.5 L1525.4,1741.0 L1513.3,1740.5 L1501.2,1740.0 L1489.2,1739.5 L1477.1,1739.0 Z" fill="#e7298a" fill-opacity="0.4"/>
<line x1="1477.1" y1="1733.0" x2="1718.5" y2="1749.7" stroke="#e7298a" stroke-width="5"/>
<text x="1605.8" y="1568.2" font-size="20.5" text-anchor="middle" fill="#000">p =  4.38e−02</text>
<text x="1605.8" y="1597.8" font-size="20.5" text-anchor="middle" fill="#000">Marg. R2 =  1.62e−02</text>
<rect x="1464.9" y="1539.5" width="281.8" height="511.8" fill="none" stroke="#333" stroke-width="2.3"/>
<rect x="1464.9" y="1477.5" width="281.8" height="62.0" fill="#76ee00" stroke="#333" stroke-width="2.3"/>
<line x1="1463.8" y1="1539.8" x2="1747.8" y2="1539.8" stroke="#333" stroke-width="3.6"/>
<text x="1605.8" y="1518.7" font-size="28.3" text-anchor="middle" font-weight="bold" fill="#1a1a1a">STAFS</text>
<line x1="1477.1" y1="2052.4" x2="1477.1" y2="2062.3" stroke="#333333" stroke-width="3.8"/>
<text x="1477.1" y="2089.4" font-size="20.2" text-anchor="middle" fill="#4d4d4d">0</text>
<line x1="1563.3" y1="2052.4" x2="1563.3" y2="2062.3" stroke="#333333" stroke-width="3.8"/>
<text x="1563.3" y="2089.4" font-size="20.2" text-anchor="middle" fill="#4d4d4d">200</text>
<line x1="1649.5" y1="2052.4" x2="1649.5" y2="2062.3" stroke="#333333" stroke-width="3.8"/>
<text x="1649.5" y="2089.4" font-size="20.2" text-anchor="middle" fill="#4d4d4d">400</text>
<line x1="1735.7" y1="2052.4" x2="1735.7" y2="2062.3" stroke="#333333" stroke-width="3.8"/>
<text x="1735.7" y="2089.4" font-size="20.2" text-anchor="middle" fill="#4d4d4d">600</text>
<rect x="1771.3" y="1539.5" width="281.8" height="511.8" fill="#fff" stroke="none" stroke-width="1"/>
<g stroke="#ebebeb" stroke-width="1.6"><line x1="1826.6" y1="1539.5" x2="1826.6" y2="2051.3"/><line x1="1912.8" y1="1539.5" x2="1912.8" y2="2051.3"/><line x1="1999.0" y1="1539.5" x2="1999.0" y2="2051.3"/><line x1="1771.3" y1="1629.7" x2="2053.1" y2="1629.7"/><line x1="1771.3" y1="1763.0" x2="2053.1" y2="1763.0"/><line x1="1771.3" y1="1896.4" x2="2053.1" y2="1896.4"/><line x1="1771.3" y1="2029.7" x2="2053.1" y2="2029.7"/></g>
<g stroke="#ebebeb" stroke-width="3.0"><line x1="1783.5" y1="1539.5" x2="1783.5" y2="2051.3"/><line x1="1869.7" y1="1539.5" x2="1869.7" y2="2051.3"/><line x1="1955.9" y1="1539.5" x2="1955.9" y2="2051.3"/><line x1="2042.1" y1="1539.5" x2="2042.1" y2="2051.3"/><line x1="1771.3" y1="1563.0" x2="2053.1" y2="1563.0"/><line x1="1771.3" y1="1696.4" x2="2053.1" y2="1696.4"/><line x1="1771.3" y1="1829.7" x2="2053.1" y2="1829.7"/><line x1="1771.3" y1="1963.0" x2="2053.1" y2="1963.0"/></g>
<g class="fg" fill="#d43482" stroke="#4a0e2a"><circle cx="1869" cy="1732"/><circle cx="1976" cy="1759"/><circle cx="1788" cy="1722"/><circle cx="1847" cy="1722"/><circle cx="1793" cy="1787"/><circle cx="1872" cy="1733"/><circle cx="1800" cy="1734"/><circle cx="1790" cy="1714"/><circle cx="1805" cy="1753"/><circle cx="1840" cy="1685"/><circle cx="1835" cy="1714"/><circle cx="1784" cy="1734"/><circle cx="1786" cy="1731"/><circle cx="1817" cy="1726"/><circle cx="1790" cy="1765"/><circle cx="1785" cy="1699"/><circle cx="1897" cy="1761"/><circle cx="1996" cy="1758"/><circle cx="1805" cy="1691"/><circle cx="1785" cy="1711"/><circle cx="1784" cy="1748"/><circle cx="1790" cy="1700"/><circle cx="1785" cy="1710"/><circle cx="1954" cy="1724"/><circle cx="1943" cy="1720"/><circle cx="1787" cy="1809"/><circle cx="1785" cy="1708"/><circle cx="1790" cy="1812"/><circle cx="1784" cy="1733"/><circle cx="1938" cy="1762"/><circle cx="1788" cy="1765"/><circle cx="1861" cy="1737"/><circle cx="1787" cy="1701"/><circle cx="1839" cy="1672"/><circle cx="1786" cy="1680"/><circle cx="1785" cy="1768"/><circle cx="1900" cy="1733"/><circle cx="1910" cy="1745"/><circle cx="1784" cy="1698"/><circle cx="1940" cy="1715"/><circle cx="1788" cy="1778"/><circle cx="1784" cy="1697"/><circle cx="1788" cy="1743"/><circle cx="2007" cy="1742"/><circle cx="1993" cy="1736"/><circle cx="1788" cy="1762"/><circle cx="1788" cy="1730"/><circle cx="1789" cy="1687"/><circle cx="1944" cy="1750"/><circle cx="1822" cy="1687"/><circle cx="1791" cy="1704"/><circle cx="1787" cy="1718"/><circle cx="1799" cy="1722"/><circle cx="1786" cy="1798"/><circle cx="1784" cy="1708"/><circle cx="1791" cy="1645"/><circle cx="1786" cy="1725"/><circle cx="1963" cy="1768"/><circle cx="1882" cy="1765"/><circle cx="1784" cy="1705"/><circle cx="1841" cy="1787"/><circle cx="1982" cy="1777"/><circle cx="1788" cy="1694"/><circle cx="1946" cy="1731"/><circle cx="1850" cy="1742"/><circle cx="1787" cy="1695"/><circle cx="1787" cy="1796"/><circle cx="1792" cy="1685"/><circle cx="1811" cy="1720"/><circle cx="1786" cy="1666"/><circle cx="1808" cy="1676"/><circle cx="1795" cy="1744"/><circle cx="1824" cy="1726"/><circle cx="1787" cy="1676"/><circle cx="1917" cy="1719"/><circle cx="1788" cy="1710"/><circle cx="1787" cy="1740"/><circle cx="1785" cy="1790"/><circle cx="1958" cy="1705"/><circle cx="1825" cy="1714"/><circle cx="1863" cy="1761"/><circle cx="1892" cy="1682"/><circle cx="1791" cy="1709"/><circle cx="1785" cy="1751"/><circle cx="1815" cy="1714"/><circle cx="1923" cy="1804"/><circle cx="1786" cy="1695"/><circle cx="1788" cy="1671"/><circle cx="1821" cy="1691"/><circle cx="1787" cy="1778"/><circle cx="1785" cy="1758"/><circle cx="1789" cy="1724"/><circle cx="1784" cy="1710"/><circle cx="1897" cy="1741"/><circle cx="1785" cy="1754"/><circle cx="1787" cy="1751"/><circle cx="1785" cy="1684"/><circle cx="1786" cy="1780"/><circle cx="1788" cy="1690"/><circle cx="1786" cy="1733"/><circle cx="1793" cy="1696"/><circle cx="1785" cy="1690"/><circle cx="1946" cy="1749"/><circle cx="1797" cy="1787"/><circle cx="1838" cy="1624"/><circle cx="1937" cy="1775"/><circle cx="1836" cy="1766"/><circle cx="1822" cy="1700"/><circle cx="1790" cy="1770"/><circle cx="1786" cy="1762"/><circle cx="1787" cy="1706"/><circle cx="1793" cy="1737"/><circle cx="1874" cy="1744"/><circle cx="1791" cy="1723"/><circle cx="1789" cy="1719"/><circle cx="1786" cy="1731"/><circle cx="1830" cy="1751"/><circle cx="1785" cy="1798"/><circle cx="1952" cy="1724"/><circle cx="1786" cy="1676"/><circle cx="1786" cy="1764"/><circle cx="1786" cy="1753"/><circle cx="1801" cy="1735"/><circle cx="1791" cy="1710"/><circle cx="1788" cy="1735"/><circle cx="1786" cy="1695"/><circle cx="1858" cy="1756"/><circle cx="1913" cy="1717"/><circle cx="1899" cy="1744"/><circle cx="1785" cy="1734"/><circle cx="1785" cy="1753"/><circle cx="1785" cy="1748"/><circle cx="1820" cy="1719"/><circle cx="1787" cy="1693"/><circle cx="1784" cy="1679"/><circle cx="1789" cy="1709"/><circle cx="1853" cy="1801"/><circle cx="1806" cy="1715"/><circle cx="1786" cy="1807"/><circle cx="1786" cy="1780"/><circle cx="1842" cy="1767"/><circle cx="1789" cy="1736"/><circle cx="1786" cy="1752"/><circle cx="1787" cy="1722"/><circle cx="1787" cy="1755"/><circle cx="1932" cy="1735"/><circle cx="1898" cy="1775"/><circle cx="1785" cy="1698"/><circle cx="1791" cy="1700"/><circle cx="1863" cy="1687"/><circle cx="1790" cy="1717"/><circle cx="1786" cy="1752"/><circle cx="1902" cy="1718"/><circle cx="1784" cy="1750"/><circle cx="1864" cy="1734"/><circle cx="1862" cy="1735"/><circle cx="1989" cy="1684"/><circle cx="1788" cy="1729"/><circle cx="1789" cy="1678"/><circle cx="1965" cy="1754"/><circle cx="1787" cy="1705"/><circle cx="1785" cy="1737"/><circle cx="1955" cy="1755"/><circle cx="1812" cy="1738"/><circle cx="1922" cy="1760"/><circle cx="1865" cy="1778"/><circle cx="1788" cy="1799"/><circle cx="1786" cy="1766"/><circle cx="1841" cy="1750"/><circle cx="1784" cy="1756"/><circle cx="1784" cy="1744"/><circle cx="1785" cy="1767"/><circle cx="1821" cy="1674"/><circle cx="1784" cy="1710"/><circle cx="1784" cy="1758"/><circle cx="1788" cy="1773"/><circle cx="1855" cy="1753"/><circle cx="1787" cy="1799"/><circle cx="1796" cy="1699"/><circle cx="2003" cy="1692"/><circle cx="1785" cy="1733"/><circle cx="1929" cy="1715"/><circle cx="1908" cy="1772"/><circle cx="1787" cy="1743"/><circle cx="1793" cy="1771"/><circle cx="1905" cy="1716"/><circle cx="1789" cy="1741"/><circle cx="1814" cy="1754"/><circle cx="1789" cy="1747"/><circle cx="1892" cy="1720"/><circle cx="1784" cy="1778"/><circle cx="1857" cy="1730"/><circle cx="1785" cy="1766"/><circle cx="1787" cy="1778"/><circle cx="1940" cy="1757"/><circle cx="1884" cy="1648"/><circle cx="1885" cy="1764"/><circle cx="1784" cy="1763"/><circle cx="1808" cy="1759"/><circle cx="1793" cy="1773"/><circle cx="1789" cy="1768"/><circle cx="1874" cy="1741"/><circle cx="1845" cy="1727"/><circle cx="1786" cy="1756"/><circle cx="1966" cy="1752"/><circle cx="1784" cy="1693"/><circle cx="1785" cy="1790"/><circle cx="1784" cy="1696"/><circle cx="2002" cy="1671"/><circle cx="1784" cy="1805"/><circle cx="1996" cy="1699"/><circle cx="1789" cy="1768"/><circle cx="1994" cy="1737"/><circle cx="1784" cy="1714"/><circle cx="1963" cy="1726"/><circle cx="1858" cy="1697"/><circle cx="1803" cy="1743"/><circle cx="1924" cy="1755"/><circle cx="1852" cy="1782"/><circle cx="1793" cy="1754"/><circle cx="1786" cy="1749"/><circle cx="1849" cy="1750"/><circle cx="1924" cy="1746"/><circle cx="1832" cy="1718"/><circle cx="1795" cy="1718"/><circle cx="1804" cy="1714"/><circle cx="1784" cy="1759"/><circle cx="1812" cy="1694"/><circle cx="1799" cy="1738"/><circle cx="1785" cy="1787"/><circle cx="1785" cy="1745"/><circle cx="1955" cy="1756"/><circle cx="1791" cy="1767"/><circle cx="1790" cy="1780"/><circle cx="1839" cy="1783"/><circle cx="1788" cy="1718"/><circle cx="1846" cy="1690"/><circle cx="1837" cy="1771"/><circle cx="1790" cy="1728"/><circle cx="1796" cy="1729"/><circle cx="1889" cy="1751"/><circle cx="1791" cy="1755"/><circle cx="1812" cy="1736"/><circle cx="1787" cy="1780"/><circle cx="1787" cy="1750"/><circle cx="1984" cy="1731"/><circle cx="1791" cy="1648"/><circle cx="1946" cy="1760"/><circle cx="1908" cy="1730"/><circle cx="1788" cy="1794"/><circle cx="1843" cy="1732"/><circle cx="1784" cy="1773"/><circle cx="1795" cy="1716"/><circle cx="1955" cy="1705"/><circle cx="1787" cy="1770"/><circle cx="1833" cy="1723"/><circle cx="1784" cy="1699"/><circle cx="1974" cy="1745"/><circle cx="1842" cy="1755"/><circle cx="1850" cy="1716"/><circle cx="1840" cy="1777"/><circle cx="1788" cy="1691"/><circle cx="1984" cy="1768"/><circle cx="1784" cy="1727"/><circle cx="1784" cy="1743"/><circle cx="2005" cy="1787"/><circle cx="1785" cy="1755"/><circle cx="1789" cy="1690"/><circle cx="1966" cy="1765"/><circle cx="1786" cy="1714"/><circle cx="1918" cy="1746"/><circle cx="1789" cy="1737"/><circle cx="1786" cy="1781"/><circle cx="1790" cy="1703"/><circle cx="1888" cy="1756"/><circle cx="1794" cy="1751"/><circle cx="1790" cy="1822"/><circle cx="1843" cy="1720"/><circle cx="1811" cy="1715"/><circle cx="1786" cy="1734"/><circle cx="1784" cy="1715"/><circle cx="1941" cy="1792"/><circle cx="1786" cy="1749"/><circle cx="1832" cy="1756"/><circle cx="1788" cy="1738"/><circle cx="1863" cy="1714"/><circle cx="1786" cy="1719"/><circle cx="1935" cy="1710"/><circle cx="1790" cy="1756"/><circle cx="1987" cy="1740"/><circle cx="1787" cy="1666"/><circle cx="1787" cy="1732"/><circle cx="1999" cy="1758"/><circle cx="1850" cy="1726"/><circle cx="1919" cy="1706"/><circle cx="1785" cy="1720"/><circle cx="1789" cy="1779"/><circle cx="1784" cy="1762"/><circle cx="1932" cy="1759"/><circle cx="1788" cy="1749"/><circle cx="1784" cy="1940"/><circle cx="1794" cy="1940"/><circle cx="1784" cy="2023"/><circle cx="1818" cy="1610"/><circle cx="1786" cy="1623"/><circle cx="1870" cy="1656"/><circle cx="1887" cy="1656"/><circle cx="1868" cy="1806"/></g>
<path d="M1783.5,1731.7 L1794.7,1732.2 L1805.9,1732.7 L1817.1,1733.2 L1828.3,1733.7 L1839.5,1734.2 L1850.7,1734.7 L1861.9,1733.7 L1873.2,1732.7 L1884.4,1731.8 L1895.6,1730.8 L1906.8,1729.8 L1918.0,1728.8 L1929.2,1727.9 L1940.4,1726.9 L1951.6,1725.9 L1962.8,1724.9 L1974.0,1724.0 L1985.2,1723.0 L1996.4,1722.0 L2007.6,1721.0 L2007.6,1761.0 L1996.4,1759.7 L1985.2,1758.4 L1974.0,1757.1 L1962.8,1755.8 L1951.6,1754.5 L1940.4,1753.2 L1929.2,1751.9 L1918.0,1750.6 L1906.8,1749.2 L1895.6,1747.9 L1884.4,1746.6 L1873.2,1745.3 L1861.9,1744.0 L1850.7,1742.7 L1839.5,1742.9 L1828.3,1743.0 L1817.1,1743.2 L1805.9,1743.4 L1794.7,1743.5 L1783.5,1743.7 Z" fill="#e7298a" fill-opacity="0.4"/>
<line x1="1783.5" y1="1737.7" x2="2007.6" y2="1741.0" stroke="#e7298a" stroke-width="5"/>
<text x="1912.2" y="1568.2" font-size="20.5" text-anchor="middle" fill="#000">p =  7.61e−01</text>
<text x="1912.2" y="1597.8" font-size="20.5" text-anchor="middle" fill="#000">Marg. R2 =  3.8e−04</text>
<rect x="1771.3" y="1539.5" width="281.8" height="511.8" fill="none" stroke="#333" stroke-width="2.3"/>
<rect x="1771.3" y="1477.5" width="281.8" height="62.0" fill="#7b358d" stroke="#333" stroke-width="2.3"/>
<line x1="1770.2" y1="1539.8" x2="2054.2" y2="1539.8" stroke="#333" stroke-width="3.6"/>
<text x="1912.2" y="1518.7" font-size="28.3" text-anchor="middle" font-weight="bold" fill="#1a1a1a">FIRS</text>
<line x1="1783.5" y1="2052.4" x2="1783.5" y2="2062.3" stroke="#333333" stroke-width="3.8"/>
<text x="1783.5" y="2089.4" font-size="20.2" text-anchor="middle" fill="#4d4d4d">0</text>
<line x1="1869.7" y1="2052.4" x2="1869.7" y2="2062.3" stroke="#333333" stroke-width="3.8"/>
<text x="1869.7" y="2089.4" font-size="20.2" text-anchor="middle" fill="#4d4d4d">200</text>
<line x1="1955.9" y1="2052.4" x2="1955.9" y2="2062.3" stroke="#333333" stroke-width="3.8"/>
<text x="1955.9" y="2089.4" font-size="20.2" text-anchor="middle" fill="#4d4d4d">400</text>
<line x1="2042.1" y1="2052.4" x2="2042.1" y2="2062.3" stroke="#333333" stroke-width="3.8"/>
<text x="2042.1" y="2089.4" font-size="20.2" text-anchor="middle" fill="#4d4d4d">600</text>
<line x1="1146.5" y1="1563.0" x2="1157.4" y2="1563.0" stroke="#333333" stroke-width="3.8"/>
<text x="1136.7" y="1570.2" font-size="20.2" text-anchor="end" fill="#4d4d4d">4</text>
<line x1="1146.5" y1="1696.4" x2="1157.4" y2="1696.4" stroke="#333333" stroke-width="3.8"/>
<text x="1136.7" y="1703.6" font-size="20.2" text-anchor="end" fill="#4d4d4d">2</text>
<line x1="1146.5" y1="1829.7" x2="1157.4" y2="1829.7" stroke="#333333" stroke-width="3.8"/>
<text x="1136.7" y="1836.9" font-size="20.2" text-anchor="end" fill="#4d4d4d">0</text>
<line x1="1146.5" y1="1963.0" x2="1157.4" y2="1963.0" stroke="#333333" stroke-width="3.8"/>
<text x="1136.7" y="1970.2" font-size="20.2" text-anchor="end" fill="#4d4d4d">−2</text>
<text x="1606.0" y="2124.9" font-size="29" text-anchor="middle" fill="#000">ADD</text>
<text x="1103.5" y="1795.5" font-size="29" text-anchor="middle" fill="#000" transform="rotate(-90 1103.5 1795.5)">clr(Abundance)</text>
<text x="2.9" y="24.8" font-size="29.2" text-anchor="start" font-weight="bold" fill="#000">a</text>
<text x="1.8" y="727.9" font-size="29.2" text-anchor="start" font-weight="bold" fill="#000">b</text>
<text x="673.6" y="25.1" font-size="29.2" text-anchor="start" font-weight="bold" fill="#000">c</text>
<text x="673.6" y="727.8" font-size="29.2" text-anchor="start" font-weight="bold" fill="#000">d</text>
<text x="1437.9" y="25.1" font-size="29.2" text-anchor="start" font-weight="bold" fill="#000">e</text>
<text x="1438.5" y="728.0" font-size="29.2" text-anchor="start" font-weight="bold" fill="#000">f</text>
<text x="2.7" y="1428.7" font-size="29.2" text-anchor="start" font-weight="bold" fill="#000">g</text>
<text x="1069.1" y="1434.2" font-size="29.2" text-anchor="start" font-weight="bold" fill="#000">h</text>
</svg>
</body></html>
